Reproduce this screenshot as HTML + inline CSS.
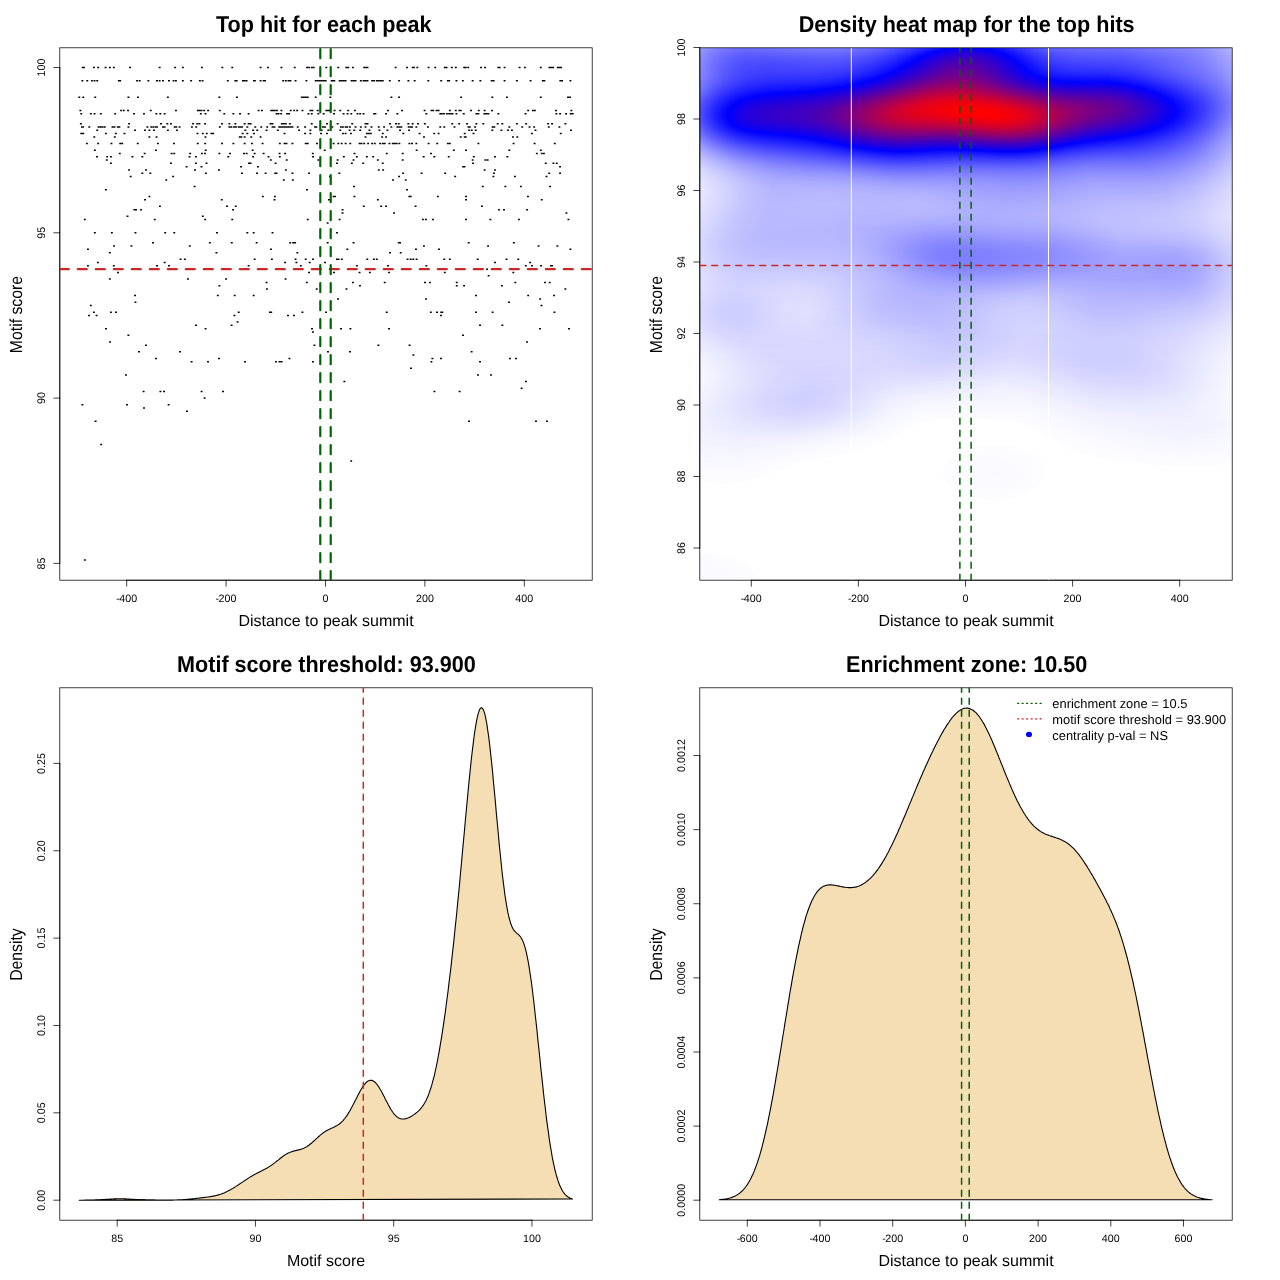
<!DOCTYPE html><html><head><meta charset="utf-8"><title>plots</title><style>html,body{margin:0;padding:0;background:#fff;}body{position:relative;width:1280px;height:1280px;overflow:hidden;}svg{display:block;position:absolute;left:0;top:0;will-change:transform;}text{font-family:"Liberation Sans",sans-serif;fill:#000;text-rendering:geometricPrecision;}#hm{position:absolute;left:700px;top:48px;width:532px;height:532px;}#hm div{height:1px;width:532px;}</style></head><body><div id="hm"><div style="background:linear-gradient(90deg,#9a9aff 0.5px,#8989ff 11.5px,#7c7cff 21.5px,#7373ff 31.5px,#6f6fff 41.5px,#6e6eff 57.5px,#7777ff 97.5px,#7979ff 122.5px,#7777ff 143.5px,#7070ff 162.5px,#6464ff 179.5px,#5252ff 195.5px,#3e3eff 209.5px,#1111ff 237.5px,#0000ff 250.5px,#0600f9 258.5px,#0800f7 266.5px,#0600f9 274.5px,#0100fe 282.5px,#0505ff 287.5px,#1111ff 296.5px,#4b4bff 332.5px,#5858ff 342.5px,#6161ff 352.5px,#6a6aff 372.5px,#6f6fff 426.5px,#8181ff 474.5px,#8a8aff 490.5px,#9494ff 504.5px,#a2a2ff 517.5px,#b4b4ff 531.5px)"></div><div style="background:linear-gradient(90deg,#9898ff 0.5px,#8585ff 12.5px,#7878ff 22.5px,#7070ff 32.5px,#6b6bff 42.5px,#6b6bff 58.5px,#7373ff 98.5px,#7676ff 121.5px,#7474ff 142.5px,#6d6dff 160.5px,#6060ff 178.5px,#4e4eff 195.5px,#3b3bff 208.5px,#0101ff 244.5px,#0b00f4 256.5px,#0f00f0 266.5px,#0b00f4 277.5px,#0000ff 288.5px,#0e0eff 298.5px,#4646ff 331.5px,#5454ff 342.5px,#5e5eff 353.5px,#6767ff 373.5px,#6c6cff 426.5px,#7f7fff 474.5px,#8888ff 490.5px,#9292ff 504.5px,#a0a0ff 517.5px,#b2b2ff 531.5px)"></div><div style="background:linear-gradient(90deg,#9797ff 0.5px,#8383ff 12.5px,#7676ff 22.5px,#6d6dff 32.5px,#6868ff 42.5px,#6868ff 59.5px,#7070ff 98.5px,#7272ff 121.5px,#7171ff 141.5px,#6a6aff 158.5px,#5e5eff 176.5px,#4a4aff 194.5px,#3636ff 208.5px,#0000ff 240.5px,#1000ef 254.5px,#1500ea 266.5px,#1000ef 278.5px,#0100fe 292.5px,#0a0aff 299.5px,#4141ff 331.5px,#5050ff 342.5px,#5a5aff 353.5px,#6363ff 373.5px,#6969ff 426.5px,#7d7dff 474.5px,#8686ff 491.5px,#9090ff 504.5px,#9e9eff 517.5px,#b1b1ff 531.5px)"></div><div style="background:linear-gradient(90deg,#9595ff 0.5px,#8181ff 12.5px,#7373ff 22.5px,#6a6aff 32.5px,#6666ff 42.5px,#6565ff 59.5px,#6f6fff 121.5px,#6d6dff 140.5px,#6767ff 157.5px,#5b5bff 175.5px,#4747ff 193.5px,#3131ff 208.5px,#0000ff 236.5px,#1400eb 252.5px,#1b00e4 266.5px,#1a00e5 273.5px,#1500ea 280.5px,#0000ff 296.5px,#3f3fff 332.5px,#4e4eff 343.5px,#5858ff 354.5px,#6161ff 374.5px,#6666ff 426.5px,#7a7aff 473.5px,#8484ff 490.5px,#8f8fff 504.5px,#9d9dff 517.5px,#b0b0ff 531.5px)"></div><div style="background:linear-gradient(90deg,#9393ff 0.5px,#7f7fff 12.5px,#7171ff 22.5px,#6868ff 32.5px,#6363ff 42.5px,#6262ff 59.5px,#6a6aff 101.5px,#6c6cff 124.5px,#6969ff 144.5px,#6161ff 162.5px,#5454ff 178.5px,#4242ff 194.5px,#2b2bff 209.5px,#0000ff 233.5px,#1000ef 243.5px,#1900e6 251.5px,#1f00e0 259.5px,#2100de 266.5px,#1f00e0 273.5px,#1900e6 281.5px,#1000ef 289.5px,#0000ff 299.5px,#3b3bff 332.5px,#4a4aff 343.5px,#5555ff 354.5px,#5e5eff 374.5px,#6060ff 409.5px,#6363ff 426.5px,#7878ff 473.5px,#8282ff 490.5px,#8d8dff 504.5px,#9b9bff 517.5px,#aeaeff 531.5px)"></div><div style="background:linear-gradient(90deg,#9292ff 0.5px,#7d7dff 12.5px,#6f6fff 22.5px,#6666ff 32.5px,#6060ff 43.5px,#5f5fff 60.5px,#6767ff 102.5px,#6969ff 124.5px,#6666ff 144.5px,#5e5eff 162.5px,#5151ff 178.5px,#3e3eff 194.5px,#2828ff 208.5px,#0000ff 230.5px,#1200ed 241.5px,#1e00e1 250.5px,#2400db 258.5px,#2700d8 266.5px,#2400db 274.5px,#1e00e1 282.5px,#1200ed 291.5px,#0100fe 301.5px,#0101ff 302.5px,#3939ff 333.5px,#4848ff 344.5px,#5252ff 355.5px,#5b5bff 374.5px,#6161ff 425.5px,#7575ff 472.5px,#7f7fff 489.5px,#8a8aff 503.5px,#9898ff 516.5px,#adadff 531.5px)"></div><div style="background:linear-gradient(90deg,#9191ff 0.5px,#7b7bff 12.5px,#6d6dff 22.5px,#6464ff 32.5px,#5e5eff 43.5px,#5c5cff 61.5px,#6565ff 103.5px,#6666ff 124.5px,#6363ff 143.5px,#5b5bff 161.5px,#4e4eff 177.5px,#3d3dff 192.5px,#2525ff 207.5px,#0101ff 227.5px,#1600e9 240.5px,#2200dd 249.5px,#2a00d5 258.5px,#2c00d3 266.5px,#2a00d5 274.5px,#2200dd 283.5px,#1400eb 293.5px,#0000ff 304.5px,#3636ff 333.5px,#4545ff 344.5px,#4f4fff 355.5px,#5858ff 374.5px,#5e5eff 425.5px,#7474ff 472.5px,#7e7eff 489.5px,#8989ff 503.5px,#9797ff 516.5px,#acacff 531.5px)"></div><div style="background:linear-gradient(90deg,#9090ff 0.5px,#7a7aff 12.5px,#6c6cff 22.5px,#6262ff 32.5px,#5c5cff 43.5px,#5a5aff 61.5px,#6363ff 124.5px,#6060ff 143.5px,#5959ff 160.5px,#4c4cff 176.5px,#3a3aff 191.5px,#2525ff 205.5px,#0000ff 225.5px,#1800e7 238.5px,#2600d9 248.5px,#2e00d1 257.5px,#3100ce 266.5px,#2e00d1 275.5px,#2500da 284.5px,#1700e8 294.5px,#0000ff 306.5px,#3434ff 334.5px,#4343ff 345.5px,#4d4dff 356.5px,#5656ff 374.5px,#5b5bff 424.5px,#7171ff 470.5px,#7c7cff 489.5px,#8787ff 503.5px,#9696ff 516.5px,#ababff 531.5px)"></div><div style="background:linear-gradient(90deg,#8e8eff 0.5px,#7979ff 12.5px,#6969ff 23.5px,#5f5fff 33.5px,#5959ff 44.5px,#5757ff 62.5px,#6161ff 124.5px,#5e5eff 142.5px,#5656ff 159.5px,#4949ff 175.5px,#3838ff 190.5px,#2222ff 204.5px,#0101ff 222.5px,#0100fe 223.5px,#1c00e3 238.5px,#2a00d5 247.5px,#3300cc 257.5px,#3600c9 266.5px,#3300cc 275.5px,#2900d6 285.5px,#1900e6 295.5px,#0000ff 308.5px,#2020ff 324.5px,#3333ff 335.5px,#4141ff 346.5px,#4b4bff 356.5px,#5353ff 374.5px,#5959ff 424.5px,#6f6fff 469.5px,#7a7aff 488.5px,#8686ff 503.5px,#9494ff 516.5px,#aaaaff 531.5px)"></div><div style="background:linear-gradient(90deg,#8d8dff 0.5px,#7777ff 12.5px,#6767ff 23.5px,#5d5dff 33.5px,#5757ff 44.5px,#5555ff 63.5px,#5e5eff 124.5px,#5b5bff 142.5px,#5353ff 159.5px,#4747ff 174.5px,#3636ff 189.5px,#2020ff 203.5px,#0101ff 220.5px,#1e00e1 236.5px,#2d00d2 246.5px,#3700c8 256.5px,#3a00c5 265.5px,#3800c7 274.5px,#2e00d1 284.5px,#1d00e2 295.5px,#0200fd 309.5px,#0000ff 310.5px,#1e1eff 325.5px,#3131ff 336.5px,#3f3fff 346.5px,#4848ff 356.5px,#5151ff 374.5px,#5656ff 423.5px,#6b6bff 466.5px,#7878ff 487.5px,#8484ff 502.5px,#9393ff 516.5px,#a9a9ff 531.5px)"></div><div style="background:linear-gradient(90deg,#8d8dff 0.5px,#7676ff 12.5px,#6666ff 23.5px,#5c5cff 33.5px,#5555ff 44.5px,#5353ff 63.5px,#5c5cff 124.5px,#5959ff 142.5px,#5151ff 158.5px,#4545ff 173.5px,#3434ff 188.5px,#1e1eff 202.5px,#0000ff 218.5px,#2000df 235.5px,#3000cf 245.5px,#3b00c4 255.5px,#3f00c0 265.5px,#3b00c4 275.5px,#3100ce 285.5px,#1f00e0 296.5px,#0100fe 311.5px,#2e2eff 336.5px,#3c3cff 346.5px,#4646ff 356.5px,#4e4eff 374.5px,#5454ff 422.5px,#6565ff 457.5px,#7474ff 484.5px,#8181ff 500.5px,#9191ff 515.5px,#a8a8ff 531.5px)"></div><div style="background:linear-gradient(90deg,#8c8cff 0.5px,#7575ff 12.5px,#6565ff 23.5px,#5b5bff 33.5px,#5454ff 44.5px,#5151ff 63.5px,#5959ff 125.5px,#5656ff 142.5px,#4e4eff 158.5px,#4242ff 173.5px,#3232ff 187.5px,#1c1cff 201.5px,#0000ff 216.5px,#2300dc 234.5px,#3400cb 245.5px,#3f00c0 255.5px,#4300bc 265.5px,#3f00c0 275.5px,#3400cb 285.5px,#2200dd 296.5px,#0200fd 312.5px,#0000ff 313.5px,#1b1bff 326.5px,#2d2dff 337.5px,#3b3bff 347.5px,#4343ff 356.5px,#4c4cff 374.5px,#5151ff 420.5px,#5f5fff 451.5px,#7272ff 482.5px,#7f7fff 499.5px,#8f8fff 514.5px,#a7a7ff 531.5px)"></div><div style="background:linear-gradient(90deg,#8b8bff 0.5px,#7474ff 12.5px,#6464ff 23.5px,#5858ff 34.5px,#5252ff 45.5px,#4f4fff 64.5px,#5757ff 124.5px,#5454ff 141.5px,#4c4cff 157.5px,#4141ff 171.5px,#3131ff 185.5px,#1c1cff 199.5px,#0000ff 214.5px,#2500da 233.5px,#3700c8 244.5px,#4300bc 255.5px,#4700b8 265.5px,#4300bc 275.5px,#3600c9 286.5px,#2400db 297.5px,#0000ff 314.5px,#2b2bff 337.5px,#3838ff 347.5px,#4242ff 357.5px,#4a4aff 375.5px,#4f4fff 419.5px,#5b5bff 447.5px,#7070ff 481.5px,#7d7dff 498.5px,#8e8eff 514.5px,#a6a6ff 531.5px)"></div><div style="background:linear-gradient(90deg,#8a8aff 0.5px,#7474ff 12.5px,#6363ff 23.5px,#5757ff 34.5px,#5151ff 45.5px,#4e4eff 65.5px,#5555ff 124.5px,#5252ff 141.5px,#4a4aff 156.5px,#3f3fff 170.5px,#2f2fff 184.5px,#1c1cff 197.5px,#0101ff 212.5px,#2900d6 233.5px,#3b00c4 244.5px,#4700b8 255.5px,#4a00b5 265.5px,#4600b9 275.5px,#3a00c5 286.5px,#2700d8 297.5px,#0100fe 315.5px,#0101ff 316.5px,#1919ff 328.5px,#2a2aff 338.5px,#3636ff 347.5px,#4040ff 357.5px,#4848ff 375.5px,#4c4cff 418.5px,#5858ff 444.5px,#6f6fff 481.5px,#7c7cff 498.5px,#8d8dff 514.5px,#a5a5ff 531.5px)"></div><div style="background:linear-gradient(90deg,#8a8aff 0.5px,#7373ff 12.5px,#6262ff 23.5px,#5656ff 34.5px,#4f4fff 45.5px,#4c4cff 65.5px,#5353ff 124.5px,#4f4fff 141.5px,#4848ff 156.5px,#3c3cff 170.5px,#2e2eff 183.5px,#1c1cff 195.5px,#0100fe 211.5px,#2b00d4 232.5px,#3d00c2 243.5px,#4a00b5 254.5px,#4e00b1 264.5px,#4900b6 275.5px,#3d00c2 286.5px,#2800d7 298.5px,#0100fe 316.5px,#0101ff 317.5px,#1919ff 329.5px,#2929ff 339.5px,#3535ff 348.5px,#3d3dff 357.5px,#4545ff 375.5px,#4949ff 417.5px,#5555ff 442.5px,#6d6dff 481.5px,#7b7bff 498.5px,#8c8cff 514.5px,#a4a4ff 531.5px)"></div><div style="background:linear-gradient(90deg,#8989ff 0.5px,#7272ff 12.5px,#6161ff 23.5px,#5555ff 34.5px,#4e4eff 45.5px,#4a4aff 65.5px,#5151ff 124.5px,#4d4dff 140.5px,#4646ff 155.5px,#3b3bff 169.5px,#2c2cff 182.5px,#1a1aff 194.5px,#0000ff 209.5px,#2c00d3 231.5px,#4100be 243.5px,#4d00b2 254.5px,#5100ae 264.5px,#4d00b2 275.5px,#4000bf 286.5px,#2a00d5 298.5px,#0200fd 317.5px,#0000ff 318.5px,#1616ff 329.5px,#2727ff 339.5px,#3333ff 348.5px,#3b3bff 357.5px,#4343ff 374.5px,#4747ff 416.5px,#5252ff 441.5px,#7a7aff 498.5px,#8b8bff 514.5px,#a3a3ff 531.5px)"></div><div style="background:linear-gradient(90deg,#8989ff 0.5px,#7070ff 13.5px,#5f5fff 24.5px,#5353ff 35.5px,#4c4cff 46.5px,#4949ff 66.5px,#4e4eff 124.5px,#4b4bff 140.5px,#4444ff 155.5px,#3939ff 168.5px,#2a2aff 181.5px,#1717ff 194.5px,#0000ff 207.5px,#3000cf 231.5px,#4300bc 242.5px,#5000af 253.5px,#5400ab 264.5px,#4f00b0 275.5px,#4200bd 286.5px,#2d00d2 298.5px,#0200fd 318.5px,#0000ff 319.5px,#2525ff 339.5px,#3838ff 356.5px,#4040ff 374.5px,#4444ff 416.5px,#4f4fff 439.5px,#7979ff 498.5px,#8a8aff 514.5px,#a3a3ff 531.5px)"></div><div style="background:linear-gradient(90deg,#8989ff 0.5px,#6f6fff 13.5px,#5f5fff 24.5px,#5353ff 35.5px,#4b4bff 46.5px,#4848ff 67.5px,#4c4cff 124.5px,#4949ff 140.5px,#4242ff 154.5px,#3737ff 167.5px,#2929ff 180.5px,#1717ff 192.5px,#0000ff 205.5px,#3300cc 231.5px,#4600b9 242.5px,#5300ac 253.5px,#5700a8 264.5px,#5200ad 275.5px,#4500ba 286.5px,#2f00d0 298.5px,#0000ff 320.5px,#2222ff 339.5px,#3636ff 356.5px,#3e3eff 374.5px,#4242ff 415.5px,#4c4cff 438.5px,#7878ff 498.5px,#8989ff 514.5px,#a2a2ff 531.5px)"></div><div style="background:linear-gradient(90deg,#8888ff 0.5px,#7373ff 11.5px,#6262ff 21.5px,#5656ff 31.5px,#4d4dff 41.5px,#4646ff 62.5px,#4b4bff 118.5px,#4545ff 145.5px,#3b3bff 160.5px,#2d2dff 174.5px,#1a1aff 188.5px,#0101ff 203.5px,#0500fa 206.5px,#3700c8 231.5px,#4800b7 241.5px,#5500aa 252.5px,#5a00a5 263.5px,#5600a9 274.5px,#4700b8 286.5px,#3200cd 298.5px,#0000ff 321.5px,#2020ff 339.5px,#3333ff 356.5px,#3b3bff 373.5px,#3f3fff 414.5px,#4949ff 436.5px,#7777ff 498.5px,#8888ff 514.5px,#a1a1ff 531.5px)"></div><div style="background:linear-gradient(90deg,#8888ff 0.5px,#7272ff 11.5px,#6262ff 21.5px,#5555ff 31.5px,#4c4cff 41.5px,#4545ff 62.5px,#4949ff 117.5px,#4343ff 144.5px,#3939ff 159.5px,#2b2bff 173.5px,#1a1aff 186.5px,#0100fe 202.5px,#3800c7 230.5px,#4b00b4 241.5px,#5800a7 252.5px,#5d00a2 263.5px,#5800a7 274.5px,#4a00b5 286.5px,#3400cb 298.5px,#0000ff 322.5px,#1f1fff 340.5px,#3131ff 356.5px,#3939ff 373.5px,#3c3cff 413.5px,#4646ff 435.5px,#7676ff 498.5px,#8787ff 514.5px,#a0a0ff 531.5px)"></div><div style="background:linear-gradient(90deg,#8888ff 0.5px,#7272ff 11.5px,#6161ff 21.5px,#5454ff 31.5px,#4b4bff 41.5px,#4444ff 62.5px,#4747ff 117.5px,#4141ff 143.5px,#3737ff 158.5px,#2a2aff 172.5px,#1919ff 185.5px,#0000ff 200.5px,#3a00c5 229.5px,#4d00b2 240.5px,#5b00a4 252.5px,#60009f 263.5px,#5b00a4 274.5px,#4c00b3 286.5px,#3600c9 298.5px,#0100fe 323.5px,#1d1dff 340.5px,#2e2eff 355.5px,#3636ff 373.5px,#3939ff 413.5px,#4343ff 434.5px,#7575ff 498.5px,#8686ff 514.5px,#a0a0ff 531.5px)"></div><div style="background:linear-gradient(90deg,#8787ff 0.5px,#6f6fff 12.5px,#5f5fff 22.5px,#5252ff 32.5px,#4a4aff 42.5px,#4242ff 63.5px,#4545ff 117.5px,#3f3fff 142.5px,#3636ff 156.5px,#2929ff 170.5px,#1717ff 184.5px,#0000ff 198.5px,#3d00c2 229.5px,#5000af 240.5px,#5e00a1 252.5px,#62009d 263.5px,#5e00a1 274.5px,#4f00b0 286.5px,#3a00c5 297.5px,#0100fe 324.5px,#1f1fff 343.5px,#2e2eff 360.5px,#3333ff 374.5px,#3636ff 413.5px,#3c3cff 427.5px,#4646ff 442.5px,#7575ff 500.5px,#8787ff 515.5px,#9f9fff 531.5px)"></div><div style="background:linear-gradient(90deg,#8787ff 0.5px,#6f6fff 12.5px,#5e5eff 22.5px,#5252ff 32.5px,#4949ff 42.5px,#4141ff 63.5px,#4343ff 117.5px,#3c3cff 142.5px,#3434ff 156.5px,#2727ff 169.5px,#1717ff 182.5px,#0000ff 196.5px,#3f00c0 228.5px,#5200ad 239.5px,#61009e 251.5px,#65009a 262.5px,#60009f 274.5px,#5100ae 286.5px,#3d00c2 297.5px,#0100fe 325.5px,#0101ff 326.5px,#1d1dff 344.5px,#2b2bff 360.5px,#3030ff 374.5px,#3333ff 412.5px,#3838ff 425.5px,#4141ff 439.5px,#7474ff 500.5px,#8686ff 515.5px,#9e9eff 531.5px)"></div><div style="background:linear-gradient(90deg,#8686ff 0.5px,#6e6eff 12.5px,#5e5eff 22.5px,#5151ff 32.5px,#4848ff 42.5px,#4242ff 52.5px,#3f3fff 64.5px,#4141ff 116.5px,#3a3aff 141.5px,#3232ff 155.5px,#2525ff 168.5px,#1515ff 181.5px,#0000ff 194.5px,#4300bc 228.5px,#5400ab 238.5px,#63009c 250.5px,#680097 262.5px,#63009c 274.5px,#5300ac 286.5px,#3f00c0 297.5px,#0000ff 327.5px,#1a1aff 344.5px,#2929ff 360.5px,#2d2dff 374.5px,#2f2fff 411.5px,#3434ff 423.5px,#3d3dff 437.5px,#7373ff 500.5px,#8585ff 515.5px,#9d9dff 531.5px)"></div><div style="background:linear-gradient(90deg,#8686ff 0.5px,#6e6eff 12.5px,#5d5dff 22.5px,#5050ff 32.5px,#4646ff 43.5px,#3e3eff 64.5px,#3f3fff 116.5px,#3838ff 140.5px,#3030ff 153.5px,#2424ff 166.5px,#1515ff 178.5px,#0000ff 192.5px,#4400bb 227.5px,#5700a8 238.5px,#660099 250.5px,#6b0094 262.5px,#65009a 274.5px,#5600a9 286.5px,#4200bd 297.5px,#0100fe 328.5px,#1919ff 345.5px,#2525ff 360.5px,#2a2aff 374.5px,#2c2cff 410.5px,#3030ff 422.5px,#3939ff 435.5px,#7272ff 500.5px,#8484ff 515.5px,#9c9cff 531.5px)"></div><div style="background:linear-gradient(90deg,#8686ff 0.5px,#6d6dff 12.5px,#5c5cff 22.5px,#4f4fff 32.5px,#4545ff 43.5px,#3d3dff 64.5px,#3c3cff 115.5px,#3636ff 139.5px,#2e2eff 152.5px,#2323ff 164.5px,#1515ff 176.5px,#0100fe 190.5px,#5900a6 237.5px,#680097 249.5px,#6e0091 261.5px,#690096 273.5px,#5a00a5 285.5px,#4600b9 296.5px,#0000ff 330.5px,#1616ff 345.5px,#2222ff 360.5px,#2626ff 374.5px,#2828ff 410.5px,#2d2dff 422.5px,#3535ff 434.5px,#7171ff 500.5px,#8383ff 515.5px,#9c9cff 531.5px)"></div><div style="background:linear-gradient(90deg,#8585ff 0.5px,#6d6dff 12.5px,#5a5aff 23.5px,#4d4dff 33.5px,#4343ff 44.5px,#3b3bff 65.5px,#3a3aff 114.5px,#3434ff 137.5px,#2c2cff 150.5px,#2222ff 162.5px,#1414ff 174.5px,#0000ff 187.5px,#1300ec 198.5px,#4800b7 225.5px,#5d00a2 237.5px,#6c0093 249.5px,#71008e 261.5px,#6c0093 273.5px,#5d00a2 285.5px,#4b00b4 295.5px,#1800e7 319.5px,#0200fd 331.5px,#0000ff 332.5px,#1515ff 347.5px,#1f1fff 361.5px,#2323ff 374.5px,#2424ff 408.5px,#2f2fff 431.5px,#6f6fff 500.5px,#8282ff 515.5px,#9b9bff 531.5px)"></div><div style="background:linear-gradient(90deg,#8484ff 0.5px,#6c6cff 12.5px,#5959ff 23.5px,#4c4cff 33.5px,#4242ff 44.5px,#3939ff 65.5px,#3838ff 114.5px,#3232ff 136.5px,#2b2bff 148.5px,#2020ff 160.5px,#1313ff 172.5px,#0000ff 185.5px,#5f00a0 236.5px,#6f0090 249.5px,#74008b 261.5px,#6f0090 273.5px,#60009f 285.5px,#4c00b3 296.5px,#1500ea 322.5px,#0100fe 333.5px,#0000ff 334.5px,#1212ff 348.5px,#1b1bff 361.5px,#1f1fff 374.5px,#2020ff 408.5px,#2b2bff 430.5px,#6e6eff 500.5px,#8181ff 515.5px,#9a9aff 531.5px)"></div><div style="background:linear-gradient(90deg,#8484ff 0.5px,#6b6bff 12.5px,#5858ff 23.5px,#4b4bff 33.5px,#4040ff 44.5px,#3737ff 66.5px,#3535ff 113.5px,#2f2fff 135.5px,#2828ff 147.5px,#1e1eff 159.5px,#1111ff 170.5px,#0000ff 182.5px,#1600e9 195.5px,#4f00b0 224.5px,#63009c 236.5px,#72008d 248.5px,#770088 260.5px,#72008d 272.5px,#62009d 285.5px,#4f00b0 296.5px,#1700e8 323.5px,#0000ff 336.5px,#0f0fff 349.5px,#1818ff 362.5px,#1b1bff 374.5px,#1b1bff 407.5px,#2626ff 429.5px,#6c6cff 500.5px,#7f7fff 515.5px,#9999ff 531.5px)"></div><div style="background:linear-gradient(90deg,#8383ff 0.5px,#6a6aff 12.5px,#5757ff 23.5px,#4848ff 34.5px,#3e3eff 45.5px,#3535ff 66.5px,#3232ff 113.5px,#2d2dff 134.5px,#1c1cff 157.5px,#0000ff 179.5px,#1700e8 193.5px,#5100ae 223.5px,#660099 235.5px,#760089 248.5px,#7b0084 260.5px,#760089 272.5px,#670098 284.5px,#5200ad 296.5px,#1800e7 324.5px,#0000ff 339.5px,#0d0dff 351.5px,#1414ff 363.5px,#1717ff 406.5px,#1b1bff 417.5px,#2222ff 428.5px,#6b6bff 500.5px,#7e7eff 515.5px,#9898ff 531.5px)"></div><div style="background:linear-gradient(90deg,#8282ff 0.5px,#6969ff 12.5px,#5656ff 23.5px,#4747ff 34.5px,#3d3dff 45.5px,#3333ff 66.5px,#3030ff 112.5px,#2a2aff 132.5px,#1b1bff 154.5px,#0101ff 176.5px,#1800e7 191.5px,#5600a9 223.5px,#6a0095 235.5px,#7a0085 248.5px,#7e0081 260.5px,#790086 272.5px,#6b0094 284.5px,#5700a8 295.5px,#1a00e5 325.5px,#0000ff 342.5px,#0a0aff 353.5px,#1010ff 363.5px,#1212ff 405.5px,#1616ff 416.5px,#1d1dff 427.5px,#2a2aff 441.5px,#6969ff 500.5px,#7d7dff 515.5px,#9797ff 531.5px)"></div><div style="background:linear-gradient(90deg,#8181ff 0.5px,#6666ff 13.5px,#5353ff 24.5px,#4444ff 35.5px,#3a3aff 46.5px,#3131ff 67.5px,#2d2dff 111.5px,#2727ff 131.5px,#1919ff 152.5px,#0000ff 173.5px,#1b00e4 190.5px,#5900a6 222.5px,#6d0092 234.5px,#7d0082 247.5px,#82007d 259.5px,#7d0082 271.5px,#70008f 283.5px,#5b00a4 295.5px,#1b00e4 327.5px,#0b00f4 337.5px,#0000ff 346.5px,#0b0bff 364.5px,#0d0dff 405.5px,#1111ff 416.5px,#1919ff 427.5px,#2626ff 441.5px,#6868ff 501.5px,#7d7dff 516.5px,#9696ff 531.5px)"></div><div style="background:linear-gradient(90deg,#8080ff 0.5px,#6565ff 13.5px,#5151ff 24.5px,#4242ff 35.5px,#3838ff 46.5px,#2e2eff 67.5px,#2a2aff 111.5px,#2424ff 130.5px,#1717ff 150.5px,#0000ff 170.5px,#1e00e1 189.5px,#5c00a3 221.5px,#70008f 233.5px,#81007e 247.5px,#860079 259.5px,#82007d 270.5px,#75008a 282.5px,#61009e 294.5px,#1c00e3 329.5px,#0c00f3 340.5px,#0100fe 351.5px,#0808ff 369.5px,#0909ff 406.5px,#1313ff 426.5px,#2222ff 441.5px,#6767ff 501.5px,#7b7bff 516.5px,#9595ff 531.5px)"></div><div style="background:linear-gradient(90deg,#7f7fff 0.5px,#6363ff 13.5px,#5050ff 24.5px,#4141ff 35.5px,#3636ff 46.5px,#2c2cff 67.5px,#2727ff 110.5px,#2121ff 128.5px,#1515ff 147.5px,#0000ff 166.5px,#1e00e1 186.5px,#61009e 221.5px,#75008a 233.5px,#85007a 247.5px,#8a0075 259.5px,#860079 270.5px,#7a0085 281.5px,#660099 293.5px,#3100ce 320.5px,#1c00e3 332.5px,#0a00f5 346.5px,#0000ff 360.5px,#0303ff 372.5px,#0404ff 405.5px,#0808ff 416.5px,#1010ff 427.5px,#1e1eff 441.5px,#6565ff 501.5px,#7a7aff 516.5px,#9393ff 531.5px)"></div><div style="background:linear-gradient(90deg,#7e7eff 0.5px,#6262ff 13.5px,#4e4eff 24.5px,#3f3fff 35.5px,#3333ff 47.5px,#2929ff 68.5px,#2424ff 108.5px,#1e1eff 126.5px,#1313ff 144.5px,#0100fe 163.5px,#2200dd 185.5px,#65009a 220.5px,#790086 232.5px,#890076 246.5px,#8e0071 259.5px,#890076 271.5px,#7b0084 283.5px,#670098 295.5px,#2900d6 327.5px,#1a00e5 337.5px,#0e00f1 347.5px,#0700f8 356.5px,#0300fc 366.5px,#0300fc 398.5px,#0000ff 410.5px,#0909ff 425.5px,#1c1cff 443.5px,#6767ff 504.5px,#7a7aff 517.5px,#9292ff 531.5px)"></div><div style="background:linear-gradient(90deg,#7d7dff 0.5px,#6060ff 13.5px,#4c4cff 24.5px,#3c3cff 35.5px,#3131ff 47.5px,#2626ff 68.5px,#2020ff 107.5px,#1b1bff 124.5px,#1111ff 141.5px,#0100fe 159.5px,#2200dd 182.5px,#680097 219.5px,#7e0081 232.5px,#8e0071 246.5px,#93006c 258.5px,#8e0071 270.5px,#81007e 282.5px,#6d0092 294.5px,#2e00d1 327.5px,#1e00e1 338.5px,#1300ec 348.5px,#0900f6 365.5px,#0800f7 401.5px,#0000ff 419.5px,#1212ff 438.5px,#5e5eff 499.5px,#7575ff 515.5px,#9191ff 531.5px)"></div><div style="background:linear-gradient(90deg,#7b7bff 0.5px,#5e5eff 13.5px,#4a4aff 24.5px,#3a3aff 35.5px,#2e2eff 47.5px,#2323ff 68.5px,#1d1dff 107.5px,#1818ff 123.5px,#0e0eff 139.5px,#0000ff 154.5px,#0f00f0 166.5px,#2300dc 179.5px,#6c0093 218.5px,#82007d 231.5px,#92006d 245.5px,#970068 258.5px,#93006c 270.5px,#860079 282.5px,#72008d 294.5px,#3200cd 328.5px,#2300dc 338.5px,#1800e7 348.5px,#1200ed 357.5px,#0e00f1 367.5px,#0c00f3 406.5px,#0000ff 425.5px,#0f0fff 439.5px,#5f5fff 501.5px,#7575ff 516.5px,#9090ff 531.5px)"></div><div style="background:linear-gradient(90deg,#7a7aff 0.5px,#5d5dff 13.5px,#4848ff 24.5px,#3838ff 35.5px,#2b2bff 47.5px,#2020ff 68.5px,#1515ff 121.5px,#0d0dff 135.5px,#0000ff 150.5px,#1000ef 163.5px,#2600d9 177.5px,#72008d 218.5px,#870078 231.5px,#970068 245.5px,#9c0063 258.5px,#970068 270.5px,#890076 283.5px,#760089 295.5px,#3800c7 328.5px,#2900d6 338.5px,#1e00e1 348.5px,#1800e7 357.5px,#1400eb 367.5px,#1100ee 407.5px,#0b00f4 418.5px,#0000ff 430.5px,#0d0dff 441.5px,#5e5eff 502.5px,#7373ff 516.5px,#8f8fff 531.5px)"></div><div style="background:linear-gradient(90deg,#7878ff 0.5px,#5b5bff 13.5px,#4545ff 24.5px,#3535ff 35.5px,#2828ff 47.5px,#1d1dff 68.5px,#1111ff 119.5px,#0a0aff 132.5px,#0000ff 145.5px,#1000ef 159.5px,#2600d9 174.5px,#760089 217.5px,#8d0072 231.5px,#9c0063 245.5px,#a1005e 258.5px,#9c0063 270.5px,#8e0071 283.5px,#7b0084 295.5px,#3e00c1 328.5px,#2f00d0 338.5px,#2400db 348.5px,#1a00e5 366.5px,#1600e9 408.5px,#0e00f1 421.5px,#0100fe 434.5px,#0a0aff 442.5px,#5d5dff 503.5px,#7373ff 517.5px,#8d8dff 531.5px)"></div><div style="background:linear-gradient(90deg,#7777ff 0.5px,#5858ff 13.5px,#4343ff 24.5px,#3232ff 35.5px,#2525ff 47.5px,#1919ff 68.5px,#0e0eff 117.5px,#0000ff 139.5px,#1100ee 155.5px,#2800d7 171.5px,#4200bd 186.5px,#7a0085 216.5px,#91006e 230.5px,#a1005e 244.5px,#a60059 257.5px,#a1005e 270.5px,#93006c 283.5px,#80007f 295.5px,#4400bb 328.5px,#3600c9 338.5px,#2b00d4 348.5px,#2000df 366.5px,#1e00e1 397.5px,#1b00e4 409.5px,#1100ee 423.5px,#0000ff 438.5px,#5d5dff 504.5px,#7272ff 517.5px,#8c8cff 531.5px)"></div><div style="background:linear-gradient(90deg,#7575ff 0.5px,#5656ff 13.5px,#4040ff 24.5px,#2f2fff 35.5px,#2222ff 47.5px,#1717ff 65.5px,#0c0cff 111.5px,#0000ff 133.5px,#1000ef 150.5px,#2700d8 167.5px,#4200bd 183.5px,#81007e 216.5px,#970068 230.5px,#a60059 244.5px,#ab0054 257.5px,#a60059 270.5px,#990066 283.5px,#860079 295.5px,#4b00b4 328.5px,#3c00c3 338.5px,#3100ce 348.5px,#2700d8 366.5px,#2400db 397.5px,#2000df 410.5px,#1500ea 424.5px,#0101ff 442.5px,#5a5aff 504.5px,#7070ff 517.5px,#8b8bff 531.5px)"></div><div style="background:linear-gradient(90deg,#7373ff 0.5px,#5454ff 13.5px,#3e3eff 24.5px,#2c2cff 35.5px,#1f1fff 47.5px,#1313ff 67.5px,#0909ff 107.5px,#0000ff 126.5px,#0f00f0 144.5px,#2700d8 163.5px,#4300bc 180.5px,#85007a 215.5px,#9d0062 230.5px,#ab0054 244.5px,#b0004f 257.5px,#ab0054 270.5px,#9e0061 283.5px,#8a0075 296.5px,#5000af 329.5px,#3800c7 348.5px,#2d00d2 366.5px,#2a00d5 398.5px,#2500da 411.5px,#1800e7 426.5px,#0101ff 445.5px,#5a5aff 505.5px,#8a8aff 531.5px)"></div><div style="background:linear-gradient(90deg,#7171ff 0.5px,#5252ff 13.5px,#3b3bff 24.5px,#2929ff 35.5px,#1d1dff 46.5px,#0f0fff 67.5px,#0000ff 118.5px,#0f00f0 139.5px,#2700d8 159.5px,#4600b9 178.5px,#8b0074 215.5px,#a2005d 230.5px,#b1004e 244.5px,#b5004a 257.5px,#b1004e 270.5px,#a2005d 284.5px,#8f0070 297.5px,#5700a8 329.5px,#3e00c1 348.5px,#3300cc 366.5px,#2f00d0 398.5px,#2a00d5 412.5px,#1b00e4 428.5px,#0100fe 447.5px,#5555ff 503.5px,#6d6dff 517.5px,#8989ff 531.5px)"></div><div style="background:linear-gradient(90deg,#6f6fff 0.5px,#4f4fff 13.5px,#3838ff 24.5px,#2828ff 34.5px,#1a1aff 45.5px,#1212ff 55.5px,#0b0bff 67.5px,#0000ff 108.5px,#0c00f3 129.5px,#2000df 149.5px,#4000bf 171.5px,#890076 210.5px,#a1005e 225.5px,#b5004a 242.5px,#ba0045 257.5px,#b60049 270.5px,#a80057 284.5px,#95006a 297.5px,#5c00a3 330.5px,#4500ba 348.5px,#3a00c5 366.5px,#3400cb 399.5px,#2e00d1 413.5px,#1e00e1 430.5px,#0000ff 450.5px,#5454ff 504.5px,#6b6bff 517.5px,#8787ff 531.5px)"></div><div style="background:linear-gradient(90deg,#6d6dff 0.5px,#4d4dff 13.5px,#3535ff 24.5px,#2525ff 34.5px,#1717ff 45.5px,#0d0dff 57.5px,#0606ff 72.5px,#0000ff 93.5px,#0300fc 103.5px,#0e00f1 126.5px,#2300dc 147.5px,#4300bc 169.5px,#8c0073 208.5px,#a60059 224.5px,#b90046 241.5px,#c0003f 257.5px,#bb0044 271.5px,#ad0052 285.5px,#9a0065 298.5px,#63009c 330.5px,#4c00b3 348.5px,#4000bf 366.5px,#3a00c5 399.5px,#3300cc 414.5px,#2100de 431.5px,#0000ff 453.5px,#5454ff 505.5px,#8686ff 531.5px)"></div><div style="background:linear-gradient(90deg,#6b6bff 0.5px,#4a4aff 13.5px,#3131ff 25.5px,#1e1eff 36.5px,#1010ff 48.5px,#0707ff 61.5px,#0000ff 77.5px,#0700f8 104.5px,#1300ec 126.5px,#2700d8 146.5px,#4600b9 167.5px,#90006f 207.5px,#aa0055 223.5px,#bf0040 241.5px,#c5003a 257.5px,#c0003f 271.5px,#b3004c 285.5px,#9e0061 299.5px,#690096 331.5px,#5300ac 348.5px,#4700b8 366.5px,#3f00c0 399.5px,#3700c8 414.5px,#2400db 432.5px,#0000ff 455.5px,#5050ff 504.5px,#8585ff 531.5px)"></div><div style="background:linear-gradient(90deg,#6969ff 0.5px,#4545ff 14.5px,#2c2cff 26.5px,#1818ff 38.5px,#0b0bff 50.5px,#0000ff 66.5px,#0c00f3 105.5px,#1800e7 126.5px,#2b00d4 145.5px,#4b00b4 166.5px,#95006a 206.5px,#af0050 222.5px,#c3003c 240.5px,#c80037 249.5px,#ca0035 257.5px,#c60039 271.5px,#b70048 286.5px,#a3005c 300.5px,#6e0091 332.5px,#5900a6 349.5px,#4d00b2 366.5px,#4400bb 400.5px,#3c00c3 415.5px,#2700d8 433.5px,#0100fe 457.5px,#4e4eff 504.5px,#8484ff 531.5px)"></div><div style="background:linear-gradient(90deg,#6767ff 0.5px,#4343ff 14.5px,#2727ff 27.5px,#1212ff 40.5px,#0505ff 53.5px,#0000ff 60.5px,#1100ee 105.5px,#1c00e3 125.5px,#2e00d1 143.5px,#4d00b2 164.5px,#980067 204.5px,#b3004c 221.5px,#c80037 240.5px,#cf0030 257.5px,#ca0035 272.5px,#bc0043 287.5px,#a80057 301.5px,#73008c 334.5px,#5c00a3 353.5px,#5200ad 369.5px,#4700b8 404.5px,#3b00c4 420.5px,#2700d8 436.5px,#0100fe 459.5px,#4a4aff 503.5px,#6363ff 516.5px,#8383ff 531.5px)"></div><div style="background:linear-gradient(90deg,#6565ff 0.5px,#3d3dff 15.5px,#2222ff 28.5px,#0d0dff 41.5px,#0000ff 54.5px,#0a00f5 71.5px,#1500ea 106.5px,#2300dc 128.5px,#3c00c3 149.5px,#5900a6 167.5px,#a3005c 207.5px,#be0041 225.5px,#cf0030 242.5px,#d4002b 258.5px,#cf0030 273.5px,#c1003e 288.5px,#ae0051 302.5px,#790086 335.5px,#62009d 354.5px,#5700a8 370.5px,#4c00b3 404.5px,#4000bf 420.5px,#2900d6 437.5px,#0100fe 461.5px,#4848ff 503.5px,#8282ff 531.5px)"></div><div style="background:linear-gradient(90deg,#6363ff 0.5px,#3d3dff 14.5px,#2222ff 26.5px,#0e0eff 38.5px,#0000ff 50.5px,#0c00f3 68.5px,#1a00e5 107.5px,#2800d7 128.5px,#4000bf 148.5px,#5d00a2 166.5px,#a60059 205.5px,#c2003d 224.5px,#d3002c 241.5px,#d90026 258.5px,#d4002b 273.5px,#c60039 289.5px,#b3004c 303.5px,#7d0082 337.5px,#680097 355.5px,#5d00a2 371.5px,#5100ae 404.5px,#4400bb 420.5px,#2d00d2 437.5px,#0000ff 463.5px,#4848ff 504.5px,#8282ff 531.5px)"></div><div style="background:linear-gradient(90deg,#6161ff 0.5px,#3d3dff 13.5px,#2121ff 25.5px,#0c0cff 37.5px,#0100fe 47.5px,#1000ef 67.5px,#2000df 111.5px,#3000cf 131.5px,#3e00c1 143.5px,#5100ae 156.5px,#a3005c 200.5px,#c1003e 219.5px,#ce0031 230.5px,#d70028 240.5px,#dc0023 250.5px,#dd0022 259.5px,#d90026 274.5px,#ca0035 290.5px,#b60049 305.5px,#82007d 338.5px,#6d0092 356.5px,#62009d 372.5px,#5500aa 404.5px,#4800b7 420.5px,#2f00d0 438.5px,#0000ff 465.5px,#4747ff 504.5px,#8181ff 531.5px)"></div><div style="background:linear-gradient(90deg,#5f5fff 0.5px,#3b3bff 13.5px,#2121ff 24.5px,#0c0cff 35.5px,#0100fe 44.5px,#1000ef 62.5px,#2300dc 108.5px,#3400cb 131.5px,#4300bc 143.5px,#5500aa 155.5px,#a70058 199.5px,#c5003a 218.5px,#d2002d 229.5px,#da0025 239.5px,#e0001f 249.5px,#e1001e 259.5px,#dd0022 275.5px,#ce0031 292.5px,#bb0044 306.5px,#860079 340.5px,#72008d 357.5px,#670098 372.5px,#5900a6 404.5px,#4b00b4 420.5px,#3300cc 438.5px,#0100fe 466.5px,#4343ff 503.5px,#8080ff 531.5px)"></div><div style="background:linear-gradient(90deg,#5d5dff 0.5px,#3b3bff 12.5px,#2222ff 22.5px,#0e0eff 32.5px,#0000ff 41.5px,#0c00f3 51.5px,#1300ec 61.5px,#2700d8 108.5px,#3800c7 130.5px,#4500ba 141.5px,#5700a8 153.5px,#a90056 197.5px,#c80037 217.5px,#d5002a 228.5px,#de0021 239.5px,#e4001b 250.5px,#e60019 260.5px,#e1001e 276.5px,#d3002c 293.5px,#bf0040 308.5px,#8a0075 342.5px,#760089 359.5px,#6c0093 373.5px,#5d00a2 404.5px,#4f00b0 420.5px,#3600c9 438.5px,#0000ff 468.5px,#4444ff 504.5px,#8080ff 531.5px)"></div><div style="background:linear-gradient(90deg,#5b5bff 0.5px,#3b3bff 11.5px,#2222ff 21.5px,#0d0dff 31.5px,#0000ff 39.5px,#0d00f2 49.5px,#1700e8 61.5px,#2a00d5 107.5px,#3b00c4 129.5px,#4800b7 140.5px,#5a00a5 152.5px,#ac0053 196.5px,#cb0034 216.5px,#d90026 228.5px,#e2001d 239.5px,#e80017 250.5px,#e90016 261.5px,#e4001b 278.5px,#d60029 295.5px,#c2003d 310.5px,#8f0070 343.5px,#7b0084 360.5px,#70008f 374.5px,#5f00a0 405.5px,#5200ad 420.5px,#3700c8 439.5px,#0000ff 469.5px,#4242ff 504.5px,#7f7fff 531.5px)"></div><div style="background:linear-gradient(90deg,#5959ff 0.5px,#3939ff 11.5px,#2222ff 20.5px,#0e0eff 29.5px,#0000ff 37.5px,#0f00f0 48.5px,#1900e6 60.5px,#2d00d2 107.5px,#3e00c1 128.5px,#4b00b4 139.5px,#5d00a2 151.5px,#af0050 195.5px,#ce0031 215.5px,#dc0023 227.5px,#e60019 239.5px,#eb0014 251.5px,#ed0012 262.5px,#e80017 280.5px,#d90026 297.5px,#c5003a 312.5px,#92006d 345.5px,#7e0081 362.5px,#74008b 375.5px,#62009d 405.5px,#5400ab 420.5px,#3900c6 439.5px,#0000ff 470.5px,#3f3fff 503.5px,#7f7fff 531.5px)"></div><div style="background:linear-gradient(90deg,#5858ff 0.5px,#2222ff 19.5px,#0f0fff 27.5px,#0000ff 35.5px,#1100ee 47.5px,#1c00e3 59.5px,#3000cf 106.5px,#4000bf 127.5px,#4e00b1 138.5px,#5e00a1 149.5px,#b1004e 193.5px,#d1002e 214.5px,#de0021 226.5px,#e80017 238.5px,#ee0011 251.5px,#f0000f 263.5px,#ec0013 279.5px,#e1001e 294.5px,#ce0031 310.5px,#9b0064 343.5px,#860079 359.5px,#780087 375.5px,#64009b 406.5px,#5700a8 420.5px,#3a00c5 440.5px,#0100fe 471.5px,#3e3eff 503.5px,#7f7fff 531.5px)"></div><div style="background:linear-gradient(90deg,#5656ff 0.5px,#1f1fff 19.5px,#0909ff 29.5px,#0100fe 34.5px,#1200ed 46.5px,#1f00e0 59.5px,#3300cc 106.5px,#4300bc 126.5px,#5000af 137.5px,#61009e 148.5px,#b3004c 192.5px,#d2002d 212.5px,#e1001e 225.5px,#eb0014 238.5px,#f1000e 251.5px,#f3000c 264.5px,#ef0010 281.5px,#e3001c 297.5px,#d0002f 313.5px,#9d0062 345.5px,#8a0075 360.5px,#7b0084 375.5px,#660099 407.5px,#5900a6 420.5px,#3c00c3 440.5px,#0000ff 472.5px,#3d3dff 503.5px,#7f7fff 531.5px)"></div><div style="background:linear-gradient(90deg,#5555ff 0.5px,#2323ff 17.5px,#0000ff 32.5px,#1400eb 45.5px,#2000df 58.5px,#2800d7 71.5px,#3600c9 105.5px,#4500ba 125.5px,#5200ad 136.5px,#63009c 147.5px,#b60049 191.5px,#d5002a 212.5px,#e3001c 225.5px,#ed0012 238.5px,#f4000b 252.5px,#f60009 266.5px,#f2000d 283.5px,#e60019 299.5px,#d3002c 314.5px,#9f0060 347.5px,#8c0073 362.5px,#7d0082 377.5px,#680097 407.5px,#5b00a4 420.5px,#3c00c3 441.5px,#0000ff 473.5px,#3f3fff 504.5px,#7f7fff 531.5px)"></div><div style="background:linear-gradient(90deg,#5353ff 0.5px,#2121ff 17.5px,#0000ff 31.5px,#1500ea 44.5px,#2200dd 57.5px,#2a00d5 70.5px,#3900c6 107.5px,#4100be 118.5px,#4d00b2 129.5px,#6c0093 150.5px,#c0003f 195.5px,#d2002d 207.5px,#df0020 218.5px,#f1000e 242.5px,#f60009 255.5px,#f80007 268.5px,#f4000b 285.5px,#e80017 301.5px,#d60029 316.5px,#a3005c 348.5px,#8e0071 363.5px,#7f0080 378.5px,#690096 407.5px,#5c00a3 420.5px,#3d00c2 441.5px,#0100fe 473.5px,#0505ff 476.5px,#3737ff 501.5px,#7f7fff 531.5px)"></div><div style="background:linear-gradient(90deg,#5252ff 0.5px,#2222ff 16.5px,#0000ff 30.5px,#1600e9 43.5px,#2400db 56.5px,#2c00d3 69.5px,#3b00c4 106.5px,#4400bb 118.5px,#4f00b0 129.5px,#6d0092 149.5px,#c0003f 193.5px,#d2002d 205.5px,#df0020 216.5px,#ea0015 228.5px,#f3000c 242.5px,#f80007 257.5px,#fa0005 270.5px,#f60009 288.5px,#e90016 304.5px,#d60029 319.5px,#a5005a 349.5px,#90006f 364.5px,#81007e 379.5px,#690096 408.5px,#5c00a3 421.5px,#3c00c3 442.5px,#0000ff 474.5px,#3b3bff 503.5px,#7f7fff 531.5px)"></div><div style="background:linear-gradient(90deg,#5151ff 0.5px,#2020ff 16.5px,#0000ff 29.5px,#1600e9 42.5px,#2500da 56.5px,#2e00d1 69.5px,#3d00c2 106.5px,#4500ba 117.5px,#5000af 128.5px,#6e0091 148.5px,#c1003e 192.5px,#d3002c 204.5px,#e0001f 215.5px,#eb0014 228.5px,#f3000c 242.5px,#fa0005 258.5px,#fc0003 272.5px,#f60009 292.5px,#e5001a 311.5px,#d2002d 324.5px,#a3005c 353.5px,#92006d 365.5px,#82007d 380.5px,#670098 411.5px,#5400ab 427.5px,#3600c9 446.5px,#0100fe 474.5px,#1111ff 483.5px,#3939ff 502.5px,#7f7fff 531.5px)"></div><div style="background:linear-gradient(90deg,#5050ff 0.5px,#1c1cff 17.5px,#0606ff 26.5px,#0100fe 29.5px,#1800e7 42.5px,#2700d8 56.5px,#2f00d0 69.5px,#3f00c0 106.5px,#4700b8 117.5px,#5300ac 128.5px,#71008e 148.5px,#c2003d 191.5px,#d2002d 202.5px,#df0020 213.5px,#ea0015 226.5px,#f4000b 242.5px,#fb0004 260.5px,#fd0002 275.5px,#f80007 294.5px,#f1000e 303.5px,#e60019 313.5px,#d3002c 326.5px,#a4005b 354.5px,#93006c 366.5px,#83007c 380.5px,#670098 412.5px,#5300ac 428.5px,#3600c9 446.5px,#0101ff 475.5px,#3b3bff 503.5px,#8080ff 531.5px)"></div><div style="background:linear-gradient(90deg,#4f4fff 0.5px,#2121ff 15.5px,#0000ff 28.5px,#1800e7 41.5px,#2800d7 55.5px,#3100ce 69.5px,#4000bf 105.5px,#4800b7 116.5px,#5300ac 127.5px,#71008e 147.5px,#c2003d 190.5px,#d2002d 201.5px,#df0020 212.5px,#eb0014 226.5px,#f4000b 242.5px,#fc0003 262.5px,#fe0001 277.5px,#f90006 296.5px,#e80017 314.5px,#d5002a 327.5px,#a5005a 355.5px,#92006d 368.5px,#82007d 382.5px,#660099 413.5px,#5200ad 429.5px,#3500ca 447.5px,#0000ff 475.5px,#3b3bff 503.5px,#8080ff 531.5px)"></div><div style="background:linear-gradient(90deg,#4f4fff 0.5px,#1a1aff 17.5px,#0101ff 27.5px,#0100fe 28.5px,#1900e6 41.5px,#2900d6 55.5px,#3100ce 68.5px,#4100be 105.5px,#4900b6 116.5px,#5500aa 127.5px,#71008e 146.5px,#c0003f 188.5px,#d1002e 199.5px,#de0021 210.5px,#e90016 224.5px,#f3000c 241.5px,#fc0003 264.5px,#ff0000 280.5px,#f90006 298.5px,#e80017 316.5px,#d4002b 329.5px,#a4005b 357.5px,#92006d 369.5px,#82007d 383.5px,#64009b 414.5px,#4e00b1 431.5px,#3300cc 448.5px,#0000ff 475.5px,#3b3bff 503.5px,#8181ff 531.5px)"></div><div style="background:linear-gradient(90deg,#4e4eff 0.5px,#1f1fff 15.5px,#0000ff 27.5px,#1a00e5 41.5px,#2a00d5 55.5px,#3200cd 68.5px,#4100be 104.5px,#4900b6 115.5px,#5400ab 126.5px,#72008d 146.5px,#c0003f 187.5px,#d0002f 198.5px,#dd0022 209.5px,#e80017 222.5px,#f1000e 239.5px,#fc0003 266.5px,#ff0000 282.5px,#fa0005 300.5px,#e90016 317.5px,#d5002a 330.5px,#a4005b 358.5px,#91006e 370.5px,#81007e 384.5px,#62009d 415.5px,#4c00b3 432.5px,#3000cf 449.5px,#0101ff 475.5px,#3c3cff 503.5px,#8181ff 531.5px)"></div><div style="background:linear-gradient(90deg,#4e4eff 0.5px,#1f1fff 15.5px,#0000ff 27.5px,#1900e6 40.5px,#2900d6 54.5px,#3200cd 68.5px,#4100be 104.5px,#4a00b5 115.5px,#5500aa 126.5px,#72008d 145.5px,#bf0040 186.5px,#cf0030 197.5px,#db0024 208.5px,#e60019 221.5px,#ef0010 237.5px,#fc0003 268.5px,#ff0000 284.5px,#fa0005 301.5px,#e90016 318.5px,#d80027 329.5px,#a60059 357.5px,#90006f 371.5px,#7f0080 385.5px,#60009f 416.5px,#4a00b5 433.5px,#2c00d3 451.5px,#0100fe 474.5px,#1111ff 483.5px,#3636ff 500.5px,#8282ff 531.5px)"></div><div style="background:linear-gradient(90deg,#4e4eff 0.5px,#1f1fff 15.5px,#0100fe 27.5px,#1900e6 40.5px,#2a00d5 54.5px,#3200cd 67.5px,#4200bd 104.5px,#5400ab 125.5px,#70008f 144.5px,#bd0042 185.5px,#cd0032 196.5px,#d90026 206.5px,#e3001c 218.5px,#ea0015 232.5px,#fb0004 270.5px,#fe0001 286.5px,#f90006 303.5px,#e90016 319.5px,#d60029 331.5px,#95006a 368.5px,#81007e 383.5px,#61009e 414.5px,#4c00b3 430.5px,#2e00d1 449.5px,#0000ff 474.5px,#3b3bff 502.5px,#8383ff 531.5px)"></div><div style="background:linear-gradient(90deg,#4e4eff 0.5px,#1f1fff 15.5px,#0000ff 27.5px,#1900e6 40.5px,#2900d6 54.5px,#3200cd 67.5px,#4100be 103.5px,#4900b6 114.5px,#5400ab 125.5px,#71008e 144.5px,#bb0044 184.5px,#cb0034 195.5px,#d70028 205.5px,#e70018 229.5px,#fa0005 272.5px,#fd0002 288.5px,#f80007 304.5px,#e80017 320.5px,#d5002a 332.5px,#a70058 357.5px,#91006e 370.5px,#7e0081 384.5px,#5e00a1 415.5px,#4b00b4 430.5px,#2d00d2 449.5px,#0100fe 473.5px,#0101ff 474.5px,#0d0dff 480.5px,#3535ff 499.5px,#8484ff 531.5px)"></div><div style="background:linear-gradient(90deg,#4f4fff 0.5px,#1f1fff 15.5px,#0000ff 27.5px,#1900e6 40.5px,#2900d6 54.5px,#3100ce 67.5px,#4000bf 103.5px,#5300ac 124.5px,#6f0090 143.5px,#b90046 183.5px,#c90036 194.5px,#d4002b 204.5px,#e2001d 225.5px,#f90006 275.5px,#fc0003 290.5px,#f70008 306.5px,#e70018 321.5px,#d5002a 332.5px,#a4005b 358.5px,#8e0071 371.5px,#7a0085 386.5px,#5a00a5 416.5px,#4700b8 431.5px,#2a00d5 450.5px,#0000ff 473.5px,#3b3bff 501.5px,#8585ff 531.5px)"></div><div style="background:linear-gradient(90deg,#4f4fff 0.5px,#2020ff 15.5px,#0000ff 27.5px,#1800e7 40.5px,#2800d7 54.5px,#3100ce 67.5px,#4000bf 103.5px,#5200ad 124.5px,#6e0091 143.5px,#b80047 183.5px,#c60039 193.5px,#d1002e 203.5px,#de0021 222.5px,#f70008 277.5px,#fa0005 291.5px,#f60009 306.5px,#e60019 321.5px,#d3002c 333.5px,#a0005f 360.5px,#8a0075 373.5px,#770088 387.5px,#5700a8 417.5px,#4400bb 432.5px,#2800d7 450.5px,#0000ff 472.5px,#1717ff 484.5px,#3737ff 499.5px,#8686ff 531.5px)"></div><div style="background:linear-gradient(90deg,#5050ff 0.5px,#1b1bff 17.5px,#0404ff 26.5px,#0100fe 28.5px,#1900e6 41.5px,#2700d8 54.5px,#3000cf 67.5px,#3e00c1 102.5px,#5000af 123.5px,#6c0093 142.5px,#b5004a 182.5px,#c3003c 192.5px,#ce0031 202.5px,#d90026 219.5px,#e5001a 249.5px,#f5000a 279.5px,#f80007 293.5px,#f3000c 308.5px,#e4001b 322.5px,#d0002f 334.5px,#9e0061 360.5px,#860079 374.5px,#73008c 388.5px,#4100be 432.5px,#2600d9 450.5px,#0100fe 471.5px,#1313ff 481.5px,#3636ff 498.5px,#8787ff 531.5px)"></div><div style="background:linear-gradient(90deg,#5151ff 0.5px,#2222ff 15.5px,#0000ff 28.5px,#1700e8 41.5px,#2600d9 54.5px,#2e00d1 67.5px,#3d00c2 102.5px,#4f00b0 123.5px,#6a0095 142.5px,#b1004e 181.5px,#c0003f 191.5px,#ca0035 201.5px,#d5002a 217.5px,#e1001e 249.5px,#f2000d 281.5px,#f5000a 294.5px,#f1000e 308.5px,#e2001d 322.5px,#cf0030 334.5px,#9a0065 361.5px,#82007d 375.5px,#6f0090 389.5px,#3d00c2 433.5px,#2300dc 450.5px,#0100fe 470.5px,#1414ff 481.5px,#3838ff 498.5px,#8989ff 531.5px)"></div><div style="background:linear-gradient(90deg,#5252ff 0.5px,#1d1dff 17.5px,#0100fe 29.5px,#1600e9 41.5px,#2400db 54.5px,#2d00d2 67.5px,#3a00c5 101.5px,#4c00b3 122.5px,#670098 141.5px,#ad0052 180.5px,#bc0043 190.5px,#c60039 200.5px,#d0002f 215.5px,#db0024 246.5px,#ee0011 281.5px,#f2000d 295.5px,#ed0012 309.5px,#de0021 323.5px,#cd0032 334.5px,#94006b 363.5px,#7c0083 377.5px,#6a0095 391.5px,#3a00c5 433.5px,#2100de 450.5px,#0100fe 469.5px,#1616ff 481.5px,#3737ff 497.5px,#8a8aff 531.5px)"></div><div style="background:linear-gradient(90deg,#5454ff 0.5px,#1c1cff 18.5px,#0606ff 27.5px,#0100fe 30.5px,#1600e9 42.5px,#2300dc 55.5px,#2b00d4 67.5px,#3800c7 101.5px,#4a00b5 122.5px,#65009a 141.5px,#ab0054 180.5px,#c2003d 199.5px,#cb0034 213.5px,#d60029 247.5px,#ea0015 282.5px,#ee0011 296.5px,#e90016 310.5px,#dc0023 323.5px,#c80037 335.5px,#91006e 363.5px,#780087 378.5px,#65009a 392.5px,#3500ca 434.5px,#1e00e1 450.5px,#0000ff 468.5px,#1c1cff 483.5px,#3b3bff 498.5px,#8b8bff 531.5px)"></div><div style="background:linear-gradient(90deg,#5555ff 0.5px,#1e1eff 18.5px,#0707ff 27.5px,#0100fe 31.5px,#1500ea 43.5px,#2100de 55.5px,#2800d7 67.5px,#3500ca 100.5px,#4700b8 121.5px,#61009e 140.5px,#a60059 179.5px,#b4004b 189.5px,#bd0042 198.5px,#c70038 214.5px,#d1002e 249.5px,#e60019 283.5px,#ea0015 297.5px,#e60019 310.5px,#d80027 323.5px,#c5003a 335.5px,#8c0073 364.5px,#72008d 379.5px,#60009f 393.5px,#3200cd 434.5px,#0101ff 467.5px,#1e1eff 483.5px,#3b3bff 497.5px,#8d8dff 531.5px)"></div><div style="background:linear-gradient(90deg,#5757ff 0.5px,#2020ff 18.5px,#0a0aff 27.5px,#0100fe 32.5px,#1200ed 43.5px,#1f00e0 55.5px,#2600d9 67.5px,#3300cc 100.5px,#4400bb 121.5px,#5f00a0 140.5px,#a1005e 178.5px,#af0050 188.5px,#b80047 197.5px,#c2003d 213.5px,#cb0034 249.5px,#e1001e 284.5px,#e5001a 298.5px,#e1001e 311.5px,#d3002c 324.5px,#c1003e 335.5px,#860079 365.5px,#6d0092 380.5px,#5b00a4 394.5px,#2d00d2 435.5px,#0000ff 465.5px,#1a1aff 480.5px,#3b3bff 496.5px,#8e8eff 531.5px)"></div><div style="background:linear-gradient(90deg,#5959ff 0.5px,#2222ff 18.5px,#0e0eff 26.5px,#0000ff 33.5px,#1100ee 44.5px,#1d00e2 56.5px,#3000cf 99.5px,#4100be 120.5px,#5a00a5 139.5px,#9d0062 178.5px,#b3004c 196.5px,#bc0043 212.5px,#c5003a 249.5px,#dc0023 285.5px,#e0001f 299.5px,#dc0023 311.5px,#cf0030 324.5px,#bc0043 336.5px,#82007d 365.5px,#690096 380.5px,#5500aa 395.5px,#2900d6 435.5px,#0100fe 463.5px,#1515ff 476.5px,#3838ff 494.5px,#5a5aff 509.5px,#9090ff 531.5px)"></div><div style="background:linear-gradient(90deg,#5b5bff 0.5px,#3838ff 11.5px,#1f1fff 20.5px,#0808ff 30.5px,#0100fe 35.5px,#0f00f0 45.5px,#1a00e5 56.5px,#2d00d2 99.5px,#3d00c2 119.5px,#5600a9 138.5px,#980067 177.5px,#a5005a 187.5px,#ae0051 196.5px,#b60049 211.5px,#bf0040 249.5px,#d60029 285.5px,#db0024 299.5px,#d70028 311.5px,#ca0035 324.5px,#b70048 336.5px,#7e0081 365.5px,#63009c 381.5px,#4f00b0 396.5px,#2500da 435.5px,#0101ff 462.5px,#1d1dff 479.5px,#3d3dff 495.5px,#5e5eff 510.5px,#9191ff 531.5px)"></div><div style="background:linear-gradient(90deg,#5d5dff 0.5px,#3b3bff 11.5px,#2222ff 20.5px,#1010ff 28.5px,#0000ff 36.5px,#0d00f2 46.5px,#1700e8 57.5px,#2900d6 98.5px,#3900c6 119.5px,#5300ac 138.5px,#94006b 177.5px,#a80057 195.5px,#b1004e 211.5px,#b80047 249.5px,#d1002e 286.5px,#d5002a 300.5px,#d1002e 312.5px,#c5003a 324.5px,#b2004d 336.5px,#770088 366.5px,#5c00a3 382.5px,#4900b6 397.5px,#2100de 435.5px,#0100fe 459.5px,#0101ff 460.5px,#1616ff 473.5px,#3939ff 492.5px,#5b5bff 508.5px,#9292ff 531.5px)"></div><div style="background:linear-gradient(90deg,#5f5fff 0.5px,#3b3bff 12.5px,#2323ff 21.5px,#0f0fff 30.5px,#0000ff 38.5px,#0c00f3 48.5px,#1400eb 57.5px,#2600d9 98.5px,#3500ca 118.5px,#4f00b0 138.5px,#8e0071 176.5px,#a2005d 194.5px,#aa0055 210.5px,#b1004e 249.5px,#ca0035 287.5px,#ce0031 301.5px,#ca0035 313.5px,#be0041 325.5px,#ab0054 337.5px,#72008d 366.5px,#5700a8 382.5px,#4400bb 397.5px,#1d00e2 435.5px,#0100fe 457.5px,#1818ff 473.5px,#3b3bff 492.5px,#5d5dff 508.5px,#9494ff 531.5px)"></div><div style="background:linear-gradient(90deg,#6262ff 0.5px,#3e3eff 12.5px,#2323ff 22.5px,#0e0eff 32.5px,#0000ff 41.5px,#1100ee 58.5px,#2200dd 98.5px,#3200cd 118.5px,#4a00b5 137.5px,#890076 176.5px,#9c0063 194.5px,#a4005b 210.5px,#a90056 249.5px,#c3003c 287.5px,#c80037 301.5px,#c4003b 313.5px,#b80047 325.5px,#a1005e 339.5px,#670098 369.5px,#5100ae 383.5px,#3e00c1 398.5px,#1a00e5 434.5px,#0000ff 455.5px,#1d1dff 474.5px,#3e3eff 492.5px,#5f5fff 508.5px,#9595ff 531.5px)"></div><div style="background:linear-gradient(90deg,#6565ff 0.5px,#3e3eff 13.5px,#2222ff 24.5px,#0c0cff 35.5px,#0000ff 44.5px,#0e00f1 59.5px,#1e00e1 97.5px,#2d00d2 117.5px,#4600b9 137.5px,#82007d 175.5px,#960069 193.5px,#9d0062 209.5px,#9f0060 237.5px,#a2005d 249.5px,#a80057 261.5px,#bc0043 288.5px,#c1003e 302.5px,#bd0042 313.5px,#b1004e 325.5px,#9f0060 337.5px,#65009a 367.5px,#4b00b4 383.5px,#3800c7 399.5px,#1600e9 434.5px,#0000ff 452.5px,#1b1bff 471.5px,#3c3cff 490.5px,#5f5fff 507.5px,#9797ff 531.5px)"></div><div style="background:linear-gradient(90deg,#6767ff 0.5px,#3f3fff 14.5px,#2424ff 25.5px,#0f0fff 36.5px,#0000ff 47.5px,#0c00f3 63.5px,#1b00e4 99.5px,#2900d6 117.5px,#4000bf 136.5px,#7d0082 175.5px,#90006f 193.5px,#970068 209.5px,#970068 237.5px,#9a0065 249.5px,#a0005f 261.5px,#b5004a 288.5px,#b90046 302.5px,#b60049 313.5px,#ab0054 325.5px,#980067 337.5px,#5f00a0 367.5px,#4500ba 383.5px,#3500ca 397.5px,#1400eb 431.5px,#0000ff 449.5px,#1b1bff 469.5px,#3d3dff 489.5px,#6161ff 507.5px,#9898ff 531.5px)"></div><div style="background:linear-gradient(90deg,#6a6aff 0.5px,#4040ff 15.5px,#2121ff 28.5px,#0b0bff 41.5px,#0100fe 52.5px,#0900f6 65.5px,#1600e9 97.5px,#2400db 116.5px,#3c00c3 136.5px,#760089 174.5px,#890076 192.5px,#90006f 208.5px,#90006f 237.5px,#92006d 249.5px,#990066 262.5px,#ad0052 289.5px,#b1004e 303.5px,#ac0053 316.5px,#9e0061 329.5px,#8a0075 341.5px,#5400ab 370.5px,#3900c6 388.5px,#0000ff 446.5px,#1d1dff 468.5px,#3e3eff 488.5px,#6161ff 506.5px,#9a9aff 531.5px)"></div><div style="background:linear-gradient(90deg,#6d6dff 0.5px,#3e3eff 17.5px,#2121ff 30.5px,#0d0dff 43.5px,#0000ff 57.5px,#1100ee 96.5px,#2000df 116.5px,#3700c8 136.5px,#70008f 174.5px,#83007c 192.5px,#890076 208.5px,#880077 237.5px,#8a0075 249.5px,#91006e 262.5px,#a5005a 289.5px,#a90056 303.5px,#a5005a 316.5px,#970068 329.5px,#84007b 341.5px,#4d00b2 370.5px,#3300cc 388.5px,#0000ff 442.5px,#1b1bff 464.5px,#3d3dff 486.5px,#6161ff 505.5px,#9b9bff 531.5px)"></div><div style="background:linear-gradient(90deg,#7171ff 0.5px,#3f3fff 18.5px,#2020ff 33.5px,#0c0cff 48.5px,#0000ff 65.5px,#0d00f2 97.5px,#1c00e3 117.5px,#3300cc 136.5px,#690096 173.5px,#7b0084 191.5px,#82007d 207.5px,#80007f 237.5px,#82007d 250.5px,#890076 263.5px,#9d0062 289.5px,#a1005e 303.5px,#9d0062 316.5px,#8f0070 329.5px,#7c0083 341.5px,#4700b8 370.5px,#2d00d2 388.5px,#2000df 401.5px,#0000ff 438.5px,#1c1cff 462.5px,#3e3eff 485.5px,#6464ff 505.5px,#9d9dff 531.5px)"></div><div style="background:linear-gradient(90deg,#7474ff 0.5px,#3f3fff 20.5px,#1f1fff 36.5px,#1515ff 44.5px,#0c0cff 53.5px,#0000ff 76.5px,#0b00f4 100.5px,#1a00e5 119.5px,#2f00d0 137.5px,#63009c 173.5px,#75008a 191.5px,#7a0085 207.5px,#780087 237.5px,#7a0085 250.5px,#80007f 263.5px,#94006b 290.5px,#990066 304.5px,#94006b 317.5px,#860079 330.5px,#75008a 341.5px,#4100be 370.5px,#2900d6 387.5px,#1a00e5 401.5px,#0000ff 433.5px,#1919ff 457.5px,#3c3cff 482.5px,#6262ff 503.5px,#9e9eff 531.5px)"></div><div style="background:linear-gradient(90deg,#7777ff 0.5px,#5656ff 12.5px,#3e3eff 22.5px,#2c2cff 31.5px,#1e1eff 40.5px,#0d0dff 58.5px,#0000ff 88.5px,#0a00f5 106.5px,#1a00e5 123.5px,#2c00d3 138.5px,#5c00a3 172.5px,#6d0092 190.5px,#73008c 207.5px,#70008f 237.5px,#71008e 250.5px,#780087 263.5px,#8c0073 290.5px,#90006f 304.5px,#8d0072 315.5px,#83007c 326.5px,#72008d 338.5px,#3f00c0 367.5px,#2900d6 382.5px,#1600e9 399.5px,#0100fe 427.5px,#0808ff 437.5px,#1818ff 453.5px,#3c3cff 480.5px,#6262ff 502.5px,#a0a0ff 531.5px)"></div><div style="background:linear-gradient(90deg,#7a7aff 0.5px,#5a5aff 12.5px,#4343ff 22.5px,#2f2fff 32.5px,#2222ff 41.5px,#1111ff 59.5px,#0000ff 97.5px,#0a00f5 111.5px,#1700e8 125.5px,#5400ab 171.5px,#660099 189.5px,#6c0093 207.5px,#680097 237.5px,#690096 250.5px,#6f0090 263.5px,#83007c 291.5px,#870078 304.5px,#84007b 315.5px,#7a0085 327.5px,#6a0095 338.5px,#3800c7 367.5px,#2400db 381.5px,#1200ed 397.5px,#0000ff 421.5px,#1919ff 450.5px,#3c3cff 478.5px,#6363ff 501.5px,#a1a1ff 531.5px)"></div><div style="background:linear-gradient(90deg,#7e7eff 0.5px,#5c5cff 13.5px,#4545ff 23.5px,#3232ff 33.5px,#2525ff 42.5px,#1515ff 60.5px,#0000ff 104.5px,#1400eb 127.5px,#4e00b1 171.5px,#5f00a0 189.5px,#64009b 207.5px,#5f00a0 237.5px,#60009f 250.5px,#660099 263.5px,#7a0085 291.5px,#7e0081 305.5px,#7b0084 316.5px,#71008e 327.5px,#61009e 339.5px,#3300cc 366.5px,#2000df 379.5px,#0f00f0 394.5px,#0000ff 414.5px,#1919ff 446.5px,#3b3bff 475.5px,#6363ff 500.5px,#a3a3ff 531.5px)"></div><div style="background:linear-gradient(90deg,#8181ff 0.5px,#6060ff 13.5px,#4949ff 23.5px,#3737ff 33.5px,#2929ff 43.5px,#1a1aff 60.5px,#0b0bff 94.5px,#0000ff 111.5px,#1600e9 133.5px,#4900b6 172.5px,#5800a7 189.5px,#5d00a2 206.5px,#5700a8 237.5px,#5800a7 251.5px,#5e00a1 264.5px,#71008e 291.5px,#75008a 305.5px,#72008d 316.5px,#680097 328.5px,#5700a8 340.5px,#2e00d1 365.5px,#1c00e3 377.5px,#0c00f3 391.5px,#0000ff 406.5px,#1a1aff 443.5px,#3a3aff 472.5px,#4e4eff 486.5px,#6363ff 499.5px,#a4a4ff 531.5px)"></div><div style="background:linear-gradient(90deg,#8585ff 0.5px,#6262ff 14.5px,#4c4cff 24.5px,#3a3aff 34.5px,#2c2cff 44.5px,#2020ff 59.5px,#0e0eff 96.5px,#0000ff 116.5px,#1200ed 134.5px,#4200bd 172.5px,#5100ae 189.5px,#5600a9 206.5px,#4f00b0 237.5px,#5000af 251.5px,#5500aa 264.5px,#680097 292.5px,#6c0093 305.5px,#690096 317.5px,#5e00a1 329.5px,#4f00b0 340.5px,#1900e6 374.5px,#0b00f4 386.5px,#0000ff 398.5px,#1c1cff 440.5px,#2a2aff 455.5px,#3a3aff 470.5px,#4d4dff 484.5px,#6464ff 498.5px,#a5a5ff 531.5px)"></div><div style="background:linear-gradient(90deg,#8888ff 0.5px,#6666ff 14.5px,#5050ff 24.5px,#3f3fff 34.5px,#3131ff 44.5px,#2525ff 59.5px,#1212ff 98.5px,#0000ff 121.5px,#0e00f1 135.5px,#3b00c4 171.5px,#4a00b5 189.5px,#4e00b1 206.5px,#4700b8 237.5px,#4700b8 251.5px,#4d00b2 264.5px,#5f00a0 292.5px,#63009c 305.5px,#60009f 317.5px,#5400ab 330.5px,#4500ba 341.5px,#1700e8 371.5px,#0000ff 391.5px,#2020ff 440.5px,#3d3dff 469.5px,#5050ff 484.5px,#6666ff 498.5px,#a7a7ff 531.5px)"></div><div style="background:linear-gradient(90deg,#8c8cff 0.5px,#6a6aff 14.5px,#5555ff 24.5px,#4343ff 34.5px,#3636ff 44.5px,#2828ff 61.5px,#1414ff 103.5px,#0101ff 126.5px,#0a00f5 136.5px,#3400cb 171.5px,#4300bc 190.5px,#4700b8 207.5px,#3f00c0 237.5px,#3f00c0 251.5px,#4400bb 265.5px,#5600a9 292.5px,#5a00a5 305.5px,#5700a8 317.5px,#4c00b3 330.5px,#3d00c2 341.5px,#1300ec 369.5px,#0100fe 384.5px,#0d0dff 401.5px,#2424ff 440.5px,#3e3eff 467.5px,#5050ff 482.5px,#6767ff 497.5px,#a8a8ff 531.5px)"></div><div style="background:linear-gradient(90deg,#8f8fff 0.5px,#6e6eff 14.5px,#5858ff 25.5px,#4747ff 35.5px,#3a3aff 45.5px,#2d2dff 62.5px,#1717ff 105.5px,#0000ff 131.5px,#2e00d1 171.5px,#3c00c3 190.5px,#3f00c0 207.5px,#3700c8 238.5px,#3700c8 251.5px,#3c00c3 265.5px,#4d00b2 293.5px,#5000af 306.5px,#4d00b2 318.5px,#4200bd 331.5px,#0100fe 378.5px,#1111ff 398.5px,#2929ff 441.5px,#4141ff 467.5px,#5353ff 482.5px,#6969ff 497.5px,#a9a9ff 531.5px)"></div><div style="background:linear-gradient(90deg,#9393ff 0.5px,#7373ff 14.5px,#5c5cff 25.5px,#4c4cff 35.5px,#3f3fff 45.5px,#3131ff 62.5px,#1a1aff 107.5px,#0100fe 137.5px,#2800d7 172.5px,#3600c9 191.5px,#3800c7 207.5px,#2f00d0 238.5px,#2f00d0 252.5px,#3300cc 265.5px,#4400bb 293.5px,#4700b8 306.5px,#4400bb 318.5px,#3900c6 331.5px,#0000ff 373.5px,#1212ff 392.5px,#2d2dff 440.5px,#4545ff 468.5px,#5757ff 483.5px,#6c6cff 497.5px,#aaaaff 531.5px)"></div><div style="background:linear-gradient(90deg,#9696ff 0.5px,#6161ff 25.5px,#5151ff 35.5px,#4444ff 45.5px,#3636ff 62.5px,#1e1eff 109.5px,#0101ff 141.5px,#2200dd 173.5px,#2f00d0 192.5px,#3000cf 208.5px,#2700d8 238.5px,#2700d8 252.5px,#2b00d4 266.5px,#3b00c4 294.5px,#3e00c1 306.5px,#3b00c4 318.5px,#3200cd 330.5px,#2400db 342.5px,#0100fe 367.5px,#0000ff 368.5px,#0e0eff 380.5px,#1717ff 391.5px,#3030ff 439.5px,#4747ff 467.5px,#5959ff 482.5px,#6e6eff 497.5px,#acacff 531.5px)"></div><div style="background:linear-gradient(90deg,#9a9aff 0.5px,#6565ff 25.5px,#5454ff 36.5px,#4848ff 46.5px,#3b3bff 62.5px,#2222ff 110.5px,#1414ff 127.5px,#0000ff 147.5px,#1c00e3 174.5px,#2800d7 192.5px,#2900d6 208.5px,#2000df 238.5px,#1f00e0 252.5px,#2300dc 266.5px,#3200cd 294.5px,#3500ca 306.5px,#3300cc 317.5px,#2a00d5 329.5px,#1d00e2 341.5px,#0100fe 362.5px,#1111ff 377.5px,#1c1cff 390.5px,#3535ff 440.5px,#4c4cff 468.5px,#5d5dff 483.5px,#7070ff 497.5px,#8888ff 511.5px,#adadff 531.5px)"></div><div style="background:linear-gradient(90deg,#9d9dff 0.5px,#6a6aff 25.5px,#5959ff 36.5px,#4d4dff 46.5px,#4040ff 62.5px,#2525ff 112.5px,#1616ff 130.5px,#0000ff 152.5px,#1700e8 176.5px,#2100de 193.5px,#2200dd 209.5px,#1800e7 238.5px,#1700e8 252.5px,#1b00e4 266.5px,#2900d6 294.5px,#2c00d3 306.5px,#2a00d5 317.5px,#2300dc 328.5px,#1600e9 340.5px,#0000ff 357.5px,#1414ff 374.5px,#2121ff 388.5px,#3939ff 440.5px,#4f4fff 468.5px,#5f5fff 483.5px,#7373ff 497.5px,#8989ff 511.5px,#aeaeff 531.5px)"></div><div style="background:linear-gradient(90deg,#a0a0ff 0.5px,#6d6dff 26.5px,#5e5eff 36.5px,#5252ff 46.5px,#4444ff 63.5px,#3333ff 97.5px,#2828ff 115.5px,#1818ff 134.5px,#0000ff 158.5px,#1300ec 179.5px,#1a00e5 195.5px,#1a00e5 209.5px,#1000ef 239.5px,#0f00f0 253.5px,#1300ec 267.5px,#2100de 294.5px,#2300dc 306.5px,#2200dd 316.5px,#1c00e3 326.5px,#1200ed 337.5px,#0100fe 351.5px,#1818ff 372.5px,#2626ff 387.5px,#2d2dff 400.5px,#3d3dff 440.5px,#5252ff 468.5px,#6262ff 483.5px,#7575ff 497.5px,#8b8bff 511.5px,#afafff 531.5px)"></div><div style="background:linear-gradient(90deg,#a4a4ff 0.5px,#7171ff 26.5px,#6161ff 37.5px,#5555ff 47.5px,#4949ff 63.5px,#2c2cff 116.5px,#1d1dff 135.5px,#0000ff 164.5px,#0e00f1 182.5px,#1400eb 196.5px,#1300ec 210.5px,#0900f6 239.5px,#0700f8 253.5px,#0b00f4 267.5px,#1800e7 295.5px,#1b00e4 307.5px,#1400eb 325.5px,#0100fe 345.5px,#1d1dff 370.5px,#2b2bff 386.5px,#3232ff 400.5px,#4040ff 440.5px,#5555ff 468.5px,#6565ff 483.5px,#7979ff 498.5px,#b0b0ff 531.5px)"></div><div style="background:linear-gradient(90deg,#a7a7ff 0.5px,#7474ff 27.5px,#6666ff 37.5px,#5959ff 48.5px,#4d4dff 64.5px,#3c3cff 99.5px,#3030ff 118.5px,#0000ff 172.5px,#0a00f5 188.5px,#0d00f2 202.5px,#0b00f4 214.5px,#0100fe 242.5px,#0000ff 256.5px,#0300fc 268.5px,#1000ef 295.5px,#1200ed 307.5px,#0e00f1 322.5px,#0100fe 338.5px,#0101ff 340.5px,#2323ff 370.5px,#2f2fff 385.5px,#3737ff 400.5px,#4444ff 440.5px,#5858ff 468.5px,#6767ff 483.5px,#7b7bff 498.5px,#b2b2ff 531.5px)"></div><div style="background:linear-gradient(90deg,#aaaaff 0.5px,#7979ff 27.5px,#6969ff 38.5px,#5d5dff 49.5px,#5151ff 65.5px,#3434ff 119.5px,#0000ff 181.5px,#0600f9 202.5px,#0000ff 225.5px,#0707ff 252.5px,#0606ff 264.5px,#0000ff 278.5px,#0700f8 295.5px,#0a00f5 307.5px,#0700f8 318.5px,#0000ff 330.5px,#0909ff 340.5px,#2828ff 369.5px,#3434ff 384.5px,#3c3cff 399.5px,#4848ff 440.5px,#5b5bff 468.5px,#6a6aff 483.5px,#7d7dff 498.5px,#b3b3ff 531.5px)"></div><div style="background:linear-gradient(90deg,#aeaeff 0.5px,#7d7dff 27.5px,#6e6eff 38.5px,#6262ff 49.5px,#5555ff 66.5px,#3838ff 120.5px,#0606ff 182.5px,#0202ff 194.5px,#0101ff 206.5px,#0d0dff 241.5px,#0f0fff 255.5px,#0c0cff 268.5px,#0000ff 297.5px,#0000ff 316.5px,#0a0aff 334.5px,#2d2dff 368.5px,#3a3aff 384.5px,#4040ff 399.5px,#4b4bff 439.5px,#5c5cff 466.5px,#6b6bff 482.5px,#7e7eff 497.5px,#9292ff 511.5px,#b4b4ff 531.5px)"></div><div style="background:linear-gradient(90deg,#b1b1ff 0.5px,#8080ff 28.5px,#7171ff 39.5px,#6565ff 50.5px,#5959ff 67.5px,#3c3cff 121.5px,#0d0dff 182.5px,#0808ff 194.5px,#0808ff 206.5px,#1414ff 242.5px,#1616ff 256.5px,#1313ff 269.5px,#0808ff 296.5px,#0707ff 308.5px,#0909ff 319.5px,#1010ff 331.5px,#3434ff 369.5px,#3f3fff 385.5px,#4646ff 400.5px,#4f4fff 438.5px,#5e5eff 464.5px,#6c6cff 480.5px,#7e7eff 496.5px,#9494ff 511.5px,#b5b5ff 531.5px)"></div><div style="background:linear-gradient(90deg,#b4b4ff 0.5px,#8383ff 29.5px,#7474ff 40.5px,#6969ff 51.5px,#5d5dff 68.5px,#4040ff 122.5px,#1414ff 182.5px,#0f0fff 194.5px,#0e0eff 206.5px,#1b1bff 242.5px,#1c1cff 256.5px,#0f0fff 308.5px,#1111ff 319.5px,#1717ff 331.5px,#3939ff 369.5px,#4444ff 385.5px,#4a4aff 399.5px,#5252ff 438.5px,#6161ff 464.5px,#6e6eff 480.5px,#8181ff 496.5px,#9696ff 511.5px,#b6b6ff 531.5px)"></div><div style="background:linear-gradient(90deg,#b7b7ff 0.5px,#8484ff 31.5px,#7575ff 43.5px,#6a6aff 55.5px,#6060ff 70.5px,#4545ff 123.5px,#1c1cff 179.5px,#1616ff 191.5px,#1515ff 202.5px,#2323ff 254.5px,#2121ff 268.5px,#1616ff 303.5px,#1717ff 314.5px,#1a1aff 325.5px,#2222ff 337.5px,#3e3eff 368.5px,#4848ff 383.5px,#4e4eff 399.5px,#5656ff 439.5px,#6565ff 466.5px,#7373ff 482.5px,#8484ff 497.5px,#9999ff 512.5px,#b7b7ff 531.5px)"></div><div style="background:linear-gradient(90deg,#babaff 0.5px,#8888ff 31.5px,#7979ff 43.5px,#6e6eff 55.5px,#6464ff 71.5px,#4949ff 124.5px,#2222ff 179.5px,#1d1dff 191.5px,#1b1bff 202.5px,#2a2aff 254.5px,#2828ff 268.5px,#1e1eff 303.5px,#1e1eff 314.5px,#2222ff 325.5px,#2929ff 337.5px,#4444ff 368.5px,#4d4dff 383.5px,#5353ff 399.5px,#5a5aff 439.5px,#6868ff 466.5px,#7575ff 482.5px,#8686ff 497.5px,#9b9bff 512.5px,#b8b8ff 531.5px)"></div><div style="background:linear-gradient(90deg,#bcbcff 0.5px,#8b8bff 32.5px,#7c7cff 44.5px,#7171ff 56.5px,#6767ff 72.5px,#4d4dff 126.5px,#2828ff 179.5px,#2323ff 191.5px,#2222ff 202.5px,#3030ff 255.5px,#2f2fff 269.5px,#2525ff 301.5px,#2626ff 318.5px,#2e2eff 335.5px,#4949ff 368.5px,#5353ff 384.5px,#5757ff 399.5px,#5b5bff 433.5px,#6161ff 450.5px,#6e6eff 470.5px,#8080ff 490.5px,#9696ff 508.5px,#b9b9ff 531.5px)"></div><div style="background:linear-gradient(90deg,#bfbfff 0.5px,#8e8eff 32.5px,#8080ff 44.5px,#7575ff 57.5px,#6a6aff 74.5px,#5151ff 127.5px,#2e2eff 180.5px,#2828ff 202.5px,#3636ff 256.5px,#3535ff 270.5px,#2c2cff 301.5px,#2d2dff 318.5px,#3434ff 335.5px,#4e4eff 368.5px,#5757ff 384.5px,#5b5bff 399.5px,#5f5fff 433.5px,#6464ff 450.5px,#7070ff 470.5px,#8282ff 490.5px,#9898ff 508.5px,#bbbbff 531.5px)"></div><div style="background:linear-gradient(90deg,#c2c2ff 0.5px,#9191ff 33.5px,#8383ff 45.5px,#7878ff 58.5px,#6e6eff 75.5px,#5555ff 129.5px,#3434ff 180.5px,#2e2eff 202.5px,#3c3cff 256.5px,#3b3bff 270.5px,#3333ff 302.5px,#3333ff 318.5px,#3b3bff 335.5px,#5353ff 368.5px,#5c5cff 384.5px,#6060ff 399.5px,#6363ff 434.5px,#6868ff 451.5px,#7474ff 471.5px,#8484ff 490.5px,#9a9aff 508.5px,#bcbcff 531.5px)"></div><div style="background:linear-gradient(90deg,#c4c4ff 0.5px,#9393ff 34.5px,#8686ff 46.5px,#7b7bff 59.5px,#7070ff 77.5px,#5959ff 130.5px,#3a3aff 180.5px,#3434ff 202.5px,#4242ff 257.5px,#3939ff 302.5px,#3a3aff 319.5px,#4141ff 336.5px,#5858ff 369.5px,#6060ff 384.5px,#6464ff 400.5px,#6666ff 434.5px,#6b6bff 451.5px,#7676ff 471.5px,#8787ff 490.5px,#9c9cff 508.5px,#bdbdff 531.5px)"></div><div style="background:linear-gradient(90deg,#c7c7ff 0.5px,#9696ff 35.5px,#8989ff 47.5px,#7e7eff 60.5px,#7474ff 78.5px,#5d5dff 132.5px,#3f3fff 181.5px,#3a3aff 202.5px,#3b3bff 215.5px,#4848ff 257.5px,#3f3fff 302.5px,#4040ff 319.5px,#4747ff 336.5px,#5d5dff 369.5px,#6464ff 384.5px,#6767ff 400.5px,#6969ff 434.5px,#6e6eff 451.5px,#7979ff 471.5px,#8989ff 490.5px,#9d9dff 508.5px,#bebeff 531.5px)"></div><div style="background:linear-gradient(90deg,#c9c9ff 0.5px,#9999ff 35.5px,#8b8bff 48.5px,#8181ff 61.5px,#7777ff 79.5px,#6161ff 133.5px,#4545ff 181.5px,#4040ff 202.5px,#4141ff 215.5px,#4d4dff 257.5px,#4545ff 303.5px,#4646ff 319.5px,#4c4cff 336.5px,#6161ff 369.5px,#6868ff 385.5px,#6b6bff 400.5px,#6c6cff 434.5px,#7171ff 452.5px,#7c7cff 472.5px,#8c8cff 491.5px,#a0a0ff 509.5px,#bfbfff 531.5px)"></div><div style="background:linear-gradient(90deg,#cbcbff 0.5px,#9b9bff 36.5px,#8e8eff 49.5px,#8484ff 62.5px,#7a7aff 81.5px,#6565ff 134.5px,#4a4aff 182.5px,#4545ff 203.5px,#5252ff 258.5px,#4b4bff 303.5px,#4c4cff 319.5px,#5151ff 336.5px,#6565ff 369.5px,#6c6cff 385.5px,#6f6fff 400.5px,#7070ff 434.5px,#7474ff 452.5px,#7e7eff 472.5px,#8e8eff 491.5px,#a2a2ff 509.5px,#c0c0ff 531.5px)"></div><div style="background:linear-gradient(90deg,#cdcdff 0.5px,#9e9eff 37.5px,#8787ff 63.5px,#7d7dff 82.5px,#6969ff 135.5px,#5050ff 183.5px,#4b4bff 203.5px,#5757ff 258.5px,#5151ff 303.5px,#5151ff 320.5px,#5656ff 336.5px,#6a6aff 370.5px,#7070ff 385.5px,#7272ff 400.5px,#7373ff 434.5px,#7777ff 452.5px,#8181ff 472.5px,#9090ff 491.5px,#a4a4ff 509.5px,#c1c1ff 531.5px)"></div><div style="background:linear-gradient(90deg,#cfcfff 0.5px,#a0a0ff 38.5px,#8989ff 64.5px,#8080ff 83.5px,#6d6dff 136.5px,#5555ff 183.5px,#5050ff 203.5px,#5c5cff 258.5px,#5656ff 304.5px,#5656ff 320.5px,#5c5cff 337.5px,#6e6eff 370.5px,#7373ff 385.5px,#7676ff 400.5px,#7676ff 435.5px,#7a7aff 453.5px,#8383ff 472.5px,#9292ff 491.5px,#a5a5ff 509.5px,#c2c2ff 531.5px)"></div><div style="background:linear-gradient(90deg,#d1d1ff 0.5px,#a2a2ff 39.5px,#8c8cff 65.5px,#8383ff 84.5px,#7171ff 137.5px,#5a5aff 184.5px,#5656ff 204.5px,#6161ff 259.5px,#5b5bff 304.5px,#5b5bff 320.5px,#6060ff 337.5px,#7777ff 385.5px,#7979ff 400.5px,#7979ff 435.5px,#7c7cff 453.5px,#8585ff 472.5px,#9494ff 491.5px,#a7a7ff 509.5px,#c3c3ff 531.5px)"></div><div style="background:linear-gradient(90deg,#d3d3ff 0.5px,#a4a4ff 39.5px,#8f8fff 65.5px,#8686ff 85.5px,#7676ff 137.5px,#5f5fff 185.5px,#5b5bff 204.5px,#6565ff 259.5px,#5f5fff 304.5px,#6060ff 320.5px,#6464ff 337.5px,#7a7aff 386.5px,#7c7cff 435.5px,#7f7fff 453.5px,#8888ff 472.5px,#9696ff 491.5px,#a9a9ff 509.5px,#c4c4ff 531.5px)"></div><div style="background:linear-gradient(90deg,#d5d5ff 0.5px,#a6a6ff 40.5px,#9191ff 66.5px,#8989ff 85.5px,#7979ff 138.5px,#6464ff 185.5px,#6060ff 204.5px,#6a6aff 259.5px,#6464ff 305.5px,#6464ff 321.5px,#6969ff 338.5px,#7e7eff 386.5px,#7e7eff 435.5px,#8282ff 454.5px,#8a8aff 473.5px,#9898ff 491.5px,#aaaaff 509.5px,#c6c6ff 531.5px)"></div><div style="background:linear-gradient(90deg,#d7d7ff 0.5px,#a8a8ff 41.5px,#9494ff 67.5px,#8c8cff 86.5px,#7d7dff 138.5px,#6868ff 186.5px,#6565ff 205.5px,#6e6eff 259.5px,#6868ff 305.5px,#6868ff 321.5px,#6d6dff 338.5px,#8181ff 386.5px,#8181ff 436.5px,#8484ff 454.5px,#8d8dff 473.5px,#9a9aff 491.5px,#ababff 508.5px,#c7c7ff 531.5px)"></div><div style="background:linear-gradient(90deg,#d8d8ff 0.5px,#aaaaff 41.5px,#9696ff 67.5px,#8f8fff 86.5px,#8181ff 138.5px,#6d6dff 187.5px,#6969ff 205.5px,#7272ff 259.5px,#6c6cff 321.5px,#7171ff 338.5px,#8484ff 387.5px,#8484ff 436.5px,#8787ff 454.5px,#8f8fff 473.5px,#9c9cff 491.5px,#acacff 508.5px,#c8c8ff 531.5px)"></div><div style="background:linear-gradient(90deg,#dadaff 0.5px,#acacff 42.5px,#9999ff 67.5px,#9191ff 87.5px,#8686ff 136.5px,#7272ff 185.5px,#6e6eff 205.5px,#7676ff 259.5px,#7070ff 321.5px,#7474ff 339.5px,#8787ff 387.5px,#8686ff 436.5px,#8989ff 454.5px,#9191ff 473.5px,#9d9dff 491.5px,#aeaeff 508.5px,#c9c9ff 531.5px)"></div><div style="background:linear-gradient(90deg,#dbdbff 0.5px,#aeaeff 42.5px,#9b9bff 68.5px,#9494ff 87.5px,#8a8aff 136.5px,#7676ff 185.5px,#7272ff 206.5px,#7979ff 259.5px,#7474ff 321.5px,#7878ff 339.5px,#8989ff 388.5px,#8989ff 437.5px,#8c8cff 455.5px,#9393ff 473.5px,#9f9fff 491.5px,#afafff 508.5px,#cacaff 531.5px)"></div><div style="background:linear-gradient(90deg,#ddddff 0.5px,#afafff 43.5px,#9d9dff 68.5px,#9797ff 87.5px,#8d8dff 136.5px,#7b7bff 185.5px,#7777ff 206.5px,#7d7dff 259.5px,#7777ff 321.5px,#7b7bff 339.5px,#8c8cff 388.5px,#8b8bff 437.5px,#8e8eff 455.5px,#9595ff 473.5px,#a1a1ff 491.5px,#b1b1ff 508.5px,#cbcbff 531.5px)"></div><div style="background:linear-gradient(90deg,#dedeff 0.5px,#b1b1ff 44.5px,#9f9fff 69.5px,#9999ff 88.5px,#9191ff 136.5px,#7e7eff 186.5px,#7b7bff 207.5px,#8080ff 259.5px,#7a7aff 322.5px,#7e7eff 340.5px,#8e8eff 388.5px,#8e8eff 437.5px,#9090ff 455.5px,#9797ff 473.5px,#a3a3ff 491.5px,#b2b2ff 508.5px,#ccccff 531.5px)"></div><div style="background:linear-gradient(90deg,#dfdfff 0.5px,#b2b2ff 44.5px,#a1a1ff 69.5px,#9b9bff 88.5px,#9494ff 136.5px,#8282ff 186.5px,#7f7fff 207.5px,#8383ff 259.5px,#7d7dff 322.5px,#8181ff 340.5px,#9191ff 389.5px,#9090ff 437.5px,#9292ff 455.5px,#9999ff 473.5px,#a4a4ff 491.5px,#b4b4ff 508.5px,#cdcdff 531.5px)"></div><div style="background:linear-gradient(90deg,#e0e0ff 0.5px,#b4b4ff 44.5px,#a4a4ff 69.5px,#9e9eff 88.5px,#9797ff 136.5px,#8686ff 187.5px,#8383ff 208.5px,#8686ff 258.5px,#8080ff 322.5px,#8484ff 341.5px,#9393ff 389.5px,#9292ff 438.5px,#9494ff 455.5px,#9b9bff 473.5px,#a6a6ff 491.5px,#b5b5ff 508.5px,#ceceff 531.5px)"></div><div style="background:linear-gradient(90deg,#e1e1ff 0.5px,#b3b3ff 48.5px,#a9a9ff 62.5px,#a3a3ff 77.5px,#9a9aff 136.5px,#8787ff 199.5px,#8989ff 258.5px,#8383ff 312.5px,#8585ff 338.5px,#9595ff 390.5px,#9494ff 441.5px,#9999ff 464.5px,#a0a0ff 480.5px,#ababff 495.5px,#cfcfff 531.5px)"></div><div style="background:linear-gradient(90deg,#e2e2ff 0.5px,#b4b4ff 48.5px,#ababff 62.5px,#a4a4ff 77.5px,#9d9dff 136.5px,#8b8bff 199.5px,#8c8cff 258.5px,#8585ff 312.5px,#8888ff 338.5px,#9797ff 390.5px,#9797ff 442.5px,#9b9bff 464.5px,#a2a2ff 480.5px,#acacff 495.5px,#d0d0ff 531.5px)"></div><div style="background:linear-gradient(90deg,#e3e3ff 0.5px,#b6b6ff 48.5px,#acacff 62.5px,#a7a7ff 76.5px,#9f9fff 136.5px,#8e8eff 199.5px,#8f8fff 257.5px,#8888ff 312.5px,#8a8aff 338.5px,#9a9aff 391.5px,#9999ff 442.5px,#9c9cff 464.5px,#a3a3ff 479.5px,#aeaeff 495.5px,#d1d1ff 531.5px)"></div><div style="background:linear-gradient(90deg,#e3e3ff 0.5px,#b7b7ff 48.5px,#aeaeff 62.5px,#a8a8ff 76.5px,#a2a2ff 136.5px,#9191ff 199.5px,#9191ff 255.5px,#8a8aff 312.5px,#8c8cff 339.5px,#9c9cff 392.5px,#9a9aff 442.5px,#9e9eff 464.5px,#a5a5ff 479.5px,#aeaeff 494.5px,#d2d2ff 531.5px)"></div><div style="background:linear-gradient(90deg,#e4e4ff 0.5px,#b8b8ff 48.5px,#afafff 62.5px,#aaaaff 75.5px,#a4a4ff 135.5px,#9595ff 199.5px,#9494ff 254.5px,#8c8cff 313.5px,#8e8eff 339.5px,#9d9dff 392.5px,#9c9cff 443.5px,#a0a0ff 465.5px,#a7a7ff 480.5px,#b1b1ff 495.5px,#d2d2ff 531.5px)"></div><div style="background:linear-gradient(90deg,#e4e4ff 0.5px,#babaff 48.5px,#b1b1ff 62.5px,#acacff 75.5px,#a7a7ff 135.5px,#9898ff 198.5px,#9696ff 252.5px,#8e8eff 313.5px,#9090ff 340.5px,#9f9fff 392.5px,#9e9eff 443.5px,#a2a2ff 465.5px,#a8a8ff 480.5px,#b2b2ff 495.5px,#d3d3ff 531.5px)"></div><div style="background:linear-gradient(90deg,#e5e5ff 0.5px,#bbbbff 48.5px,#adadff 74.5px,#a9a9ff 135.5px,#9b9bff 197.5px,#9999ff 251.5px,#9090ff 313.5px,#9292ff 340.5px,#a1a1ff 393.5px,#a0a0ff 443.5px,#a4a4ff 465.5px,#aaaaff 480.5px,#b3b3ff 495.5px,#d4d4ff 531.5px)"></div><div style="background:linear-gradient(90deg,#e5e5ff 0.5px,#bcbcff 48.5px,#b3b3ff 61.5px,#aeaeff 74.5px,#ababff 131.5px,#9e9eff 193.5px,#9b9bff 249.5px,#9292ff 313.5px,#9494ff 340.5px,#a2a2ff 393.5px,#a2a2ff 444.5px,#a5a5ff 465.5px,#b4b4ff 494.5px,#d5d5ff 531.5px)"></div><div style="background:linear-gradient(90deg,#e6e6ff 0.5px,#bdbdff 48.5px,#b0b0ff 73.5px,#adadff 132.5px,#a1a1ff 191.5px,#9d9dff 247.5px,#9393ff 313.5px,#9696ff 340.5px,#a4a4ff 394.5px,#a3a3ff 444.5px,#a7a7ff 465.5px,#b5b5ff 494.5px,#d6d6ff 531.5px)"></div><div style="background:linear-gradient(90deg,#e6e6ff 0.5px,#bdbdff 48.5px,#b1b1ff 73.5px,#aeaeff 133.5px,#a3a3ff 189.5px,#a0a0ff 244.5px,#9595ff 313.5px,#9797ff 341.5px,#a5a5ff 394.5px,#a5a5ff 444.5px,#a8a8ff 465.5px,#b7b7ff 494.5px,#d6d6ff 531.5px)"></div><div style="background:linear-gradient(90deg,#e6e6ff 0.5px,#bfbfff 47.5px,#b2b2ff 72.5px,#b0b0ff 133.5px,#a6a6ff 186.5px,#a2a2ff 242.5px,#9696ff 313.5px,#9999ff 341.5px,#a7a7ff 395.5px,#a6a6ff 444.5px,#a9a9ff 465.5px,#b8b8ff 494.5px,#d7d7ff 531.5px)"></div><div style="background:linear-gradient(90deg,#e7e7ff 0.5px,#bfbfff 47.5px,#b3b3ff 72.5px,#b1b1ff 133.5px,#a8a8ff 187.5px,#a4a4ff 243.5px,#9898ff 313.5px,#9a9aff 341.5px,#a8a8ff 395.5px,#a8a8ff 445.5px,#ababff 466.5px,#babaff 495.5px,#d8d8ff 531.5px)"></div><div style="background:linear-gradient(90deg,#e7e7ff 0.5px,#c0c0ff 47.5px,#b4b4ff 72.5px,#b2b2ff 134.5px,#aaaaff 184.5px,#a6a6ff 240.5px,#9c9cff 289.5px,#9999ff 313.5px,#9c9cff 342.5px,#a9a9ff 396.5px,#a9a9ff 445.5px,#acacff 466.5px,#babaff 494.5px,#d8d8ff 531.5px)"></div><div style="background:linear-gradient(90deg,#e7e7ff 0.5px,#c0c0ff 47.5px,#b5b5ff 71.5px,#b3b3ff 134.5px,#acacff 182.5px,#a8a8ff 237.5px,#9d9dff 288.5px,#9b9bff 312.5px,#9d9dff 342.5px,#ababff 396.5px,#aaaaff 445.5px,#aeaeff 466.5px,#bbbbff 494.5px,#d9d9ff 531.5px)"></div><div style="background:linear-gradient(90deg,#e7e7ff 0.5px,#c1c1ff 47.5px,#b5b5ff 71.5px,#b3b3ff 86.5px,#b5b5ff 128.5px,#adadff 181.5px,#ababff 229.5px,#9e9eff 288.5px,#9c9cff 312.5px,#9e9eff 342.5px,#acacff 397.5px,#acacff 446.5px,#afafff 466.5px,#bcbcff 494.5px,#d9d9ff 531.5px)"></div><div style="background:linear-gradient(90deg,#e7e7ff 0.5px,#c1c1ff 47.5px,#b6b6ff 71.5px,#b4b4ff 86.5px,#b6b6ff 128.5px,#afafff 179.5px,#adadff 228.5px,#a0a0ff 287.5px,#9d9dff 312.5px,#9f9fff 342.5px,#adadff 397.5px,#adadff 446.5px,#b0b0ff 466.5px,#bdbdff 494.5px,#dadaff 531.5px)"></div><div style="background:linear-gradient(90deg,#e7e7ff 0.5px,#c2c2ff 46.5px,#b6b6ff 70.5px,#b5b5ff 85.5px,#b7b7ff 127.5px,#b0b0ff 177.5px,#aeaeff 226.5px,#a1a1ff 286.5px,#9e9eff 312.5px,#a1a1ff 343.5px,#aeaeff 397.5px,#aeaeff 446.5px,#b1b1ff 466.5px,#bebeff 494.5px,#dbdbff 531.5px)"></div><div style="background:linear-gradient(90deg,#e7e7ff 0.5px,#c2c2ff 46.5px,#b7b7ff 70.5px,#b5b5ff 85.5px,#b7b7ff 126.5px,#b2b2ff 176.5px,#b0b0ff 225.5px,#a2a2ff 285.5px,#9f9fff 311.5px,#a2a2ff 342.5px,#afafff 398.5px,#afafff 446.5px,#b3b3ff 466.5px,#bfbfff 494.5px,#dbdbff 531.5px)"></div><div style="background:linear-gradient(90deg,#e7e7ff 0.5px,#c2c2ff 46.5px,#b7b7ff 70.5px,#b6b6ff 85.5px,#b8b8ff 126.5px,#b3b3ff 174.5px,#b1b1ff 224.5px,#a3a3ff 285.5px,#a1a1ff 311.5px,#a3a3ff 343.5px,#b0b0ff 398.5px,#b1b1ff 446.5px,#b4b4ff 466.5px,#c0c0ff 494.5px,#dcdcff 531.5px)"></div><div style="background:linear-gradient(90deg,#e7e7ff 0.5px,#c2c2ff 46.5px,#b7b7ff 70.5px,#b6b6ff 85.5px,#b9b9ff 125.5px,#b3b3ff 173.5px,#b3b3ff 223.5px,#a4a4ff 284.5px,#a2a2ff 310.5px,#a4a4ff 343.5px,#b1b1ff 399.5px,#b2b2ff 446.5px,#b5b5ff 466.5px,#c1c1ff 494.5px,#dcdcff 531.5px)"></div><div style="background:linear-gradient(90deg,#e6e6ff 0.5px,#c2c2ff 46.5px,#b8b8ff 70.5px,#b6b6ff 85.5px,#b9b9ff 124.5px,#b4b4ff 172.5px,#b4b4ff 222.5px,#a5a5ff 283.5px,#a3a3ff 310.5px,#a5a5ff 343.5px,#b2b2ff 399.5px,#b3b3ff 447.5px,#b6b6ff 466.5px,#c2c2ff 494.5px,#dcdcff 531.5px)"></div><div style="background:linear-gradient(90deg,#e6e6ff 0.5px,#c3c3ff 45.5px,#b8b8ff 69.5px,#b7b7ff 84.5px,#b9b9ff 124.5px,#b5b5ff 171.5px,#b5b5ff 222.5px,#a6a6ff 283.5px,#a4a4ff 309.5px,#a6a6ff 343.5px,#b3b3ff 400.5px,#b4b4ff 447.5px,#b7b7ff 466.5px,#c3c3ff 494.5px,#ddddff 531.5px)"></div><div style="background:linear-gradient(90deg,#e6e6ff 0.5px,#c3c3ff 45.5px,#b8b8ff 69.5px,#b7b7ff 84.5px,#babaff 123.5px,#b5b5ff 171.5px,#b6b6ff 221.5px,#a7a7ff 282.5px,#a5a5ff 308.5px,#a7a7ff 344.5px,#b4b4ff 400.5px,#b5b5ff 446.5px,#b8b8ff 465.5px,#c3c3ff 493.5px,#ddddff 531.5px)"></div><div style="background:linear-gradient(90deg,#e6e6ff 0.5px,#c3c3ff 45.5px,#b8b8ff 69.5px,#b7b7ff 84.5px,#babaff 122.5px,#b6b6ff 170.5px,#b7b7ff 221.5px,#a8a8ff 281.5px,#a6a6ff 307.5px,#a8a8ff 344.5px,#b5b5ff 401.5px,#b6b6ff 447.5px,#b9b9ff 465.5px,#c4c4ff 493.5px,#dedeff 531.5px)"></div><div style="background:linear-gradient(90deg,#e6e6ff 0.5px,#c3c3ff 45.5px,#b8b8ff 69.5px,#b7b7ff 84.5px,#babaff 122.5px,#b6b6ff 169.5px,#b7b7ff 221.5px,#a9a9ff 281.5px,#a7a7ff 307.5px,#a9a9ff 344.5px,#b6b6ff 402.5px,#babaff 465.5px,#c5c5ff 493.5px,#dedeff 531.5px)"></div><div style="background:linear-gradient(90deg,#e5e5ff 0.5px,#c3c3ff 45.5px,#b9b9ff 69.5px,#babaff 121.5px,#b7b7ff 169.5px,#b8b8ff 220.5px,#aaaaff 280.5px,#a7a7ff 306.5px,#aaaaff 345.5px,#b6b6ff 402.5px,#babaff 465.5px,#c6c6ff 493.5px,#dedeff 531.5px)"></div><div style="background:linear-gradient(90deg,#e5e5ff 0.5px,#c3c3ff 44.5px,#b9b9ff 68.5px,#b8b8ff 83.5px,#babaff 121.5px,#b7b7ff 169.5px,#b8b8ff 220.5px,#ababff 279.5px,#a8a8ff 305.5px,#ababff 345.5px,#b7b7ff 403.5px,#bbbbff 465.5px,#c6c6ff 493.5px,#dfdfff 531.5px)"></div><div style="background:linear-gradient(90deg,#e5e5ff 0.5px,#c3c3ff 44.5px,#b9b9ff 68.5px,#b8b8ff 83.5px,#bbbbff 120.5px,#b7b7ff 168.5px,#b9b9ff 220.5px,#ababff 278.5px,#a9a9ff 303.5px,#acacff 345.5px,#b8b8ff 404.5px,#bcbcff 465.5px,#c7c7ff 493.5px,#dfdfff 531.5px)"></div><div style="background:linear-gradient(90deg,#e4e4ff 0.5px,#c4c4ff 43.5px,#b9b9ff 68.5px,#bbbbff 122.5px,#b7b7ff 171.5px,#b9b9ff 220.5px,#acacff 278.5px,#aaaaff 302.5px,#adadff 346.5px,#b9b9ff 404.5px,#bdbdff 465.5px,#c8c8ff 493.5px,#dfdfff 531.5px)"></div><div style="background:linear-gradient(90deg,#e4e4ff 0.5px,#c3c3ff 43.5px,#b9b9ff 68.5px,#bbbbff 122.5px,#b7b7ff 170.5px,#b9b9ff 219.5px,#adadff 277.5px,#aaaaff 301.5px,#adadff 346.5px,#b9b9ff 405.5px,#bebeff 465.5px,#c8c8ff 493.5px,#dfdfff 531.5px)"></div><div style="background:linear-gradient(90deg,#e4e4ff 0.5px,#c3c3ff 43.5px,#b9b9ff 68.5px,#bbbbff 122.5px,#b7b7ff 170.5px,#b9b9ff 219.5px,#adadff 276.5px,#ababff 299.5px,#aeaeff 342.5px,#babaff 403.5px,#bfbfff 465.5px,#c9c9ff 494.5px,#e0e0ff 531.5px)"></div><div style="background:linear-gradient(90deg,#e3e3ff 0.5px,#c3c3ff 43.5px,#b9b9ff 68.5px,#babaff 122.5px,#b7b7ff 170.5px,#b9b9ff 219.5px,#aeaeff 275.5px,#acacff 298.5px,#aeaeff 343.5px,#babaff 403.5px,#bfbfff 465.5px,#cacaff 494.5px,#e0e0ff 531.5px)"></div><div style="background:linear-gradient(90deg,#e3e3ff 0.5px,#c3c3ff 42.5px,#b9b9ff 67.5px,#babaff 122.5px,#b7b7ff 170.5px,#b9b9ff 219.5px,#aeaeff 274.5px,#acacff 296.5px,#afafff 344.5px,#bbbbff 404.5px,#c0c0ff 465.5px,#cacaff 494.5px,#e0e0ff 531.5px)"></div><div style="background:linear-gradient(90deg,#e2e2ff 0.5px,#c3c3ff 42.5px,#b9b9ff 67.5px,#babaff 121.5px,#b7b7ff 170.5px,#b9b9ff 218.5px,#aeaeff 273.5px,#adadff 294.5px,#b0b0ff 345.5px,#bcbcff 405.5px,#c1c1ff 465.5px,#cbcbff 494.5px,#e0e0ff 531.5px)"></div><div style="background:linear-gradient(90deg,#e2e2ff 0.5px,#c3c3ff 41.5px,#b9b9ff 67.5px,#babaff 121.5px,#b6b6ff 170.5px,#b8b8ff 218.5px,#aeaeff 272.5px,#adadff 293.5px,#b0b0ff 346.5px,#bcbcff 406.5px,#c1c1ff 465.5px,#cbcbff 494.5px,#e0e0ff 531.5px)"></div><div style="background:linear-gradient(90deg,#e2e2ff 0.5px,#c3c3ff 41.5px,#b9b9ff 67.5px,#babaff 121.5px,#b6b6ff 170.5px,#b8b8ff 218.5px,#adadff 291.5px,#b1b1ff 348.5px,#bdbdff 406.5px,#c2c2ff 465.5px,#ccccff 494.5px,#e0e0ff 531.5px)"></div><div style="background:linear-gradient(90deg,#e1e1ff 0.5px,#c3c3ff 41.5px,#b9b9ff 67.5px,#babaff 119.5px,#b6b6ff 167.5px,#b7b7ff 217.5px,#adadff 289.5px,#b1b1ff 349.5px,#bdbdff 407.5px,#c3c3ff 466.5px,#cdcdff 495.5px,#e1e1ff 531.5px)"></div><div style="background:linear-gradient(90deg,#e1e1ff 0.5px,#c3c3ff 40.5px,#b9b9ff 66.5px,#babaff 119.5px,#b6b6ff 167.5px,#b7b7ff 217.5px,#adadff 287.5px,#b2b2ff 350.5px,#bdbdff 408.5px,#c3c3ff 466.5px,#cdcdff 495.5px,#e1e1ff 531.5px)"></div><div style="background:linear-gradient(90deg,#e0e0ff 0.5px,#c3c3ff 40.5px,#b9b9ff 66.5px,#babaff 120.5px,#b6b6ff 167.5px,#b6b6ff 216.5px,#adadff 284.5px,#b2b2ff 351.5px,#bebeff 408.5px,#c3c3ff 466.5px,#cdcdff 495.5px,#e1e1ff 531.5px)"></div><div style="background:linear-gradient(90deg,#e0e0ff 0.5px,#c3c3ff 40.5px,#b9b9ff 66.5px,#babaff 120.5px,#b5b5ff 168.5px,#b5b5ff 215.5px,#adadff 282.5px,#b2b2ff 351.5px,#bebeff 409.5px,#c4c4ff 466.5px,#cdcdff 495.5px,#e1e1ff 531.5px)"></div><div style="background:linear-gradient(90deg,#e0e0ff 0.5px,#c3c3ff 39.5px,#b9b9ff 65.5px,#b9b9ff 124.5px,#b5b5ff 168.5px,#b4b4ff 218.5px,#adadff 280.5px,#b2b2ff 352.5px,#bebeff 410.5px,#c4c4ff 467.5px,#ceceff 496.5px,#e1e1ff 531.5px)"></div><div style="background:linear-gradient(90deg,#dfdfff 0.5px,#c3c3ff 38.5px,#b9b9ff 65.5px,#b9b9ff 125.5px,#b5b5ff 168.5px,#b3b3ff 218.5px,#acacff 277.5px,#b2b2ff 353.5px,#bfbfff 410.5px,#c4c4ff 467.5px,#ceceff 496.5px,#e1e1ff 531.5px)"></div><div style="background:linear-gradient(90deg,#dfdfff 0.5px,#c3c3ff 38.5px,#b9b9ff 65.5px,#b9b9ff 125.5px,#acacff 275.5px,#b2b2ff 353.5px,#bfbfff 411.5px,#c5c5ff 468.5px,#ceceff 496.5px,#e1e1ff 531.5px)"></div><div style="background:linear-gradient(90deg,#dedeff 0.5px,#c3c3ff 37.5px,#b9b9ff 64.5px,#b9b9ff 125.5px,#ababff 272.5px,#b1b1ff 354.5px,#bfbfff 412.5px,#c5c5ff 469.5px,#ceceff 497.5px,#e0e0ff 531.5px)"></div><div style="background:linear-gradient(90deg,#dedeff 0.5px,#c3c3ff 37.5px,#b9b9ff 63.5px,#b8b8ff 126.5px,#aaaaff 270.5px,#b1b1ff 354.5px,#bfbfff 412.5px,#c5c5ff 469.5px,#ceceff 497.5px,#e0e0ff 531.5px)"></div><div style="background:linear-gradient(90deg,#dedeff 0.5px,#c3c3ff 36.5px,#b9b9ff 63.5px,#b8b8ff 127.5px,#a9a9ff 267.5px,#b1b1ff 355.5px,#bfbfff 413.5px,#c5c5ff 470.5px,#ceceff 498.5px,#e0e0ff 531.5px)"></div><div style="background:linear-gradient(90deg,#ddddff 0.5px,#c3c3ff 36.5px,#b9b9ff 62.5px,#b8b8ff 128.5px,#a8a8ff 264.5px,#b0b0ff 355.5px,#bfbfff 413.5px,#c5c5ff 471.5px,#ceceff 498.5px,#e0e0ff 531.5px)"></div><div style="background:linear-gradient(90deg,#ddddff 0.5px,#c4c4ff 35.5px,#b9b9ff 61.5px,#b8b8ff 129.5px,#a7a7ff 262.5px,#afafff 355.5px,#bfbfff 414.5px,#c5c5ff 472.5px,#ceceff 499.5px,#e0e0ff 531.5px)"></div><div style="background:linear-gradient(90deg,#dcdcff 0.5px,#c3c3ff 35.5px,#b9b9ff 61.5px,#b8b8ff 131.5px,#a8a8ff 233.5px,#a6a6ff 260.5px,#afafff 355.5px,#bebeff 414.5px,#c5c5ff 472.5px,#ceceff 499.5px,#dfdfff 531.5px)"></div><div style="background:linear-gradient(90deg,#dcdcff 0.5px,#c4c4ff 34.5px,#b9b9ff 60.5px,#b7b7ff 132.5px,#a7a7ff 230.5px,#a4a4ff 258.5px,#aeaeff 355.5px,#bebeff 415.5px,#c5c5ff 473.5px,#ceceff 500.5px,#dfdfff 531.5px)"></div><div style="background:linear-gradient(90deg,#dcdcff 0.5px,#c4c4ff 33.5px,#b9b9ff 59.5px,#b7b7ff 134.5px,#a5a5ff 228.5px,#a3a3ff 256.5px,#adadff 355.5px,#bebeff 415.5px,#c5c5ff 474.5px,#cdcdff 500.5px,#dfdfff 531.5px)"></div><div style="background:linear-gradient(90deg,#dbdbff 0.5px,#c4c4ff 32.5px,#babaff 58.5px,#b7b7ff 136.5px,#a4a4ff 226.5px,#a1a1ff 254.5px,#acacff 355.5px,#bdbdff 416.5px,#c4c4ff 475.5px,#cdcdff 501.5px,#dfdfff 531.5px)"></div><div style="background:linear-gradient(90deg,#dbdbff 0.5px,#c4c4ff 32.5px,#babaff 57.5px,#b6b6ff 138.5px,#a3a3ff 225.5px,#a0a0ff 253.5px,#ababff 355.5px,#bdbdff 416.5px,#c4c4ff 476.5px,#cdcdff 501.5px,#dedeff 531.5px)"></div><div style="background:linear-gradient(90deg,#dbdbff 0.5px,#c4c4ff 31.5px,#babaff 56.5px,#b8b8ff 74.5px,#b6b6ff 140.5px,#a1a1ff 224.5px,#9e9eff 252.5px,#a9a9ff 355.5px,#bcbcff 416.5px,#c3c3ff 476.5px,#ccccff 501.5px,#dedeff 531.5px)"></div><div style="background:linear-gradient(90deg,#dbdbff 0.5px,#c5c5ff 30.5px,#babaff 55.5px,#b8b8ff 74.5px,#b6b6ff 141.5px,#a0a0ff 224.5px,#9c9cff 251.5px,#a5a5ff 309.5px,#a8a8ff 354.5px,#bcbcff 416.5px,#c3c3ff 477.5px,#ccccff 502.5px,#ddddff 531.5px)"></div><div style="background:linear-gradient(90deg,#dadaff 0.5px,#c4c4ff 30.5px,#babaff 54.5px,#b8b8ff 73.5px,#b8b8ff 118.5px,#b6b6ff 143.5px,#afafff 170.5px,#9e9eff 224.5px,#9a9aff 251.5px,#a3a3ff 308.5px,#a7a7ff 354.5px,#bbbbff 417.5px,#c2c2ff 478.5px,#cbcbff 502.5px,#ddddff 531.5px)"></div><div style="background:linear-gradient(90deg,#dadaff 0.5px,#c5c5ff 29.5px,#bbbbff 53.5px,#b8b8ff 72.5px,#b8b8ff 119.5px,#b5b5ff 144.5px,#afafff 171.5px,#9d9dff 223.5px,#9999ff 250.5px,#a2a2ff 308.5px,#a5a5ff 354.5px,#babaff 417.5px,#c1c1ff 478.5px,#cacaff 502.5px,#dcdcff 531.5px)"></div><div style="background:linear-gradient(90deg,#dadaff 0.5px,#c5c5ff 28.5px,#bbbbff 52.5px,#b8b8ff 72.5px,#b8b8ff 120.5px,#b5b5ff 145.5px,#aeaeff 172.5px,#9b9bff 223.5px,#9797ff 250.5px,#a0a0ff 307.5px,#a4a4ff 354.5px,#babaff 417.5px,#c0c0ff 479.5px,#cacaff 503.5px,#dcdcff 531.5px)"></div><div style="background:linear-gradient(90deg,#d9d9ff 0.5px,#c5c5ff 28.5px,#bbbbff 51.5px,#b8b8ff 71.5px,#b8b8ff 121.5px,#b5b5ff 146.5px,#aeaeff 172.5px,#9999ff 223.5px,#9595ff 250.5px,#9e9eff 307.5px,#a2a2ff 353.5px,#b9b9ff 417.5px,#bfbfff 479.5px,#c8c8ff 502.5px,#dbdbff 531.5px)"></div><div style="background:linear-gradient(90deg,#d9d9ff 0.5px,#c5c5ff 27.5px,#bbbbff 50.5px,#b8b8ff 71.5px,#b8b8ff 121.5px,#b5b5ff 147.5px,#adadff 173.5px,#9898ff 223.5px,#9393ff 250.5px,#9d9dff 307.5px,#a1a1ff 353.5px,#b8b8ff 417.5px,#bebeff 480.5px,#c8c8ff 503.5px,#dbdbff 531.5px)"></div><div style="background:linear-gradient(90deg,#d9d9ff 0.5px,#c5c5ff 27.5px,#bcbcff 49.5px,#b8b8ff 70.5px,#b8b8ff 122.5px,#b5b5ff 148.5px,#adadff 173.5px,#9696ff 223.5px,#9191ff 250.5px,#9b9bff 306.5px,#9f9fff 352.5px,#b7b7ff 417.5px,#bdbdff 480.5px,#c7c7ff 503.5px,#dadaff 531.5px)"></div><div style="background:linear-gradient(90deg,#d9d9ff 0.5px,#c6c6ff 26.5px,#bcbcff 48.5px,#b8b8ff 70.5px,#b8b8ff 123.5px,#b5b5ff 148.5px,#adadff 173.5px,#9595ff 223.5px,#9090ff 250.5px,#9999ff 306.5px,#9e9eff 355.5px,#b7b7ff 421.5px,#bcbcff 480.5px,#c6c6ff 503.5px,#d9d9ff 531.5px)"></div><div style="background:linear-gradient(90deg,#d9d9ff 0.5px,#c6c6ff 25.5px,#bcbcff 47.5px,#b8b8ff 69.5px,#b8b8ff 124.5px,#b5b5ff 149.5px,#acacff 174.5px,#9393ff 223.5px,#8e8eff 250.5px,#9898ff 305.5px,#9d9dff 355.5px,#b6b6ff 421.5px,#bbbbff 480.5px,#c5c5ff 503.5px,#d9d9ff 531.5px)"></div><div style="background:linear-gradient(90deg,#d8d8ff 0.5px,#c6c6ff 25.5px,#bdbdff 46.5px,#b9b9ff 69.5px,#b8b8ff 125.5px,#b5b5ff 150.5px,#acacff 175.5px,#9292ff 223.5px,#8c8cff 250.5px,#9696ff 305.5px,#9b9bff 354.5px,#b5b5ff 421.5px,#babaff 481.5px,#c4c4ff 503.5px,#d8d8ff 531.5px)"></div><div style="background:linear-gradient(90deg,#d8d8ff 0.5px,#c7c7ff 24.5px,#bdbdff 45.5px,#b9b9ff 68.5px,#b8b8ff 125.5px,#b5b5ff 150.5px,#acacff 175.5px,#9090ff 224.5px,#8b8bff 250.5px,#9494ff 305.5px,#9a9aff 354.5px,#b4b4ff 421.5px,#b9b9ff 481.5px,#c2c2ff 503.5px,#d8d8ff 531.5px)"></div><div style="background:linear-gradient(90deg,#d8d8ff 0.5px,#c7c7ff 24.5px,#bdbdff 44.5px,#b9b9ff 68.5px,#b9b9ff 125.5px,#b5b5ff 150.5px,#acacff 175.5px,#8f8fff 224.5px,#8989ff 251.5px,#9393ff 305.5px,#9898ff 354.5px,#b2b2ff 420.5px,#b7b7ff 481.5px,#c1c1ff 503.5px,#d7d7ff 531.5px)"></div><div style="background:linear-gradient(90deg,#d8d8ff 0.5px,#c5c5ff 27.5px,#bcbcff 50.5px,#b9b9ff 74.5px,#b9b9ff 131.5px,#b4b4ff 156.5px,#ababff 177.5px,#8e8eff 223.5px,#8989ff 237.5px,#8787ff 251.5px,#9191ff 305.5px,#9797ff 353.5px,#b1b1ff 420.5px,#b6b6ff 481.5px,#c0c0ff 503.5px,#d6d6ff 531.5px)"></div><div style="background:linear-gradient(90deg,#d8d8ff 0.5px,#c5c5ff 27.5px,#bcbcff 50.5px,#b9b9ff 74.5px,#b9b9ff 131.5px,#b4b4ff 156.5px,#ababff 177.5px,#8d8dff 224.5px,#8888ff 238.5px,#8686ff 251.5px,#9595ff 353.5px,#b0b0ff 420.5px,#b5b5ff 481.5px,#bfbfff 503.5px,#d6d6ff 531.5px)"></div><div style="background:linear-gradient(90deg,#d8d8ff 0.5px,#c5c5ff 26.5px,#bcbcff 50.5px,#b9b9ff 74.5px,#b9b9ff 131.5px,#b4b4ff 156.5px,#ababff 177.5px,#8c8cff 224.5px,#8686ff 238.5px,#8585ff 252.5px,#9494ff 353.5px,#aaaaff 404.5px,#afafff 420.5px,#b3b3ff 481.5px,#bebeff 503.5px,#d5d5ff 531.5px)"></div><div style="background:linear-gradient(90deg,#d8d8ff 0.5px,#c5c5ff 26.5px,#bcbcff 50.5px,#babaff 74.5px,#b9b9ff 131.5px,#b5b5ff 156.5px,#aaaaff 178.5px,#8b8bff 224.5px,#8585ff 238.5px,#8383ff 252.5px,#9393ff 352.5px,#aeaeff 419.5px,#b2b2ff 481.5px,#bdbdff 503.5px,#d4d4ff 531.5px)"></div><div style="background:linear-gradient(90deg,#d8d8ff 0.5px,#c6c6ff 26.5px,#bdbdff 49.5px,#babaff 74.5px,#babaff 131.5px,#b5b5ff 156.5px,#aaaaff 178.5px,#8a8aff 224.5px,#8484ff 238.5px,#8282ff 252.5px,#9292ff 352.5px,#adadff 419.5px,#aeaeff 466.5px,#b1b1ff 481.5px,#bcbcff 503.5px,#d4d4ff 531.5px)"></div><div style="background:linear-gradient(90deg,#d8d8ff 0.5px,#c6c6ff 26.5px,#bdbdff 49.5px,#babaff 74.5px,#babaff 132.5px,#b5b5ff 156.5px,#aaaaff 178.5px,#8989ff 225.5px,#8383ff 239.5px,#8181ff 253.5px,#9191ff 352.5px,#a7a7ff 403.5px,#acacff 419.5px,#adadff 466.5px,#afafff 481.5px,#babaff 503.5px,#d3d3ff 531.5px)"></div><div style="background:linear-gradient(90deg,#d8d8ff 0.5px,#c6c6ff 26.5px,#bdbdff 49.5px,#bbbbff 74.5px,#bbbbff 132.5px,#b6b6ff 156.5px,#aaaaff 178.5px,#8888ff 225.5px,#8282ff 239.5px,#8080ff 253.5px,#8f8fff 351.5px,#ababff 418.5px,#acacff 466.5px,#aeaeff 481.5px,#b9b9ff 503.5px,#d2d2ff 531.5px)"></div><div style="background:linear-gradient(90deg,#d8d8ff 0.5px,#c6c6ff 26.5px,#bebeff 49.5px,#bbbbff 74.5px,#bbbbff 131.5px,#b6b6ff 155.5px,#ababff 178.5px,#8787ff 226.5px,#8181ff 240.5px,#7f7fff 254.5px,#8f8fff 351.5px,#aaaaff 418.5px,#aaaaff 466.5px,#adadff 481.5px,#b8b8ff 503.5px,#d2d2ff 531.5px)"></div><div style="background:linear-gradient(90deg,#d8d8ff 0.5px,#c7c7ff 25.5px,#bebeff 48.5px,#bbbbff 73.5px,#bbbbff 131.5px,#b7b7ff 155.5px,#ababff 178.5px,#8686ff 226.5px,#8181ff 240.5px,#7e7eff 254.5px,#8e8eff 350.5px,#a9a9ff 418.5px,#a9a9ff 466.5px,#acacff 481.5px,#b7b7ff 503.5px,#d1d1ff 531.5px)"></div><div style="background:linear-gradient(90deg,#d8d8ff 0.5px,#c7c7ff 25.5px,#bfbfff 48.5px,#bcbcff 73.5px,#bcbcff 131.5px,#b7b7ff 155.5px,#ababff 178.5px,#8686ff 226.5px,#8080ff 240.5px,#7e7eff 255.5px,#8d8dff 350.5px,#a8a8ff 417.5px,#a8a8ff 466.5px,#aaaaff 481.5px,#b6b6ff 503.5px,#d1d1ff 531.5px)"></div><div style="background:linear-gradient(90deg,#d8d8ff 0.5px,#c7c7ff 25.5px,#bfbfff 48.5px,#bcbcff 73.5px,#bcbcff 131.5px,#b8b8ff 155.5px,#acacff 178.5px,#8686ff 226.5px,#8080ff 240.5px,#7d7dff 255.5px,#8c8cff 349.5px,#a7a7ff 417.5px,#a7a7ff 466.5px,#a9a9ff 481.5px,#b5b5ff 503.5px,#d0d0ff 531.5px)"></div><div style="background:linear-gradient(90deg,#d9d9ff 0.5px,#c8c8ff 25.5px,#c0c0ff 47.5px,#bdbdff 72.5px,#bdbdff 131.5px,#b8b8ff 155.5px,#acacff 178.5px,#8585ff 227.5px,#7f7fff 241.5px,#7d7dff 256.5px,#8c8cff 349.5px,#a6a6ff 417.5px,#a6a6ff 466.5px,#a8a8ff 481.5px,#b4b4ff 503.5px,#d0d0ff 531.5px)"></div><div style="background:linear-gradient(90deg,#d9d9ff 0.5px,#c8c8ff 25.5px,#c0c0ff 47.5px,#bebeff 72.5px,#bdbdff 131.5px,#b9b9ff 155.5px,#acacff 178.5px,#8585ff 227.5px,#7f7fff 241.5px,#7d7dff 256.5px,#8b8bff 348.5px,#a5a5ff 416.5px,#a7a7ff 432.5px,#a5a5ff 466.5px,#a7a7ff 481.5px,#b4b4ff 503.5px,#cfcfff 531.5px)"></div><div style="background:linear-gradient(90deg,#d9d9ff 0.5px,#c8c8ff 25.5px,#c1c1ff 47.5px,#bebeff 71.5px,#bebeff 131.5px,#b9b9ff 155.5px,#adadff 178.5px,#8686ff 227.5px,#7f7fff 242.5px,#7d7dff 257.5px,#8b8bff 348.5px,#a5a5ff 416.5px,#a4a4ff 465.5px,#a6a6ff 480.5px,#b2b2ff 502.5px,#cfcfff 531.5px)"></div><div style="background:linear-gradient(90deg,#d9d9ff 0.5px,#c9c9ff 25.5px,#c1c1ff 47.5px,#bfbfff 71.5px,#bfbfff 130.5px,#babaff 155.5px,#adadff 178.5px,#8686ff 227.5px,#7f7fff 242.5px,#7d7dff 257.5px,#8b8bff 347.5px,#a4a4ff 416.5px,#a3a3ff 465.5px,#a5a5ff 480.5px,#b1b1ff 502.5px,#ceceff 531.5px)"></div><div style="background:linear-gradient(90deg,#d9d9ff 0.5px,#cacaff 24.5px,#c2c2ff 46.5px,#bfbfff 69.5px,#bfbfff 130.5px,#babaff 155.5px,#aeaeff 178.5px,#8686ff 228.5px,#7f7fff 243.5px,#7d7dff 258.5px,#8b8bff 347.5px,#a3a3ff 415.5px,#a5a5ff 432.5px,#a2a2ff 465.5px,#a4a4ff 480.5px,#b0b0ff 502.5px,#ceceff 531.5px)"></div><div style="background:linear-gradient(90deg,#dadaff 0.5px,#cacaff 24.5px,#c2c2ff 46.5px,#c0c0ff 130.5px,#bbbbff 155.5px,#aeaeff 178.5px,#8686ff 228.5px,#7f7fff 243.5px,#7d7dff 258.5px,#8b8bff 346.5px,#a3a3ff 415.5px,#a4a4ff 432.5px,#a1a1ff 465.5px,#a4a4ff 480.5px,#b0b0ff 502.5px,#ceceff 531.5px)"></div><div style="background:linear-gradient(90deg,#dadaff 0.5px,#cacaff 24.5px,#c3c3ff 46.5px,#c1c1ff 129.5px,#bcbcff 154.5px,#afafff 178.5px,#8787ff 228.5px,#8080ff 243.5px,#7d7dff 259.5px,#8b8bff 346.5px,#a2a2ff 414.5px,#a4a4ff 431.5px,#a1a1ff 465.5px,#a3a3ff 480.5px,#afafff 502.5px,#cdcdff 531.5px)"></div><div style="background:linear-gradient(90deg,#dadaff 0.5px,#cbcbff 24.5px,#c4c4ff 45.5px,#c1c1ff 128.5px,#bcbcff 154.5px,#afafff 178.5px,#8787ff 228.5px,#8181ff 243.5px,#7e7eff 259.5px,#8c8cff 345.5px,#a2a2ff 414.5px,#a3a3ff 431.5px,#a0a0ff 465.5px,#a2a2ff 480.5px,#afafff 502.5px,#cdcdff 531.5px)"></div><div style="background:linear-gradient(90deg,#dbdbff 0.5px,#cbcbff 24.5px,#c4c4ff 45.5px,#c2c2ff 128.5px,#bdbdff 154.5px,#b0b0ff 178.5px,#8888ff 229.5px,#8181ff 244.5px,#7f7fff 260.5px,#8c8cff 344.5px,#a2a2ff 413.5px,#a3a3ff 431.5px,#a0a0ff 465.5px,#a2a2ff 480.5px,#aeaeff 502.5px,#cdcdff 531.5px)"></div><div style="background:linear-gradient(90deg,#dbdbff 0.5px,#ccccff 24.5px,#c5c5ff 45.5px,#c3c3ff 126.5px,#bebeff 153.5px,#b0b0ff 178.5px,#8989ff 229.5px,#8282ff 244.5px,#8080ff 260.5px,#8181ff 281.5px,#8d8dff 343.5px,#a2a2ff 413.5px,#a2a2ff 431.5px,#9f9fff 465.5px,#a1a1ff 480.5px,#aeaeff 502.5px,#ccccff 531.5px)"></div><div style="background:linear-gradient(90deg,#dbdbff 0.5px,#cdcdff 23.5px,#c6c6ff 44.5px,#c3c3ff 125.5px,#bebeff 153.5px,#b1b1ff 178.5px,#8a8aff 229.5px,#8383ff 245.5px,#8080ff 261.5px,#8282ff 283.5px,#8d8dff 342.5px,#a1a1ff 412.5px,#a2a2ff 430.5px,#9f9fff 464.5px,#a1a1ff 479.5px,#a5a5ff 490.5px,#adadff 502.5px,#ccccff 531.5px)"></div><div style="background:linear-gradient(90deg,#dcdcff 0.5px,#cdcdff 23.5px,#c6c6ff 44.5px,#c4c4ff 124.5px,#bfbfff 153.5px,#b1b1ff 178.5px,#8b8bff 229.5px,#8484ff 245.5px,#8181ff 261.5px,#8383ff 283.5px,#8e8eff 341.5px,#a1a1ff 412.5px,#a2a2ff 430.5px,#9f9fff 464.5px,#a0a0ff 479.5px,#a5a5ff 490.5px,#adadff 502.5px,#ccccff 531.5px)"></div><div style="background:linear-gradient(90deg,#dcdcff 0.5px,#ceceff 23.5px,#c7c7ff 43.5px,#c5c5ff 123.5px,#bfbfff 152.5px,#b3b3ff 177.5px,#8c8cff 229.5px,#8585ff 245.5px,#8383ff 261.5px,#8484ff 284.5px,#8f8fff 338.5px,#a1a1ff 411.5px,#a2a2ff 430.5px,#9f9fff 464.5px,#a0a0ff 479.5px,#a5a5ff 490.5px,#adadff 502.5px,#ccccff 531.5px)"></div><div style="background:linear-gradient(90deg,#dcdcff 0.5px,#ceceff 23.5px,#c8c8ff 43.5px,#c6c6ff 121.5px,#c0c0ff 151.5px,#b3b3ff 177.5px,#8d8dff 230.5px,#8686ff 246.5px,#8484ff 262.5px,#8686ff 284.5px,#8f8fff 334.5px,#a1a1ff 411.5px,#a2a2ff 430.5px,#9e9eff 464.5px,#a0a0ff 479.5px,#a5a5ff 490.5px,#adadff 502.5px,#ccccff 531.5px)"></div><div style="background:linear-gradient(90deg,#ddddff 0.5px,#cfcfff 23.5px,#c9c9ff 43.5px,#c7c7ff 119.5px,#c1c1ff 151.5px,#b4b4ff 176.5px,#8e8eff 230.5px,#8787ff 246.5px,#8585ff 262.5px,#8989ff 298.5px,#a1a1ff 410.5px,#a2a2ff 429.5px,#9e9eff 464.5px,#a0a0ff 479.5px,#a4a4ff 490.5px,#adadff 502.5px,#ccccff 531.5px)"></div><div style="background:linear-gradient(90deg,#ddddff 0.5px,#d0d0ff 22.5px,#c9c9ff 42.5px,#c8c8ff 117.5px,#c2c2ff 150.5px,#b5b5ff 176.5px,#8f8fff 230.5px,#8989ff 246.5px,#8787ff 262.5px,#8a8aff 294.5px,#a2a2ff 409.5px,#a2a2ff 429.5px,#9e9eff 464.5px,#a0a0ff 479.5px,#a4a4ff 490.5px,#adadff 502.5px,#ccccff 531.5px)"></div><div style="background:linear-gradient(90deg,#dedeff 0.5px,#d1d1ff 22.5px,#cacaff 42.5px,#c9c9ff 115.5px,#c2c2ff 149.5px,#b6b6ff 175.5px,#9191ff 230.5px,#8a8aff 246.5px,#8888ff 262.5px,#8b8bff 291.5px,#a2a2ff 409.5px,#a2a2ff 429.5px,#9f9fff 464.5px,#a0a0ff 479.5px,#a5a5ff 491.5px,#adadff 502.5px,#ccccff 531.5px)"></div><div style="background:linear-gradient(90deg,#dedeff 0.5px,#d1d1ff 22.5px,#cbcbff 41.5px,#c9c9ff 114.5px,#c3c3ff 148.5px,#b7b7ff 175.5px,#9393ff 229.5px,#8c8cff 245.5px,#8a8aff 262.5px,#8c8cff 289.5px,#a2a2ff 408.5px,#a3a3ff 428.5px,#9f9fff 463.5px,#a0a0ff 478.5px,#a5a5ff 490.5px,#adadff 502.5px,#ccccff 531.5px)"></div><div style="background:linear-gradient(90deg,#dedeff 0.5px,#d2d2ff 22.5px,#cbcbff 41.5px,#cbcbff 111.5px,#c4c4ff 146.5px,#b8b8ff 174.5px,#9494ff 229.5px,#8e8eff 245.5px,#8b8bff 262.5px,#8d8dff 287.5px,#a2a2ff 407.5px,#a3a3ff 428.5px,#9f9fff 463.5px,#a0a0ff 478.5px,#a5a5ff 490.5px,#adadff 502.5px,#ccccff 531.5px)"></div><div style="background:linear-gradient(90deg,#dfdfff 0.5px,#d2d2ff 22.5px,#ccccff 41.5px,#ccccff 109.5px,#c5c5ff 145.5px,#b9b9ff 173.5px,#9696ff 229.5px,#9090ff 245.5px,#8d8dff 262.5px,#8f8fff 286.5px,#a3a3ff 406.5px,#a3a3ff 427.5px,#9f9fff 463.5px,#a1a1ff 478.5px,#a5a5ff 490.5px,#adadff 502.5px,#ccccff 531.5px)"></div><div style="background:linear-gradient(90deg,#dfdfff 0.5px,#d3d3ff 21.5px,#cdcdff 40.5px,#cdcdff 107.5px,#c6c6ff 143.5px,#babaff 172.5px,#9797ff 229.5px,#9191ff 245.5px,#8f8fff 262.5px,#9090ff 284.5px,#9b9bff 342.5px,#a3a3ff 404.5px,#a4a4ff 427.5px,#a0a0ff 463.5px,#a1a1ff 478.5px,#a6a6ff 490.5px,#aeaeff 502.5px,#ccccff 531.5px)"></div><div style="background:linear-gradient(90deg,#dfdfff 0.5px,#d3d3ff 21.5px,#cdcdff 40.5px,#cdcdff 106.5px,#c7c7ff 141.5px,#bbbbff 171.5px,#9999ff 229.5px,#9393ff 245.5px,#9191ff 262.5px,#9292ff 286.5px,#9e9eff 346.5px,#a4a4ff 402.5px,#a4a4ff 426.5px,#a0a0ff 463.5px,#a2a2ff 478.5px,#a6a6ff 490.5px,#aeaeff 502.5px,#ccccff 531.5px)"></div><div style="background:linear-gradient(90deg,#dfdfff 0.5px,#d4d4ff 21.5px,#ceceff 40.5px,#ceceff 104.5px,#c9c9ff 138.5px,#bcbcff 169.5px,#9b9bff 228.5px,#9595ff 245.5px,#9393ff 262.5px,#9494ff 286.5px,#9f9fff 344.5px,#a4a4ff 398.5px,#a2a2ff 478.5px,#a6a6ff 490.5px,#aeaeff 502.5px,#ccccff 531.5px)"></div><div style="background:linear-gradient(90deg,#e0e0ff 0.5px,#d4d4ff 21.5px,#cfcfff 39.5px,#cfcfff 102.5px,#cacaff 136.5px,#bdbdff 167.5px,#9d9dff 227.5px,#9797ff 244.5px,#9595ff 261.5px,#9696ff 283.5px,#a2a2ff 360.5px,#a5a5ff 416.5px,#a1a1ff 462.5px,#a2a2ff 477.5px,#a6a6ff 489.5px,#aeaeff 501.5px,#cdcdff 531.5px)"></div><div style="background:linear-gradient(90deg,#e0e0ff 0.5px,#d4d4ff 21.5px,#cfcfff 39.5px,#d0d0ff 101.5px,#cbcbff 133.5px,#bfbfff 165.5px,#9e9eff 227.5px,#9999ff 244.5px,#9696ff 261.5px,#9898ff 283.5px,#a4a4ff 355.5px,#a6a6ff 416.5px,#a2a2ff 461.5px,#a3a3ff 477.5px,#a7a7ff 489.5px,#aeaeff 501.5px,#cdcdff 531.5px)"></div><div style="background:linear-gradient(90deg,#e0e0ff 0.5px,#d5d5ff 21.5px,#d0d0ff 39.5px,#d1d1ff 99.5px,#cdcdff 130.5px,#c1c1ff 162.5px,#a0a0ff 226.5px,#9898ff 260.5px,#9a9aff 283.5px,#a5a5ff 351.5px,#a6a6ff 416.5px,#a3a3ff 461.5px,#a4a4ff 477.5px,#a8a8ff 490.5px,#b0b0ff 502.5px,#cdcdff 531.5px)"></div><div style="background:linear-gradient(90deg,#e0e0ff 0.5px,#d5d5ff 21.5px,#d0d0ff 39.5px,#d2d2ff 98.5px,#ceceff 128.5px,#c2c2ff 159.5px,#a2a2ff 224.5px,#9d9dff 242.5px,#9a9aff 260.5px,#9c9cff 282.5px,#a7a7ff 349.5px,#a4a4ff 477.5px,#a9a9ff 490.5px,#b0b0ff 502.5px,#cdcdff 531.5px)"></div><div style="background:linear-gradient(90deg,#e0e0ff 0.5px,#d5d5ff 21.5px,#d0d0ff 39.5px,#d3d3ff 96.5px,#cfcfff 125.5px,#c4c4ff 155.5px,#a4a4ff 223.5px,#9c9cff 259.5px,#9e9eff 281.5px,#a9a9ff 347.5px,#a5a5ff 477.5px,#a9a9ff 490.5px,#b1b1ff 502.5px,#ceceff 531.5px)"></div><div style="background:linear-gradient(90deg,#e0e0ff 0.5px,#d5d5ff 21.5px,#d1d1ff 39.5px,#d4d4ff 95.5px,#d0d0ff 123.5px,#c6c6ff 151.5px,#a6a6ff 221.5px,#a0a0ff 240.5px,#9e9eff 258.5px,#a0a0ff 281.5px,#aaaaff 345.5px,#a6a6ff 477.5px,#aaaaff 490.5px,#b1b1ff 502.5px,#ceceff 531.5px)"></div><div style="background:linear-gradient(90deg,#e0e0ff 0.5px,#d6d6ff 20.5px,#d1d1ff 38.5px,#d5d5ff 94.5px,#d1d1ff 121.5px,#c8c8ff 147.5px,#a8a8ff 219.5px,#a2a2ff 238.5px,#a0a0ff 257.5px,#a1a1ff 280.5px,#acacff 344.5px,#a7a7ff 476.5px,#aaaaff 489.5px,#b1b1ff 501.5px,#ceceff 531.5px)"></div><div style="background:linear-gradient(90deg,#e0e0ff 0.5px,#d6d6ff 20.5px,#d1d1ff 38.5px,#d5d5ff 93.5px,#d3d3ff 119.5px,#cacaff 143.5px,#aaaaff 216.5px,#a4a4ff 237.5px,#a2a2ff 256.5px,#a3a3ff 279.5px,#aeaeff 342.5px,#a7a7ff 476.5px,#ababff 489.5px,#b2b2ff 501.5px,#ceceff 531.5px)"></div><div style="background:linear-gradient(90deg,#e0e0ff 0.5px,#d6d6ff 20.5px,#d1d1ff 38.5px,#d6d6ff 93.5px,#d4d4ff 117.5px,#ccccff 140.5px,#acacff 213.5px,#a6a6ff 234.5px,#a4a4ff 254.5px,#a5a5ff 277.5px,#b0b0ff 341.5px,#ababff 398.5px,#a8a8ff 476.5px,#acacff 489.5px,#b3b3ff 501.5px,#cfcfff 531.5px)"></div><div style="background:linear-gradient(90deg,#e0e0ff 0.5px,#d6d6ff 20.5px,#d2d2ff 38.5px,#d7d7ff 92.5px,#d5d5ff 116.5px,#ceceff 137.5px,#aeaeff 210.5px,#a8a8ff 232.5px,#a5a5ff 253.5px,#a7a7ff 276.5px,#b1b1ff 339.5px,#ababff 399.5px,#a9a9ff 476.5px,#adadff 489.5px,#b3b3ff 501.5px,#cfcfff 531.5px)"></div><div style="background:linear-gradient(90deg,#e0e0ff 0.5px,#d6d6ff 20.5px,#d2d2ff 38.5px,#d8d8ff 91.5px,#d5d5ff 115.5px,#cfcfff 135.5px,#b0b0ff 206.5px,#a9a9ff 230.5px,#a7a7ff 251.5px,#a8a8ff 275.5px,#b3b3ff 338.5px,#acacff 399.5px,#aaaaff 475.5px,#adadff 488.5px,#b4b4ff 501.5px,#d0d0ff 531.5px)"></div><div style="background:linear-gradient(90deg,#e0e0ff 0.5px,#d6d6ff 20.5px,#d2d2ff 38.5px,#d8d8ff 91.5px,#d6d6ff 114.5px,#d0d0ff 133.5px,#b2b2ff 202.5px,#ababff 227.5px,#a8a8ff 249.5px,#aaaaff 273.5px,#b5b5ff 337.5px,#adadff 400.5px,#ababff 475.5px,#aeaeff 488.5px,#b5b5ff 501.5px,#d0d0ff 531.5px)"></div><div style="background:linear-gradient(90deg,#e0e0ff 0.5px,#d6d6ff 20.5px,#d2d2ff 37.5px,#d9d9ff 90.5px,#d7d7ff 113.5px,#d1d1ff 132.5px,#b3b3ff 199.5px,#adadff 224.5px,#aaaaff 247.5px,#ababff 272.5px,#b7b7ff 336.5px,#aeaeff 400.5px,#acacff 475.5px,#afafff 488.5px,#b6b6ff 501.5px,#d1d1ff 531.5px)"></div><div style="background:linear-gradient(90deg,#e0e0ff 0.5px,#d6d6ff 20.5px,#d2d2ff 37.5px,#d9d9ff 90.5px,#d8d8ff 112.5px,#d2d2ff 131.5px,#b5b5ff 196.5px,#aeaeff 222.5px,#ababff 245.5px,#adadff 270.5px,#b8b8ff 335.5px,#aeaeff 401.5px,#adadff 475.5px,#b0b0ff 488.5px,#b7b7ff 501.5px,#d1d1ff 531.5px)"></div><div style="background:linear-gradient(90deg,#e0e0ff 0.5px,#d6d6ff 20.5px,#d2d2ff 37.5px,#dadaff 89.5px,#d9d9ff 111.5px,#d2d2ff 130.5px,#b6b6ff 193.5px,#afafff 219.5px,#adadff 243.5px,#aeaeff 269.5px,#babaff 334.5px,#afafff 401.5px,#aeaeff 474.5px,#b1b1ff 488.5px,#b8b8ff 501.5px,#d1d1ff 531.5px)"></div><div style="background:linear-gradient(90deg,#dfdfff 0.5px,#d5d5ff 20.5px,#d2d2ff 37.5px,#dadaff 89.5px,#d9d9ff 110.5px,#d3d3ff 129.5px,#b7b7ff 191.5px,#b0b0ff 217.5px,#aeaeff 241.5px,#afafff 267.5px,#bcbcff 333.5px,#b0b0ff 401.5px,#afafff 474.5px,#b2b2ff 488.5px,#b8b8ff 501.5px,#d2d2ff 531.5px)"></div><div style="background:linear-gradient(90deg,#dfdfff 0.5px,#d5d5ff 20.5px,#d2d2ff 37.5px,#dbdbff 89.5px,#dadaff 110.5px,#d4d4ff 128.5px,#b8b8ff 189.5px,#b2b2ff 214.5px,#afafff 239.5px,#b1b1ff 265.5px,#bbbbff 313.5px,#bdbdff 332.5px,#b0b0ff 401.5px,#b0b0ff 474.5px,#b3b3ff 488.5px,#b9b9ff 501.5px,#d2d2ff 531.5px)"></div><div style="background:linear-gradient(90deg,#dfdfff 0.5px,#d5d5ff 20.5px,#d1d1ff 37.5px,#dbdbff 88.5px,#dadaff 109.5px,#d5d5ff 127.5px,#b9b9ff 188.5px,#b2b2ff 213.5px,#b0b0ff 237.5px,#b2b2ff 264.5px,#bdbdff 312.5px,#bfbfff 331.5px,#bdbdff 349.5px,#b1b1ff 401.5px,#b1b1ff 474.5px,#b4b4ff 488.5px,#babaff 501.5px,#d3d3ff 531.5px)"></div><div style="background:linear-gradient(90deg,#dedeff 0.5px,#d4d4ff 20.5px,#d1d1ff 37.5px,#dbdbff 88.5px,#dbdbff 109.5px,#d5d5ff 127.5px,#b9b9ff 186.5px,#b3b3ff 211.5px,#b1b1ff 235.5px,#b3b3ff 262.5px,#bebeff 311.5px,#c0c0ff 330.5px,#bebeff 348.5px,#b2b2ff 401.5px,#b2b2ff 473.5px,#b5b5ff 488.5px,#bbbbff 501.5px,#d3d3ff 531.5px)"></div><div style="background:linear-gradient(90deg,#dedeff 0.5px,#d4d4ff 20.5px,#d1d1ff 37.5px,#dcdcff 88.5px,#dbdbff 109.5px,#d5d5ff 127.5px,#babaff 185.5px,#b4b4ff 209.5px,#b1b1ff 233.5px,#b4b4ff 261.5px,#bfbfff 309.5px,#c2c2ff 329.5px,#bfbfff 348.5px,#b2b2ff 401.5px,#b3b3ff 473.5px,#b6b6ff 488.5px,#bcbcff 501.5px,#d4d4ff 531.5px)"></div><div style="background:linear-gradient(90deg,#dedeff 0.5px,#d4d4ff 20.5px,#d1d1ff 37.5px,#dcdcff 87.5px,#dcdcff 108.5px,#d6d6ff 126.5px,#babaff 184.5px,#b5b5ff 207.5px,#b2b2ff 231.5px,#b4b4ff 259.5px,#c0c0ff 308.5px,#c3c3ff 328.5px,#c1c1ff 347.5px,#b3b3ff 401.5px,#b4b4ff 472.5px,#bcbcff 500.5px,#d4d4ff 531.5px)"></div><div style="background:linear-gradient(90deg,#ddddff 0.5px,#d4d4ff 19.5px,#d1d1ff 36.5px,#d2d2ff 51.5px,#dcdcff 87.5px,#dcdcff 108.5px,#d6d6ff 126.5px,#bbbbff 183.5px,#b5b5ff 206.5px,#b3b3ff 230.5px,#b5b5ff 258.5px,#c2c2ff 308.5px,#c4c4ff 328.5px,#c2c2ff 347.5px,#b4b4ff 401.5px,#b5b5ff 472.5px,#bdbdff 500.5px,#d5d5ff 531.5px)"></div><div style="background:linear-gradient(90deg,#ddddff 0.5px,#d3d3ff 19.5px,#d0d0ff 36.5px,#d2d2ff 51.5px,#ddddff 87.5px,#ddddff 108.5px,#d7d7ff 126.5px,#bbbbff 182.5px,#b6b6ff 205.5px,#b3b3ff 228.5px,#b6b6ff 256.5px,#c3c3ff 307.5px,#c5c5ff 327.5px,#c3c3ff 346.5px,#b4b4ff 401.5px,#b6b6ff 472.5px,#bebeff 500.5px,#d6d6ff 531.5px)"></div><div style="background:linear-gradient(90deg,#ddddff 0.5px,#d3d3ff 19.5px,#d0d0ff 36.5px,#d2d2ff 51.5px,#ddddff 87.5px,#ddddff 108.5px,#d7d7ff 126.5px,#bcbcff 181.5px,#b6b6ff 204.5px,#b4b4ff 227.5px,#b6b6ff 255.5px,#c4c4ff 306.5px,#c7c7ff 326.5px,#c4c4ff 346.5px,#b5b5ff 401.5px,#b7b7ff 471.5px,#bfbfff 500.5px,#d6d6ff 531.5px)"></div><div style="background:linear-gradient(90deg,#dcdcff 0.5px,#d3d3ff 19.5px,#d0d0ff 36.5px,#d2d2ff 51.5px,#ddddff 87.5px,#ddddff 108.5px,#d7d7ff 126.5px,#bcbcff 181.5px,#b6b6ff 203.5px,#b4b4ff 226.5px,#b7b7ff 255.5px,#c5c5ff 305.5px,#c8c8ff 325.5px,#c5c5ff 345.5px,#b9b9ff 383.5px,#b5b5ff 401.5px,#b8b8ff 471.5px,#c0c0ff 500.5px,#d7d7ff 531.5px)"></div><div style="background:linear-gradient(90deg,#dcdcff 0.5px,#d2d2ff 19.5px,#d0d0ff 36.5px,#d2d2ff 51.5px,#ddddff 86.5px,#dedeff 107.5px,#d8d8ff 125.5px,#bdbdff 180.5px,#b7b7ff 202.5px,#b5b5ff 225.5px,#b8b8ff 254.5px,#c6c6ff 304.5px,#c9c9ff 325.5px,#c6c6ff 345.5px,#b6b6ff 400.5px,#b9b9ff 470.5px,#c1c1ff 500.5px,#d7d7ff 531.5px)"></div><div style="background:linear-gradient(90deg,#dcdcff 0.5px,#d2d2ff 19.5px,#cfcfff 36.5px,#d2d2ff 51.5px,#ddddff 86.5px,#dedeff 107.5px,#d8d8ff 125.5px,#bdbdff 180.5px,#b7b7ff 202.5px,#b5b5ff 224.5px,#b8b8ff 253.5px,#c7c7ff 304.5px,#cacaff 324.5px,#c7c7ff 344.5px,#babaff 382.5px,#b7b7ff 400.5px,#babaff 470.5px,#c2c2ff 500.5px,#d8d8ff 531.5px)"></div><div style="background:linear-gradient(90deg,#dbdbff 0.5px,#d2d2ff 19.5px,#cfcfff 36.5px,#d2d2ff 51.5px,#ddddff 86.5px,#dedeff 107.5px,#d8d8ff 125.5px,#bdbdff 180.5px,#b7b7ff 202.5px,#b6b6ff 224.5px,#b8b8ff 252.5px,#c8c8ff 303.5px,#cbcbff 324.5px,#c8c8ff 344.5px,#bbbbff 382.5px,#b7b7ff 400.5px,#bbbbff 469.5px,#c3c3ff 500.5px,#d8d8ff 531.5px)"></div><div style="background:linear-gradient(90deg,#dbdbff 0.5px,#d1d1ff 19.5px,#cfcfff 36.5px,#d1d1ff 51.5px,#dedeff 86.5px,#dedeff 107.5px,#d8d8ff 125.5px,#bebeff 179.5px,#b8b8ff 201.5px,#b6b6ff 224.5px,#b9b9ff 252.5px,#c8c8ff 302.5px,#ccccff 323.5px,#c9c9ff 344.5px,#bcbcff 382.5px,#b8b8ff 400.5px,#bcbcff 468.5px,#c4c4ff 499.5px,#d9d9ff 531.5px)"></div><div style="background:linear-gradient(90deg,#dbdbff 0.5px,#d1d1ff 19.5px,#cfcfff 36.5px,#d1d1ff 51.5px,#dedeff 86.5px,#dedeff 107.5px,#d9d9ff 125.5px,#bebeff 179.5px,#b8b8ff 201.5px,#b6b6ff 224.5px,#b9b9ff 252.5px,#c9c9ff 302.5px,#ccccff 323.5px,#cacaff 344.5px,#bcbcff 382.5px,#b9b9ff 400.5px,#bdbdff 467.5px,#c5c5ff 499.5px,#dadaff 531.5px)"></div><div style="background:linear-gradient(90deg,#dbdbff 0.5px,#d1d1ff 19.5px,#ceceff 36.5px,#d1d1ff 51.5px,#dedeff 86.5px,#dedeff 107.5px,#d9d9ff 125.5px,#bebeff 179.5px,#b8b8ff 201.5px,#b7b7ff 224.5px,#babaff 252.5px,#cacaff 302.5px,#cdcdff 323.5px,#cbcbff 343.5px,#bdbdff 382.5px,#b9b9ff 400.5px,#bdbdff 466.5px,#c6c6ff 499.5px,#dadaff 531.5px)"></div><div style="background:linear-gradient(90deg,#dadaff 0.5px,#d1d1ff 19.5px,#ceceff 36.5px,#d1d1ff 50.5px,#dedeff 86.5px,#dfdfff 107.5px,#d9d9ff 125.5px,#bebeff 179.5px,#b9b9ff 201.5px,#b7b7ff 224.5px,#babaff 252.5px,#cacaff 301.5px,#ceceff 322.5px,#cbcbff 343.5px,#bebeff 382.5px,#babaff 400.5px,#bebeff 464.5px,#c6c6ff 498.5px,#dbdbff 531.5px)"></div><div style="background:linear-gradient(90deg,#dadaff 0.5px,#d0d0ff 19.5px,#ceceff 36.5px,#d1d1ff 50.5px,#dedeff 86.5px,#dfdfff 107.5px,#d9d9ff 125.5px,#bfbfff 179.5px,#b9b9ff 201.5px,#b7b7ff 224.5px,#babaff 251.5px,#cbcbff 301.5px,#cfcfff 322.5px,#ccccff 343.5px,#bebeff 381.5px,#bbbbff 399.5px,#babaff 420.5px,#bfbfff 462.5px,#c7c7ff 497.5px,#dbdbff 531.5px)"></div><div style="background:linear-gradient(90deg,#dadaff 0.5px,#d0d0ff 19.5px,#ceceff 36.5px,#d1d1ff 50.5px,#dedeff 86.5px,#dfdfff 107.5px,#d9d9ff 124.5px,#bfbfff 179.5px,#babaff 201.5px,#b8b8ff 224.5px,#bbbbff 251.5px,#ccccff 301.5px,#cfcfff 323.5px,#ccccff 344.5px,#bcbcff 394.5px,#bcbcff 434.5px,#c6c6ff 491.5px,#ceceff 509.5px,#dcdcff 531.5px)"></div><div style="background:linear-gradient(90deg,#dadaff 0.5px,#d0d0ff 19.5px,#ceceff 36.5px,#d0d0ff 50.5px,#dedeff 85.5px,#dfdfff 106.5px,#d9d9ff 124.5px,#bfbfff 179.5px,#babaff 202.5px,#b8b8ff 225.5px,#bbbbff 251.5px,#ccccff 301.5px,#d0d0ff 323.5px,#cdcdff 344.5px,#bcbcff 394.5px,#bdbdff 432.5px,#c7c7ff 491.5px,#ceceff 509.5px,#ddddff 531.5px)"></div><div style="background:linear-gradient(90deg,#dadaff 0.5px,#d0d0ff 19.5px,#ceceff 36.5px,#d0d0ff 50.5px,#dedeff 85.5px,#dfdfff 106.5px,#dadaff 124.5px,#c0c0ff 179.5px,#babaff 202.5px,#b8b8ff 225.5px,#bcbcff 251.5px,#cdcdff 301.5px,#d0d0ff 323.5px,#cdcdff 344.5px,#bdbdff 393.5px,#bdbdff 430.5px,#c7c7ff 490.5px,#cfcfff 509.5px,#ddddff 531.5px)"></div><div style="background:linear-gradient(90deg,#dadaff 0.5px,#d0d0ff 19.5px,#ceceff 36.5px,#d0d0ff 50.5px,#ddddff 85.5px,#dfdfff 106.5px,#dadaff 124.5px,#c0c0ff 179.5px,#bbbbff 203.5px,#b9b9ff 226.5px,#bcbcff 252.5px,#cdcdff 301.5px,#d1d1ff 322.5px,#ceceff 343.5px,#bebeff 393.5px,#bebeff 429.5px,#c8c8ff 490.5px,#d0d0ff 509.5px,#dedeff 531.5px)"></div><div style="background:linear-gradient(90deg,#dadaff 0.5px,#d0d0ff 19.5px,#ceceff 36.5px,#d0d0ff 50.5px,#ddddff 85.5px,#dfdfff 106.5px,#dadaff 124.5px,#c1c1ff 179.5px,#bbbbff 203.5px,#b9b9ff 226.5px,#bcbcff 252.5px,#cdcdff 301.5px,#d1d1ff 322.5px,#cfcfff 343.5px,#bfbfff 393.5px,#bfbfff 428.5px,#c9c9ff 490.5px,#d1d1ff 509.5px,#dfdfff 531.5px)"></div><div style="background:linear-gradient(90deg,#dadaff 0.5px,#d0d0ff 19.5px,#ceceff 36.5px,#d0d0ff 50.5px,#ddddff 85.5px,#dfdfff 106.5px,#dadaff 124.5px,#c1c1ff 179.5px,#bbbbff 204.5px,#babaff 227.5px,#bdbdff 253.5px,#ceceff 301.5px,#d1d1ff 322.5px,#cfcfff 343.5px,#bfbfff 393.5px,#bfbfff 428.5px,#cacaff 490.5px,#d2d2ff 509.5px,#dfdfff 531.5px)"></div><div style="background:linear-gradient(90deg,#dadaff 0.5px,#d0d0ff 19.5px,#ceceff 36.5px,#d0d0ff 50.5px,#ddddff 85.5px,#dfdfff 106.5px,#dadaff 124.5px,#c2c2ff 179.5px,#bcbcff 204.5px,#babaff 228.5px,#bdbdff 253.5px,#ceceff 301.5px,#d2d2ff 322.5px,#cfcfff 343.5px,#c0c0ff 393.5px,#c0c0ff 428.5px,#cbcbff 490.5px,#d3d3ff 509.5px,#e0e0ff 531.5px)"></div><div style="background:linear-gradient(90deg,#dadaff 0.5px,#d0d0ff 19.5px,#ceceff 36.5px,#d0d0ff 50.5px,#ddddff 86.5px,#dedeff 107.5px,#dadaff 124.5px,#c2c2ff 179.5px,#bcbcff 205.5px,#babaff 229.5px,#bebeff 254.5px,#ceceff 301.5px,#d2d2ff 322.5px,#d0d0ff 343.5px,#c1c1ff 393.5px,#c1c1ff 428.5px,#ccccff 490.5px,#d4d4ff 509.5px,#e0e0ff 531.5px)"></div><div style="background:linear-gradient(90deg,#dadaff 0.5px,#d0d0ff 19.5px,#ceceff 36.5px,#d0d0ff 50.5px,#ddddff 86.5px,#dedeff 107.5px,#dadaff 124.5px,#c3c3ff 179.5px,#bdbdff 206.5px,#bbbbff 230.5px,#bebeff 254.5px,#cfcfff 301.5px,#d2d2ff 323.5px,#d0d0ff 344.5px,#c1c1ff 393.5px,#c1c1ff 428.5px,#cdcdff 490.5px,#d4d4ff 509.5px,#e1e1ff 531.5px)"></div><div style="background:linear-gradient(90deg,#dbdbff 0.5px,#d1d1ff 19.5px,#ceceff 36.5px,#d1d1ff 51.5px,#ddddff 86.5px,#dedeff 107.5px,#dadaff 123.5px,#c3c3ff 180.5px,#bdbdff 208.5px,#bbbbff 231.5px,#bebeff 254.5px,#cfcfff 301.5px,#d3d3ff 323.5px,#d0d0ff 344.5px,#c2c2ff 393.5px,#c2c2ff 428.5px,#ceceff 490.5px,#d5d5ff 509.5px,#e1e1ff 531.5px)"></div><div style="background:linear-gradient(90deg,#dbdbff 0.5px,#d1d1ff 19.5px,#ceceff 36.5px,#d1d1ff 51.5px,#ddddff 86.5px,#dedeff 107.5px,#dadaff 123.5px,#c4c4ff 180.5px,#bebeff 209.5px,#bcbcff 232.5px,#bfbfff 255.5px,#cfcfff 301.5px,#d3d3ff 323.5px,#d1d1ff 344.5px,#c3c3ff 393.5px,#c3c3ff 428.5px,#cfcfff 490.5px,#d6d6ff 509.5px,#e2e2ff 531.5px)"></div><div style="background:linear-gradient(90deg,#dbdbff 0.5px,#d1d1ff 19.5px,#ceceff 36.5px,#d1d1ff 51.5px,#ddddff 86.5px,#dedeff 107.5px,#dadaff 123.5px,#c4c4ff 180.5px,#bebeff 210.5px,#bcbcff 233.5px,#c0c0ff 256.5px,#cfcfff 302.5px,#d3d3ff 323.5px,#d1d1ff 344.5px,#c3c3ff 393.5px,#c4c4ff 428.5px,#cfcfff 489.5px,#d6d6ff 508.5px,#e3e3ff 531.5px)"></div><div style="background:linear-gradient(90deg,#dcdcff 0.5px,#d2d2ff 19.5px,#cfcfff 36.5px,#d1d1ff 51.5px,#ddddff 86.5px,#dedeff 107.5px,#c5c5ff 180.5px,#bfbfff 211.5px,#bdbdff 234.5px,#c0c0ff 256.5px,#d0d0ff 302.5px,#d3d3ff 323.5px,#d1d1ff 344.5px,#c4c4ff 393.5px,#c4c4ff 428.5px,#d0d0ff 489.5px,#e3e3ff 531.5px)"></div><div style="background:linear-gradient(90deg,#dcdcff 0.5px,#d2d2ff 19.5px,#cfcfff 36.5px,#d1d1ff 51.5px,#ddddff 86.5px,#dedeff 107.5px,#c6c6ff 180.5px,#bfbfff 212.5px,#bdbdff 235.5px,#c0c0ff 257.5px,#d0d0ff 302.5px,#d3d3ff 323.5px,#d1d1ff 344.5px,#c5c5ff 394.5px,#c5c5ff 428.5px,#d1d1ff 489.5px,#e4e4ff 531.5px)"></div><div style="background:linear-gradient(90deg,#dcdcff 0.5px,#d3d3ff 19.5px,#cfcfff 36.5px,#d2d2ff 51.5px,#ddddff 87.5px,#ddddff 108.5px,#c7c7ff 180.5px,#c0c0ff 214.5px,#bebeff 236.5px,#c1c1ff 258.5px,#d0d0ff 302.5px,#d3d3ff 323.5px,#d2d2ff 344.5px,#c5c5ff 394.5px,#c6c6ff 429.5px,#d2d2ff 489.5px,#e4e4ff 531.5px)"></div><div style="background:linear-gradient(90deg,#ddddff 0.5px,#d3d3ff 20.5px,#d0d0ff 37.5px,#d2d2ff 52.5px,#ddddff 87.5px,#ddddff 108.5px,#c7c7ff 180.5px,#c0c0ff 215.5px,#bfbfff 237.5px,#c1c1ff 258.5px,#d0d0ff 302.5px,#d4d4ff 323.5px,#d2d2ff 344.5px,#c6c6ff 394.5px,#c7c7ff 429.5px,#d2d2ff 489.5px,#e5e5ff 531.5px)"></div><div style="background:linear-gradient(90deg,#ddddff 0.5px,#d3d3ff 20.5px,#d0d0ff 37.5px,#d2d2ff 52.5px,#dcdcff 87.5px,#ddddff 108.5px,#c8c8ff 180.5px,#c1c1ff 216.5px,#bfbfff 238.5px,#c2c2ff 259.5px,#d0d0ff 302.5px,#d4d4ff 323.5px,#d2d2ff 344.5px,#c7c7ff 394.5px,#c7c7ff 429.5px,#d3d3ff 488.5px,#e5e5ff 531.5px)"></div><div style="background:linear-gradient(90deg,#dedeff 0.5px,#d4d4ff 20.5px,#d1d1ff 37.5px,#d2d2ff 52.5px,#dcdcff 88.5px,#ddddff 109.5px,#c9c9ff 180.5px,#c1c1ff 218.5px,#c0c0ff 239.5px,#c2c2ff 259.5px,#d0d0ff 303.5px,#d4d4ff 324.5px,#d2d2ff 344.5px,#c7c7ff 394.5px,#c8c8ff 430.5px,#d4d4ff 488.5px,#e6e6ff 531.5px)"></div><div style="background:linear-gradient(90deg,#dfdfff 0.5px,#d4d4ff 20.5px,#d1d1ff 37.5px,#d3d3ff 52.5px,#dcdcff 88.5px,#ddddff 109.5px,#c9c9ff 181.5px,#c0c0ff 240.5px,#c3c3ff 260.5px,#d0d0ff 303.5px,#d4d4ff 324.5px,#d2d2ff 344.5px,#c8c8ff 394.5px,#c9c9ff 430.5px,#d4d4ff 488.5px,#e7e7ff 531.5px)"></div><div style="background:linear-gradient(90deg,#dfdfff 0.5px,#d5d5ff 20.5px,#d1d1ff 38.5px,#dcdcff 89.5px,#dcdcff 110.5px,#cacaff 181.5px,#c2c2ff 220.5px,#c1c1ff 241.5px,#c3c3ff 261.5px,#d1d1ff 303.5px,#d4d4ff 324.5px,#d3d3ff 344.5px,#c8c8ff 395.5px,#c9c9ff 431.5px,#d5d5ff 487.5px,#e7e7ff 531.5px)"></div><div style="background:linear-gradient(90deg,#e0e0ff 0.5px,#d6d6ff 20.5px,#d2d2ff 38.5px,#dcdcff 89.5px,#dcdcff 111.5px,#c5c5ff 209.5px,#c1c1ff 242.5px,#c4c4ff 261.5px,#d1d1ff 303.5px,#d4d4ff 324.5px,#d3d3ff 344.5px,#c9c9ff 395.5px,#cacaff 431.5px,#d5d5ff 487.5px,#e8e8ff 531.5px)"></div><div style="background:linear-gradient(90deg,#e0e0ff 0.5px,#d7d7ff 18.5px,#d3d3ff 34.5px,#d3d3ff 52.5px,#dcdcff 90.5px,#dcdcff 107.5px,#c4c4ff 216.5px,#c2c2ff 243.5px,#c4c4ff 262.5px,#d1d1ff 303.5px,#d4d4ff 324.5px,#d3d3ff 344.5px,#c9c9ff 395.5px,#cbcbff 432.5px,#d6d6ff 486.5px,#e8e8ff 531.5px)"></div><div style="background:linear-gradient(90deg,#e1e1ff 0.5px,#d8d8ff 18.5px,#d3d3ff 34.5px,#d3d3ff 49.5px,#dbdbff 87.5px,#dcdcff 108.5px,#c5c5ff 219.5px,#c2c2ff 243.5px,#c4c4ff 262.5px,#d1d1ff 304.5px,#d4d4ff 324.5px,#d3d3ff 344.5px,#cacaff 395.5px,#cbcbff 432.5px,#d6d6ff 486.5px,#e9e9ff 531.5px)"></div><div style="background:linear-gradient(90deg,#e2e2ff 0.5px,#d8d8ff 19.5px,#d4d4ff 35.5px,#d4d4ff 53.5px,#dbdbff 91.5px,#dbdbff 109.5px,#c5c5ff 222.5px,#c3c3ff 244.5px,#c5c5ff 263.5px,#d1d1ff 304.5px,#d4d4ff 324.5px,#d3d3ff 344.5px,#cacaff 395.5px,#ccccff 432.5px,#d7d7ff 485.5px,#e9e9ff 531.5px)"></div><div style="background:linear-gradient(90deg,#e2e2ff 0.5px,#d8d8ff 20.5px,#d4d4ff 36.5px,#dbdbff 109.5px,#c5c5ff 224.5px,#c3c3ff 245.5px,#c5c5ff 263.5px,#d1d1ff 304.5px,#d4d4ff 324.5px,#d3d3ff 344.5px,#cbcbff 395.5px,#ccccff 433.5px,#d7d7ff 485.5px,#eaeaff 531.5px)"></div><div style="background:linear-gradient(90deg,#e3e3ff 0.5px,#d9d9ff 20.5px,#d5d5ff 37.5px,#dbdbff 110.5px,#c4c4ff 245.5px,#c6c6ff 263.5px,#d1d1ff 304.5px,#d4d4ff 324.5px,#cbcbff 395.5px,#cdcdff 433.5px,#d8d8ff 484.5px,#eaeaff 531.5px)"></div><div style="background:linear-gradient(90deg,#e4e4ff 0.5px,#d9d9ff 21.5px,#d5d5ff 38.5px,#dbdbff 111.5px,#c4c4ff 246.5px,#c6c6ff 264.5px,#d2d2ff 304.5px,#d4d4ff 324.5px,#ccccff 395.5px,#cdcdff 434.5px,#d8d8ff 484.5px,#ebebff 531.5px)"></div><div style="background:linear-gradient(90deg,#e5e5ff 0.5px,#dadaff 21.5px,#d5d5ff 39.5px,#dadaff 112.5px,#c5c5ff 246.5px,#c7c7ff 264.5px,#d1d1ff 303.5px,#d4d4ff 323.5px,#ccccff 395.5px,#ceceff 434.5px,#d8d8ff 483.5px,#ebebff 531.5px)"></div><div style="background:linear-gradient(90deg,#e5e5ff 0.5px,#dadaff 22.5px,#d6d6ff 40.5px,#dadaff 113.5px,#c5c5ff 247.5px,#d5d5ff 323.5px,#ccccff 395.5px,#ceceff 434.5px,#d9d9ff 482.5px,#ececff 531.5px)"></div><div style="background:linear-gradient(90deg,#e6e6ff 0.5px,#dbdbff 23.5px,#d6d6ff 41.5px,#dadaff 115.5px,#c5c5ff 247.5px,#d5d5ff 323.5px,#cdcdff 394.5px,#cfcfff 434.5px,#d9d9ff 481.5px,#ececff 531.5px)"></div><div style="background:linear-gradient(90deg,#e7e7ff 0.5px,#dcdcff 23.5px,#d7d7ff 42.5px,#d9d9ff 117.5px,#d2d2ff 180.5px,#c6c6ff 247.5px,#d5d5ff 323.5px,#cdcdff 394.5px,#cfcfff 434.5px,#d9d9ff 480.5px,#ededff 531.5px)"></div><div style="background:linear-gradient(90deg,#e7e7ff 0.5px,#dcdcff 24.5px,#d7d7ff 43.5px,#d9d9ff 120.5px,#d2d2ff 180.5px,#c8c8ff 229.5px,#c6c6ff 248.5px,#d5d5ff 322.5px,#cdcdff 394.5px,#cfcfff 434.5px,#d9d9ff 479.5px,#ededff 531.5px)"></div><div style="background:linear-gradient(90deg,#e8e8ff 0.5px,#dcdcff 25.5px,#d7d7ff 44.5px,#d8d8ff 123.5px,#d3d3ff 180.5px,#c9c9ff 229.5px,#c7c7ff 248.5px,#d5d5ff 322.5px,#cdcdff 393.5px,#cfcfff 434.5px,#d9d9ff 478.5px,#eeeeff 531.5px)"></div><div style="background:linear-gradient(90deg,#e9e9ff 0.5px,#ddddff 26.5px,#d8d8ff 46.5px,#d9d9ff 108.5px,#d6d6ff 158.5px,#c7c7ff 248.5px,#d5d5ff 321.5px,#ceceff 393.5px,#d0d0ff 434.5px,#d9d9ff 478.5px,#eeeeff 531.5px)"></div><div style="background:linear-gradient(90deg,#e9e9ff 0.5px,#ddddff 26.5px,#d8d8ff 47.5px,#d9d9ff 110.5px,#d5d5ff 164.5px,#c8c8ff 248.5px,#d5d5ff 321.5px,#ceceff 392.5px,#d0d0ff 434.5px,#d9d9ff 477.5px,#eeeeff 531.5px)"></div><div style="background:linear-gradient(90deg,#eaeaff 0.5px,#ddddff 28.5px,#d8d8ff 49.5px,#d8d8ff 111.5px,#d5d5ff 167.5px,#c8c8ff 248.5px,#d5d5ff 320.5px,#ceceff 392.5px,#d0d0ff 434.5px,#d9d9ff 476.5px,#efefff 531.5px)"></div><div style="background:linear-gradient(90deg,#ebebff 0.5px,#dedeff 28.5px,#d8d8ff 50.5px,#d6d6ff 168.5px,#c9c9ff 247.5px,#d6d6ff 320.5px,#ceceff 391.5px,#d0d0ff 434.5px,#d9d9ff 475.5px,#efefff 531.5px)"></div><div style="background:linear-gradient(90deg,#ebebff 0.5px,#dedeff 30.5px,#d8d8ff 52.5px,#d6d6ff 170.5px,#c9c9ff 247.5px,#d6d6ff 319.5px,#ceceff 391.5px,#d0d0ff 434.5px,#dadaff 475.5px,#f0f0ff 531.5px)"></div><div style="background:linear-gradient(90deg,#ececff 0.5px,#dedeff 31.5px,#d8d8ff 54.5px,#d6d6ff 170.5px,#c9c9ff 247.5px,#d6d6ff 319.5px,#ceceff 390.5px,#d0d0ff 433.5px,#dadaff 474.5px,#f0f0ff 531.5px)"></div><div style="background:linear-gradient(90deg,#ededff 0.5px,#dedeff 32.5px,#d9d9ff 55.5px,#d6d6ff 171.5px,#cacaff 246.5px,#d6d6ff 318.5px,#ceceff 389.5px,#d0d0ff 433.5px,#d9d9ff 473.5px,#f1f1ff 531.5px)"></div><div style="background:linear-gradient(90deg,#ededff 0.5px,#dfdfff 33.5px,#d9d9ff 57.5px,#d6d6ff 172.5px,#cacaff 246.5px,#d7d7ff 318.5px,#ceceff 388.5px,#d0d0ff 433.5px,#d9d9ff 472.5px,#f1f1ff 531.5px)"></div><div style="background:linear-gradient(90deg,#eeeeff 0.5px,#dfdfff 35.5px,#d9d9ff 59.5px,#d6d6ff 172.5px,#cbcbff 245.5px,#d7d7ff 317.5px,#ceceff 388.5px,#d0d0ff 432.5px,#d9d9ff 471.5px,#f1f1ff 531.5px)"></div><div style="background:linear-gradient(90deg,#eeeeff 0.5px,#dfdfff 36.5px,#d9d9ff 61.5px,#d7d7ff 173.5px,#cbcbff 245.5px,#d7d7ff 317.5px,#ceceff 387.5px,#d0d0ff 432.5px,#d9d9ff 471.5px,#f2f2ff 531.5px)"></div><div style="background:linear-gradient(90deg,#efefff 0.5px,#dfdfff 37.5px,#d9d9ff 62.5px,#d7d7ff 173.5px,#ccccff 244.5px,#d8d8ff 316.5px,#ceceff 387.5px,#d0d0ff 432.5px,#d9d9ff 470.5px,#f2f2ff 531.5px)"></div><div style="background:linear-gradient(90deg,#f0f0ff 0.5px,#dfdfff 38.5px,#d9d9ff 64.5px,#d7d7ff 173.5px,#ccccff 243.5px,#d8d8ff 316.5px,#ceceff 386.5px,#d0d0ff 432.5px,#d9d9ff 470.5px,#f2f2ff 531.5px)"></div><div style="background:linear-gradient(90deg,#f0f0ff 0.5px,#dfdfff 40.5px,#d8d8ff 66.5px,#d7d7ff 173.5px,#cdcdff 243.5px,#d9d9ff 316.5px,#ceceff 386.5px,#d0d0ff 431.5px,#d9d9ff 469.5px,#f3f3ff 531.5px)"></div><div style="background:linear-gradient(90deg,#f1f1ff 0.5px,#dedeff 45.5px,#d7d7ff 77.5px,#d7d7ff 173.5px,#cdcdff 242.5px,#d9d9ff 319.5px,#d0d0ff 376.5px,#ceceff 401.5px,#d0d0ff 432.5px,#d6d6ff 459.5px,#f3f3ff 531.5px)"></div><div style="background:linear-gradient(90deg,#f1f1ff 0.5px,#dedeff 46.5px,#d7d7ff 79.5px,#d7d7ff 173.5px,#ceceff 242.5px,#d8d8ff 300.5px,#dadaff 319.5px,#d0d0ff 376.5px,#ceceff 401.5px,#d0d0ff 431.5px,#d6d6ff 458.5px,#f3f3ff 531.5px)"></div><div style="background:linear-gradient(90deg,#f2f2ff 0.5px,#dedeff 48.5px,#d7d7ff 81.5px,#d7d7ff 173.5px,#ceceff 241.5px,#dadaff 318.5px,#d0d0ff 376.5px,#ceceff 401.5px,#d0d0ff 431.5px,#d6d6ff 458.5px,#f4f4ff 531.5px)"></div><div style="background:linear-gradient(90deg,#f2f2ff 0.5px,#dedeff 49.5px,#d7d7ff 83.5px,#d7d7ff 174.5px,#cfcfff 241.5px,#dbdbff 317.5px,#d0d0ff 376.5px,#ceceff 402.5px,#d0d0ff 432.5px,#d6d6ff 458.5px,#f4f4ff 531.5px)"></div><div style="background:linear-gradient(90deg,#f2f2ff 0.5px,#ddddff 51.5px,#d7d7ff 85.5px,#d7d7ff 174.5px,#cfcfff 240.5px,#dadaff 299.5px,#dbdbff 317.5px,#d0d0ff 376.5px,#ceceff 402.5px,#d0d0ff 432.5px,#d6d6ff 458.5px,#f4f4ff 531.5px)"></div><div style="background:linear-gradient(90deg,#f3f3ff 0.5px,#ddddff 52.5px,#d7d7ff 86.5px,#d8d8ff 174.5px,#d0d0ff 240.5px,#dcdcff 316.5px,#d0d0ff 376.5px,#ceceff 403.5px,#d0d0ff 433.5px,#d6d6ff 458.5px,#f4f4ff 531.5px)"></div><div style="background:linear-gradient(90deg,#f3f3ff 0.5px,#ddddff 53.5px,#d6d6ff 88.5px,#d8d8ff 174.5px,#d1d1ff 239.5px,#ddddff 315.5px,#d1d1ff 376.5px,#ceceff 403.5px,#d0d0ff 433.5px,#d6d6ff 458.5px,#f5f5ff 531.5px)"></div><div style="background:linear-gradient(90deg,#f3f3ff 0.5px,#ddddff 54.5px,#d6d6ff 89.5px,#d8d8ff 174.5px,#d1d1ff 239.5px,#ddddff 315.5px,#d1d1ff 377.5px,#cfcfff 404.5px,#d1d1ff 433.5px,#d6d6ff 458.5px,#f5f5ff 531.5px)"></div><div style="background:linear-gradient(90deg,#f4f4ff 0.5px,#ddddff 55.5px,#d6d6ff 90.5px,#d8d8ff 175.5px,#d2d2ff 238.5px,#dedeff 314.5px,#dcdcff 333.5px,#d1d1ff 377.5px,#cfcfff 405.5px,#d1d1ff 434.5px,#d6d6ff 458.5px,#f5f5ff 531.5px)"></div><div style="background:linear-gradient(90deg,#f4f4ff 0.5px,#ddddff 56.5px,#d6d6ff 92.5px,#d8d8ff 175.5px,#d3d3ff 238.5px,#dfdfff 314.5px,#dcdcff 333.5px,#d1d1ff 377.5px,#cfcfff 406.5px,#d1d1ff 435.5px,#d6d6ff 459.5px,#f5f5ff 531.5px)"></div><div style="background:linear-gradient(90deg,#f4f4ff 0.5px,#ddddff 57.5px,#d6d6ff 93.5px,#d8d8ff 175.5px,#d4d4ff 238.5px,#dfdfff 313.5px,#ddddff 332.5px,#d1d1ff 378.5px,#cfcfff 407.5px,#d1d1ff 435.5px,#d6d6ff 459.5px,#f5f5ff 531.5px)"></div><div style="background:linear-gradient(90deg,#f5f5ff 0.5px,#ddddff 58.5px,#d6d6ff 94.5px,#d5d5ff 121.5px,#d9d9ff 176.5px,#d4d4ff 237.5px,#e0e0ff 313.5px,#ddddff 333.5px,#d2d2ff 378.5px,#d0d0ff 408.5px,#d1d1ff 435.5px,#d7d7ff 459.5px,#f6f6ff 531.5px)"></div><div style="background:linear-gradient(90deg,#f5f5ff 0.5px,#ddddff 59.5px,#d6d6ff 95.5px,#d5d5ff 122.5px,#d9d9ff 176.5px,#d5d5ff 237.5px,#e1e1ff 312.5px,#dedeff 332.5px,#d2d2ff 379.5px,#d0d0ff 409.5px,#d2d2ff 436.5px,#d7d7ff 459.5px,#f6f6ff 531.5px)"></div><div style="background:linear-gradient(90deg,#f5f5ff 0.5px,#ddddff 60.5px,#d5d5ff 96.5px,#d5d5ff 123.5px,#d9d9ff 177.5px,#d6d6ff 237.5px,#e1e1ff 312.5px,#dfdfff 332.5px,#d3d3ff 379.5px,#d0d0ff 410.5px,#d2d2ff 436.5px,#d7d7ff 459.5px,#f6f6ff 531.5px)"></div><div style="background:linear-gradient(90deg,#f5f5ff 0.5px,#ddddff 61.5px,#d5d5ff 97.5px,#d5d5ff 124.5px,#d9d9ff 177.5px,#d7d7ff 237.5px,#e2e2ff 311.5px,#e0e0ff 332.5px,#d3d3ff 380.5px,#d0d0ff 411.5px,#d2d2ff 437.5px,#d7d7ff 460.5px,#f6f6ff 531.5px)"></div><div style="background:linear-gradient(90deg,#f5f5ff 0.5px,#dcdcff 62.5px,#d5d5ff 97.5px,#d5d5ff 124.5px,#dadaff 178.5px,#d8d8ff 237.5px,#e3e3ff 311.5px,#e0e0ff 332.5px,#d3d3ff 381.5px,#d1d1ff 412.5px,#d3d3ff 438.5px,#d8d8ff 460.5px,#f6f6ff 531.5px)"></div><div style="background:linear-gradient(90deg,#f5f5ff 0.5px,#dcdcff 62.5px,#d5d5ff 98.5px,#d5d5ff 125.5px,#dadaff 179.5px,#d9d9ff 237.5px,#e4e4ff 310.5px,#e1e1ff 332.5px,#d4d4ff 381.5px,#d1d1ff 413.5px,#d3d3ff 438.5px,#d8d8ff 460.5px,#f6f6ff 531.5px)"></div><div style="background:linear-gradient(90deg,#f6f6ff 0.5px,#dcdcff 63.5px,#d5d5ff 98.5px,#d5d5ff 126.5px,#dbdbff 180.5px,#dadaff 237.5px,#e4e4ff 310.5px,#e2e2ff 332.5px,#d4d4ff 382.5px,#d2d2ff 414.5px,#d3d3ff 439.5px,#d8d8ff 461.5px,#f6f6ff 531.5px)"></div><div style="background:linear-gradient(90deg,#f6f6ff 0.5px,#dcdcff 64.5px,#d5d5ff 99.5px,#d5d5ff 126.5px,#dbdbff 181.5px,#dbdbff 238.5px,#e5e5ff 310.5px,#e3e3ff 332.5px,#d5d5ff 382.5px,#d2d2ff 415.5px,#d4d4ff 439.5px,#d9d9ff 461.5px,#f7f7ff 531.5px)"></div><div style="background:linear-gradient(90deg,#f6f6ff 0.5px,#dcdcff 64.5px,#d4d4ff 99.5px,#d5d5ff 127.5px,#dcdcff 182.5px,#dcdcff 238.5px,#e6e6ff 309.5px,#e3e3ff 332.5px,#d5d5ff 383.5px,#d3d3ff 416.5px,#d4d4ff 440.5px,#d9d9ff 461.5px,#f7f7ff 531.5px)"></div><div style="background:linear-gradient(90deg,#f6f6ff 0.5px,#dbdbff 65.5px,#d4d4ff 100.5px,#d4d4ff 128.5px,#dcdcff 182.5px,#ddddff 239.5px,#e7e7ff 309.5px,#e4e4ff 332.5px,#d6d6ff 384.5px,#d3d3ff 417.5px,#d5d5ff 441.5px,#dadaff 462.5px,#f7f7ff 531.5px)"></div><div style="background:linear-gradient(90deg,#f6f6ff 0.5px,#dbdbff 66.5px,#d4d4ff 100.5px,#d4d4ff 128.5px,#ddddff 183.5px,#dedeff 240.5px,#e8e8ff 308.5px,#e5e5ff 332.5px,#d6d6ff 385.5px,#d4d4ff 418.5px,#d5d5ff 441.5px,#dadaff 462.5px,#f7f7ff 531.5px)"></div><div style="background:linear-gradient(90deg,#f6f6ff 0.5px,#dadaff 70.5px,#d5d5ff 91.5px,#d3d3ff 112.5px,#ddddff 180.5px,#dfdfff 239.5px,#e8e8ff 307.5px,#e6e6ff 331.5px,#d6d6ff 390.5px,#d5d5ff 434.5px,#dcdcff 468.5px,#f7f7ff 531.5px)"></div><div style="background:linear-gradient(90deg,#f6f6ff 0.5px,#d9d9ff 71.5px,#d5d5ff 91.5px,#d3d3ff 112.5px,#dedeff 182.5px,#e0e0ff 239.5px,#e9e9ff 307.5px,#e6e6ff 332.5px,#d7d7ff 390.5px,#d5d5ff 434.5px,#ddddff 468.5px,#f7f7ff 531.5px)"></div><div style="background:linear-gradient(90deg,#f6f6ff 0.5px,#d9d9ff 71.5px,#d3d3ff 111.5px,#d5d5ff 133.5px,#dedeff 184.5px,#e1e1ff 240.5px,#eaeaff 306.5px,#e7e7ff 331.5px,#d8d8ff 391.5px,#d6d6ff 435.5px,#ddddff 468.5px,#f7f7ff 531.5px)"></div><div style="background:linear-gradient(90deg,#f6f6ff 0.5px,#d9d9ff 71.5px,#d4d4ff 91.5px,#d3d3ff 111.5px,#d5d5ff 134.5px,#dfdfff 186.5px,#e2e2ff 240.5px,#eaeaff 306.5px,#e8e8ff 332.5px,#d8d8ff 392.5px,#d7d7ff 436.5px,#dedeff 469.5px,#f7f7ff 531.5px)"></div><div style="background:linear-gradient(90deg,#f6f6ff 0.5px,#d9d9ff 71.5px,#d2d2ff 110.5px,#d5d5ff 133.5px,#e0e0ff 188.5px,#ebebff 305.5px,#e9e9ff 331.5px,#d9d9ff 393.5px,#d7d7ff 437.5px,#dedeff 470.5px,#f7f7ff 531.5px)"></div><div style="background:linear-gradient(90deg,#f5f5ff 0.5px,#d9d9ff 71.5px,#d4d4ff 91.5px,#d2d2ff 110.5px,#d5d5ff 134.5px,#e1e1ff 189.5px,#ececff 305.5px,#e9e9ff 332.5px,#d9d9ff 394.5px,#d8d8ff 437.5px,#dfdfff 470.5px,#f7f7ff 531.5px)"></div><div style="background:linear-gradient(90deg,#f5f5ff 0.5px,#d8d8ff 72.5px,#d2d2ff 110.5px,#d5d5ff 134.5px,#e2e2ff 191.5px,#ededff 304.5px,#eaeaff 332.5px,#dadaff 395.5px,#d9d9ff 438.5px,#dfdfff 470.5px,#f7f7ff 531.5px)"></div><div style="background:linear-gradient(90deg,#f5f5ff 0.5px,#d8d8ff 72.5px,#d2d2ff 109.5px,#d4d4ff 134.5px,#e3e3ff 193.5px,#ededff 303.5px,#ebebff 332.5px,#dbdbff 396.5px,#d9d9ff 439.5px,#e0e0ff 471.5px,#f7f7ff 531.5px)"></div><div style="background:linear-gradient(90deg,#f5f5ff 0.5px,#d8d8ff 72.5px,#d1d1ff 109.5px,#d4d4ff 134.5px,#e4e4ff 194.5px,#eeeeff 302.5px,#ebebff 332.5px,#dbdbff 397.5px,#dadaff 440.5px,#e1e1ff 472.5px,#f7f7ff 531.5px)"></div><div style="background:linear-gradient(90deg,#f5f5ff 0.5px,#d7d7ff 72.5px,#d1d1ff 108.5px,#d4d4ff 133.5px,#e5e5ff 196.5px,#efefff 301.5px,#ececff 331.5px,#dcdcff 398.5px,#dbdbff 441.5px,#e1e1ff 472.5px,#f7f7ff 531.5px)"></div><div style="background:linear-gradient(90deg,#f5f5ff 0.5px,#d7d7ff 72.5px,#d1d1ff 108.5px,#d4d4ff 133.5px,#e6e6ff 197.5px,#efefff 300.5px,#ededff 332.5px,#ddddff 398.5px,#dcdcff 441.5px,#e2e2ff 473.5px,#f7f7ff 531.5px)"></div><div style="background:linear-gradient(90deg,#f5f5ff 0.5px,#d7d7ff 72.5px,#d1d1ff 108.5px,#d4d4ff 134.5px,#e7e7ff 198.5px,#f0f0ff 299.5px,#eeeeff 331.5px,#dedeff 399.5px,#dcdcff 442.5px,#e2e2ff 473.5px,#f7f7ff 531.5px)"></div><div style="background:linear-gradient(90deg,#f4f4ff 0.5px,#d6d6ff 72.5px,#d1d1ff 107.5px,#d4d4ff 133.5px,#e8e8ff 199.5px,#f0f0ff 298.5px,#eeeeff 331.5px,#dedeff 400.5px,#ddddff 443.5px,#e3e3ff 474.5px,#f7f7ff 531.5px)"></div><div style="background:linear-gradient(90deg,#f4f4ff 0.5px,#d6d6ff 72.5px,#d0d0ff 107.5px,#d4d4ff 133.5px,#e9e9ff 200.5px,#f1f1ff 296.5px,#efefff 331.5px,#dfdfff 401.5px,#dedeff 444.5px,#e4e4ff 475.5px,#f7f7ff 531.5px)"></div><div style="background:linear-gradient(90deg,#f4f4ff 0.5px,#d6d6ff 72.5px,#d0d0ff 106.5px,#d3d3ff 130.5px,#e6e6ff 185.5px,#ececff 219.5px,#f1f1ff 316.5px,#eeeeff 339.5px,#e1e1ff 394.5px,#dedeff 434.5px,#e4e4ff 472.5px,#f8f8ff 531.5px)"></div><div style="background:linear-gradient(90deg,#f4f4ff 0.5px,#d6d6ff 72.5px,#d0d0ff 106.5px,#d3d3ff 130.5px,#e7e7ff 186.5px,#ededff 220.5px,#f2f2ff 317.5px,#e1e1ff 395.5px,#dfdfff 434.5px,#e4e4ff 472.5px,#f8f8ff 531.5px)"></div><div style="background:linear-gradient(90deg,#f3f3ff 0.5px,#d6d6ff 72.5px,#d0d0ff 106.5px,#d3d3ff 130.5px,#e8e8ff 186.5px,#eeeeff 220.5px,#f3f3ff 317.5px,#e2e2ff 395.5px,#e0e0ff 434.5px,#e5e5ff 473.5px,#f8f8ff 531.5px)"></div><div style="background:linear-gradient(90deg,#f3f3ff 0.5px,#d6d6ff 71.5px,#d0d0ff 105.5px,#d3d3ff 130.5px,#e9e9ff 186.5px,#efefff 221.5px,#f3f3ff 317.5px,#e3e3ff 395.5px,#e0e0ff 434.5px,#e5e5ff 473.5px,#f8f8ff 531.5px)"></div><div style="background:linear-gradient(90deg,#f3f3ff 0.5px,#d5d5ff 71.5px,#d0d0ff 105.5px,#d3d3ff 130.5px,#eaeaff 187.5px,#f0f0ff 222.5px,#f4f4ff 318.5px,#e4e4ff 395.5px,#e1e1ff 434.5px,#e6e6ff 474.5px,#f8f8ff 531.5px)"></div><div style="background:linear-gradient(90deg,#f3f3ff 0.5px,#d5d5ff 71.5px,#d0d0ff 105.5px,#d5d5ff 134.5px,#ececff 192.5px,#f1f1ff 222.5px,#f4f4ff 318.5px,#e4e4ff 396.5px,#e2e2ff 434.5px,#e7e7ff 474.5px,#f8f8ff 531.5px)"></div><div style="background:linear-gradient(90deg,#f2f2ff 0.5px,#d5d5ff 71.5px,#cfcfff 104.5px,#d3d3ff 129.5px,#ebebff 187.5px,#f2f2ff 222.5px,#f5f5ff 319.5px,#e5e5ff 396.5px,#e3e3ff 434.5px,#e7e7ff 475.5px,#f8f8ff 531.5px)"></div><div style="background:linear-gradient(90deg,#f2f2ff 0.5px,#d5d5ff 71.5px,#d0d0ff 104.5px,#d5d5ff 133.5px,#ededff 192.5px,#f3f3ff 223.5px,#f5f5ff 319.5px,#e6e6ff 396.5px,#e3e3ff 434.5px,#e8e8ff 475.5px,#f8f8ff 531.5px)"></div><div style="background:linear-gradient(90deg,#f2f2ff 0.5px,#d5d5ff 70.5px,#d0d0ff 103.5px,#d4d4ff 129.5px,#ececff 187.5px,#f3f3ff 223.5px,#f6f6ff 319.5px,#e7e7ff 396.5px,#e4e4ff 434.5px,#e8e8ff 476.5px,#f7f7ff 531.5px)"></div><div style="background:linear-gradient(90deg,#f2f2ff 0.5px,#d5d5ff 70.5px,#d0d0ff 103.5px,#d4d4ff 128.5px,#ededff 188.5px,#f4f4ff 223.5px,#f6f6ff 320.5px,#e7e7ff 396.5px,#e5e5ff 434.5px,#e9e9ff 477.5px,#f7f7ff 531.5px)"></div><div style="background:linear-gradient(90deg,#f2f2ff 0.5px,#d5d5ff 70.5px,#d0d0ff 103.5px,#d5d5ff 132.5px,#efefff 192.5px,#f5f5ff 223.5px,#f6f6ff 320.5px,#e8e8ff 397.5px,#e6e6ff 434.5px,#e9e9ff 477.5px,#f7f7ff 531.5px)"></div><div style="background:linear-gradient(90deg,#f1f1ff 0.5px,#d5d5ff 70.5px,#d0d0ff 102.5px,#d4d4ff 128.5px,#eeeeff 187.5px,#f5f5ff 223.5px,#f7f7ff 320.5px,#e9e9ff 397.5px,#e6e6ff 434.5px,#eaeaff 478.5px,#f7f7ff 531.5px)"></div><div style="background:linear-gradient(90deg,#f1f1ff 0.5px,#d6d6ff 70.5px,#d0d0ff 102.5px,#d5d5ff 128.5px,#eeeeff 187.5px,#f6f6ff 223.5px,#f7f7ff 321.5px,#e9e9ff 397.5px,#e7e7ff 434.5px,#eaeaff 479.5px,#f7f7ff 531.5px)"></div><div style="background:linear-gradient(90deg,#f1f1ff 0.5px,#d6d6ff 69.5px,#d1d1ff 101.5px,#d5d5ff 127.5px,#efefff 187.5px,#f7f7ff 223.5px,#f8f8ff 321.5px,#eaeaff 397.5px,#e8e8ff 434.5px,#ebebff 480.5px,#f7f7ff 531.5px)"></div><div style="background:linear-gradient(90deg,#f1f1ff 0.5px,#d6d6ff 69.5px,#d1d1ff 101.5px,#d5d5ff 127.5px,#efefff 187.5px,#f7f7ff 223.5px,#f8f8ff 321.5px,#ebebff 397.5px,#e8e8ff 434.5px,#ebebff 480.5px,#f7f7ff 531.5px)"></div><div style="background:linear-gradient(90deg,#f0f0ff 0.5px,#d6d6ff 69.5px,#d1d1ff 101.5px,#d7d7ff 131.5px,#f2f2ff 192.5px,#f8f8ff 224.5px,#f8f8ff 322.5px,#ebebff 397.5px,#e9e9ff 434.5px,#ececff 481.5px,#f7f7ff 531.5px)"></div><div style="background:linear-gradient(90deg,#f0f0ff 0.5px,#d7d7ff 68.5px,#d2d2ff 100.5px,#d6d6ff 126.5px,#f1f1ff 188.5px,#f8f8ff 224.5px,#f9f9ff 322.5px,#ececff 398.5px,#eaeaff 435.5px,#ececff 482.5px,#f7f7ff 531.5px)"></div><div style="background:linear-gradient(90deg,#f0f0ff 0.5px,#d7d7ff 68.5px,#d2d2ff 100.5px,#d8d8ff 130.5px,#f3f3ff 192.5px,#f9f9ff 224.5px,#f9f9ff 322.5px,#ececff 398.5px,#eaeaff 435.5px,#ededff 483.5px,#f7f7ff 531.5px)"></div><div style="background:linear-gradient(90deg,#f0f0ff 0.5px,#d8d8ff 68.5px,#d3d3ff 100.5px,#d9d9ff 130.5px,#f3f3ff 192.5px,#f9f9ff 224.5px,#f9f9ff 323.5px,#ededff 399.5px,#ebebff 436.5px,#ededff 484.5px,#f7f7ff 531.5px)"></div><div style="background:linear-gradient(90deg,#f0f0ff 0.5px,#d8d8ff 67.5px,#d4d4ff 99.5px,#d9d9ff 130.5px,#f4f4ff 192.5px,#fafaff 224.5px,#fafaff 323.5px,#ededff 399.5px,#ebebff 436.5px,#ededff 484.5px,#f7f7ff 531.5px)"></div><div style="background:linear-gradient(90deg,#f0f0ff 0.5px,#d9d9ff 66.5px,#d4d4ff 99.5px,#dadaff 130.5px,#f4f4ff 192.5px,#fafaff 224.5px,#fafaff 323.5px,#eeeeff 399.5px,#ececff 437.5px,#eeeeff 485.5px,#f7f7ff 531.5px)"></div><div style="background:linear-gradient(90deg,#f0f0ff 0.5px,#dadaff 66.5px,#d5d5ff 98.5px,#dbdbff 129.5px,#f5f5ff 192.5px,#fafaff 224.5px,#fafaff 323.5px,#eeeeff 400.5px,#ececff 438.5px,#eeeeff 486.5px,#f7f7ff 531.5px)"></div><div style="background:linear-gradient(90deg,#f0f0ff 0.5px,#dbdbff 65.5px,#d6d6ff 98.5px,#dcdcff 129.5px,#f5f5ff 192.5px,#fbfbff 224.5px,#fafaff 324.5px,#efefff 400.5px,#ededff 440.5px,#eeeeff 487.5px,#f7f7ff 531.5px)"></div><div style="background:linear-gradient(90deg,#f0f0ff 0.5px,#dbdbff 64.5px,#d7d7ff 97.5px,#dcdcff 128.5px,#f6f6ff 192.5px,#fbfbff 224.5px,#fbfbff 324.5px,#efefff 401.5px,#ededff 442.5px,#eeeeff 488.5px,#f7f7ff 531.5px)"></div><div style="background:linear-gradient(90deg,#efefff 0.5px,#dcdcff 64.5px,#d8d8ff 97.5px,#ddddff 128.5px,#f6f6ff 191.5px,#fbfbff 224.5px,#fbfbff 324.5px,#f0f0ff 402.5px,#eeeeff 446.5px,#efefff 490.5px,#f7f7ff 531.5px)"></div><div style="background:linear-gradient(90deg,#efefff 0.5px,#ddddff 62.5px,#d9d9ff 96.5px,#dedeff 128.5px,#f6f6ff 191.5px,#fbfbff 224.5px,#fbfbff 324.5px,#f0f0ff 404.5px,#eeeeff 452.5px,#efefff 492.5px,#f7f7ff 531.5px)"></div><div style="background:linear-gradient(90deg,#efefff 0.5px,#dedeff 62.5px,#dadaff 96.5px,#dfdfff 127.5px,#f7f7ff 191.5px,#fcfcff 224.5px,#fbfbff 325.5px,#f0f0ff 405.5px,#eeeeff 457.5px,#efefff 493.5px,#f7f7ff 531.5px)"></div><div style="background:linear-gradient(90deg,#efefff 0.5px,#dfdfff 60.5px,#dbdbff 95.5px,#e0e0ff 127.5px,#f7f7ff 191.5px,#fcfcff 224.5px,#fcfcff 325.5px,#f1f1ff 406.5px,#efefff 461.5px,#f0f0ff 495.5px,#f7f7ff 531.5px)"></div><div style="background:linear-gradient(90deg,#efefff 0.5px,#e0e0ff 59.5px,#dcdcff 95.5px,#e1e1ff 127.5px,#f7f7ff 191.5px,#fdfdff 235.5px,#ffffff 236.5px,#fbfbff 331.5px,#f1f1ff 404.5px,#efefff 452.5px,#f0f0ff 492.5px,#f7f7ff 531.5px)"></div><div style="background:linear-gradient(90deg,#f0f0ff 0.5px,#e1e1ff 58.5px,#ddddff 94.5px,#e1e1ff 123.5px,#f6f6ff 184.5px,#fdfdff 229.5px,#ffffff 230.5px,#ffffff 292.5px,#fdfdff 293.5px,#fbfbff 340.5px,#f2f2ff 406.5px,#efefff 461.5px,#f0f0ff 495.5px,#f6f6ff 531.5px)"></div><div style="background:linear-gradient(90deg,#f0f0ff 0.5px,#e2e2ff 56.5px,#dedeff 93.5px,#e2e2ff 123.5px,#f6f6ff 182.5px,#fdfdff 225.5px,#ffffff 226.5px,#ffffff 306.5px,#fdfdff 307.5px,#fbfbff 344.5px,#f2f2ff 405.5px,#efefff 465.5px,#f0f0ff 497.5px,#f6f6ff 531.5px)"></div><div style="background:linear-gradient(90deg,#f0f0ff 0.5px,#e3e3ff 55.5px,#dfdfff 93.5px,#e3e3ff 123.5px,#f6f6ff 181.5px,#fdfdff 222.5px,#ffffff 223.5px,#ffffff 313.5px,#fdfdff 314.5px,#f3f3ff 404.5px,#efefff 468.5px,#f0f0ff 498.5px,#f6f6ff 531.5px)"></div><div style="background:linear-gradient(90deg,#f0f0ff 0.5px,#e4e4ff 53.5px,#e0e0ff 92.5px,#e4e4ff 123.5px,#f6f6ff 179.5px,#fdfdff 219.5px,#ffffff 220.5px,#ffffff 318.5px,#fdfdff 319.5px,#f3f3ff 404.5px,#f0f0ff 470.5px,#f1f1ff 499.5px,#f6f6ff 531.5px)"></div><div style="background:linear-gradient(90deg,#f0f0ff 0.5px,#e5e5ff 50.5px,#e1e1ff 91.5px,#e5e5ff 123.5px,#f7f7ff 182.5px,#fdfdff 217.5px,#ffffff 218.5px,#ffffff 322.5px,#fdfdff 323.5px,#f3f3ff 404.5px,#f0f0ff 472.5px,#f1f1ff 500.5px,#f6f6ff 531.5px)"></div><div style="background:linear-gradient(90deg,#f0f0ff 0.5px,#e6e6ff 48.5px,#e2e2ff 90.5px,#e6e6ff 123.5px,#f7f7ff 181.5px,#fdfdff 215.5px,#ffffff 216.5px,#ffffff 325.5px,#fdfdff 326.5px,#f4f4ff 404.5px,#f0f0ff 473.5px,#f1f1ff 500.5px,#f6f6ff 531.5px)"></div><div style="background:linear-gradient(90deg,#f0f0ff 0.5px,#e7e7ff 46.5px,#e3e3ff 89.5px,#e7e7ff 123.5px,#f7f7ff 180.5px,#fdfdff 213.5px,#ffffff 214.5px,#ffffff 327.5px,#fdfdff 328.5px,#f4f4ff 404.5px,#f0f0ff 475.5px,#f1f1ff 501.5px,#f6f6ff 531.5px)"></div><div style="background:linear-gradient(90deg,#f0f0ff 0.5px,#e7e7ff 44.5px,#e4e4ff 88.5px,#e8e8ff 123.5px,#f8f8ff 179.5px,#fdfdff 211.5px,#ffffff 212.5px,#ffffff 330.5px,#fdfdff 331.5px,#f5f5ff 404.5px,#f0f0ff 476.5px,#f1f1ff 502.5px,#f6f6ff 531.5px)"></div><div style="background:linear-gradient(90deg,#f0f0ff 0.5px,#e7e7ff 49.5px,#e6e6ff 98.5px,#eaeaff 126.5px,#f8f8ff 178.5px,#fdfdff 209.5px,#ffffff 210.5px,#ffffff 332.5px,#fdfdff 333.5px,#f5f5ff 404.5px,#f1f1ff 477.5px,#f2f2ff 502.5px,#f7f7ff 531.5px)"></div><div style="background:linear-gradient(90deg,#f1f1ff 0.5px,#e8e8ff 48.5px,#e7e7ff 98.5px,#fdfdff 207.5px,#ffffff 208.5px,#ffffff 334.5px,#fdfdff 335.5px,#f5f5ff 403.5px,#f1f1ff 478.5px,#f2f2ff 503.5px,#f7f7ff 531.5px)"></div><div style="background:linear-gradient(90deg,#f1f1ff 0.5px,#e9e9ff 46.5px,#e8e8ff 97.5px,#fdfdff 205.5px,#ffffff 206.5px,#ffffff 336.5px,#fdfdff 337.5px,#f6f6ff 403.5px,#f1f1ff 479.5px,#f2f2ff 503.5px,#f7f7ff 531.5px)"></div><div style="background:linear-gradient(90deg,#f1f1ff 0.5px,#eaeaff 45.5px,#e9e9ff 97.5px,#fdfdff 203.5px,#ffffff 204.5px,#ffffff 338.5px,#fdfdff 339.5px,#f6f6ff 403.5px,#f1f1ff 480.5px,#f2f2ff 504.5px,#f7f7ff 531.5px)"></div><div style="background:linear-gradient(90deg,#f1f1ff 0.5px,#ebebff 43.5px,#eaeaff 96.5px,#fdfdff 201.5px,#ffffff 202.5px,#ffffff 340.5px,#fdfdff 341.5px,#f6f6ff 403.5px,#f2f2ff 480.5px,#f2f2ff 504.5px,#f7f7ff 531.5px)"></div><div style="background:linear-gradient(90deg,#f1f1ff 0.5px,#ebebff 42.5px,#ebebff 96.5px,#fdfdff 200.5px,#ffffff 201.5px,#ffffff 341.5px,#fdfdff 342.5px,#f7f7ff 403.5px,#f2f2ff 481.5px,#f7f7ff 531.5px)"></div><div style="background:linear-gradient(90deg,#f2f2ff 0.5px,#ececff 41.5px,#ececff 95.5px,#fdfdff 198.5px,#ffffff 199.5px,#ffffff 343.5px,#fdfdff 344.5px,#f7f7ff 403.5px,#f2f2ff 481.5px,#f7f7ff 531.5px)"></div><div style="background:linear-gradient(90deg,#f2f2ff 0.5px,#ececff 40.5px,#ededff 94.5px,#fdfdff 196.5px,#ffffff 197.5px,#ffffff 344.5px,#fdfdff 345.5px,#f7f7ff 403.5px,#f2f2ff 482.5px,#f7f7ff 531.5px)"></div><div style="background:linear-gradient(90deg,#f2f2ff 0.5px,#ededff 39.5px,#eeeeff 94.5px,#fdfdff 194.5px,#ffffff 195.5px,#ffffff 346.5px,#fdfdff 347.5px,#f8f8ff 402.5px,#f3f3ff 482.5px,#f7f7ff 531.5px)"></div><div style="background:linear-gradient(90deg,#f2f2ff 0.5px,#eeeeff 38.5px,#efefff 93.5px,#fdfdff 192.5px,#ffffff 193.5px,#ffffff 347.5px,#fdfdff 348.5px,#f8f8ff 402.5px,#f3f3ff 483.5px,#f7f7ff 531.5px)"></div><div style="background:linear-gradient(90deg,#f3f3ff 0.5px,#eeeeff 37.5px,#f0f0ff 91.5px,#fdfdff 190.5px,#ffffff 191.5px,#ffffff 349.5px,#fdfdff 350.5px,#f3f3ff 483.5px,#f8f8ff 531.5px)"></div><div style="background:linear-gradient(90deg,#f3f3ff 0.5px,#efefff 36.5px,#f0f0ff 89.5px,#fdfdff 188.5px,#ffffff 189.5px,#ffffff 351.5px,#fdfdff 352.5px,#f4f4ff 484.5px,#f8f8ff 531.5px)"></div><div style="background:linear-gradient(90deg,#f3f3ff 0.5px,#efefff 35.5px,#f1f1ff 86.5px,#fdfdff 186.5px,#ffffff 187.5px,#ffffff 352.5px,#fdfdff 353.5px,#f4f4ff 484.5px,#f8f8ff 531.5px)"></div><div style="background:linear-gradient(90deg,#f3f3ff 0.5px,#f0f0ff 33.5px,#f1f1ff 77.5px,#fdfdff 184.5px,#ffffff 185.5px,#ffffff 354.5px,#fdfdff 355.5px,#f4f4ff 484.5px,#f8f8ff 531.5px)"></div><div style="background:linear-gradient(90deg,#f4f4ff 0.5px,#f0f0ff 29.5px,#f1f1ff 63.5px,#f6f6ff 128.5px,#fdfdff 181.5px,#ffffff 182.5px,#ffffff 355.5px,#fdfdff 356.5px,#f5f5ff 484.5px,#f8f8ff 531.5px)"></div><div style="background:linear-gradient(90deg,#f4f4ff 0.5px,#f1f1ff 27.5px,#f1f1ff 57.5px,#fdfdff 179.5px,#ffffff 180.5px,#ffffff 357.5px,#fdfdff 358.5px,#f5f5ff 485.5px,#f9f9ff 531.5px)"></div><div style="background:linear-gradient(90deg,#f4f4ff 0.5px,#f1f1ff 26.5px,#f2f2ff 53.5px,#fdfdff 176.5px,#ffffff 177.5px,#ffffff 359.5px,#fdfdff 360.5px,#f5f5ff 485.5px,#f9f9ff 531.5px)"></div><div style="background:linear-gradient(90deg,#f4f4ff 0.5px,#f2f2ff 50.5px,#fdfdff 174.5px,#ffffff 175.5px,#ffffff 281.5px,#fdfdff 282.5px,#fdfdff 295.5px,#fdfdff 308.5px,#ffffff 309.5px,#ffffff 361.5px,#fdfdff 362.5px,#f6f6ff 485.5px,#f9f9ff 531.5px)"></div><div style="background:linear-gradient(90deg,#f5f5ff 0.5px,#f2f2ff 48.5px,#fdfdff 171.5px,#ffffff 172.5px,#ffffff 275.5px,#fdfdff 276.5px,#fcfcff 294.5px,#fdfdff 314.5px,#ffffff 315.5px,#ffffff 363.5px,#fdfdff 364.5px,#f6f6ff 485.5px,#f9f9ff 531.5px)"></div><div style="background:linear-gradient(90deg,#f5f5ff 0.5px,#f3f3ff 46.5px,#fdfdff 168.5px,#ffffff 169.5px,#ffffff 271.5px,#fdfdff 272.5px,#fcfcff 294.5px,#fdfdff 318.5px,#ffffff 319.5px,#ffffff 365.5px,#fdfdff 366.5px,#f7f7ff 486.5px,#fafaff 531.5px)"></div><div style="background:linear-gradient(90deg,#f5f5ff 0.5px,#f3f3ff 44.5px,#fdfdff 165.5px,#ffffff 166.5px,#ffffff 268.5px,#fdfdff 269.5px,#fcfcff 294.5px,#fdfdff 322.5px,#ffffff 323.5px,#ffffff 367.5px,#fdfdff 368.5px,#f7f7ff 486.5px,#fafaff 531.5px)"></div><div style="background:linear-gradient(90deg,#f5f5ff 0.5px,#f3f3ff 43.5px,#fdfdff 162.5px,#ffffff 163.5px,#ffffff 265.5px,#fdfdff 266.5px,#fcfcff 294.5px,#fdfdff 325.5px,#ffffff 326.5px,#ffffff 369.5px,#fdfdff 370.5px,#f7f7ff 486.5px,#fafaff 531.5px)"></div><div style="background:linear-gradient(90deg,#f6f6ff 0.5px,#f4f4ff 42.5px,#fdfdff 159.5px,#ffffff 160.5px,#ffffff 262.5px,#fdfdff 263.5px,#fcfcff 294.5px,#fdfdff 328.5px,#ffffff 329.5px,#ffffff 372.5px,#fdfdff 373.5px,#f8f8ff 486.5px,#fafaff 531.5px)"></div><div style="background:linear-gradient(90deg,#f6f6ff 0.5px,#f4f4ff 41.5px,#fdfdff 155.5px,#ffffff 156.5px,#ffffff 260.5px,#fdfdff 261.5px,#fcfcff 294.5px,#fdfdff 330.5px,#ffffff 331.5px,#ffffff 375.5px,#fdfdff 376.5px,#f8f8ff 486.5px,#fbfbff 531.5px)"></div><div style="background:linear-gradient(90deg,#f6f6ff 0.5px,#f5f5ff 41.5px,#fdfdff 151.5px,#ffffff 152.5px,#ffffff 258.5px,#fdfdff 259.5px,#fcfcff 293.5px,#fdfdff 332.5px,#ffffff 333.5px,#ffffff 378.5px,#fdfdff 379.5px,#f8f8ff 486.5px,#fbfbff 531.5px)"></div><div style="background:linear-gradient(90deg,#f6f6ff 0.5px,#f5f5ff 40.5px,#fdfdff 147.5px,#ffffff 148.5px,#ffffff 256.5px,#fdfdff 257.5px,#fbfbff 293.5px,#fdfdff 333.5px,#ffffff 334.5px,#ffffff 381.5px,#fdfdff 382.5px,#f9f9ff 486.5px,#fbfbff 531.5px)"></div><div style="background:linear-gradient(90deg,#f7f7ff 0.5px,#f5f5ff 40.5px,#fdfdff 143.5px,#ffffff 144.5px,#ffffff 255.5px,#fdfdff 256.5px,#fbfbff 293.5px,#fdfdff 335.5px,#ffffff 336.5px,#ffffff 384.5px,#fdfdff 385.5px,#f9f9ff 487.5px,#fbfbff 531.5px)"></div><div style="background:linear-gradient(90deg,#f7f7ff 0.5px,#f6f6ff 39.5px,#fdfdff 138.5px,#ffffff 139.5px,#ffffff 253.5px,#fdfdff 254.5px,#fbfbff 290.5px,#fdfdff 336.5px,#ffffff 337.5px,#ffffff 388.5px,#fdfdff 389.5px,#fafaff 482.5px,#fbfbff 531.5px)"></div><div style="background:linear-gradient(90deg,#f7f7ff 0.5px,#f6f6ff 39.5px,#fdfdff 133.5px,#ffffff 134.5px,#ffffff 252.5px,#fdfdff 253.5px,#fbfbff 290.5px,#fdfdff 337.5px,#ffffff 338.5px,#ffffff 392.5px,#fdfdff 393.5px,#fafaff 482.5px,#fcfcff 531.5px)"></div><div style="background:linear-gradient(90deg,#f7f7ff 0.5px,#f6f6ff 39.5px,#fdfdff 127.5px,#ffffff 128.5px,#ffffff 250.5px,#fdfdff 251.5px,#fbfbff 290.5px,#fdfdff 339.5px,#ffffff 340.5px,#ffffff 396.5px,#fdfdff 397.5px,#fafaff 482.5px,#fcfcff 531.5px)"></div><div style="background:linear-gradient(90deg,#f8f8ff 0.5px,#f7f7ff 39.5px,#fdfdff 122.5px,#ffffff 123.5px,#ffffff 249.5px,#fdfdff 250.5px,#fbfbff 291.5px,#fdfdff 339.5px,#ffffff 340.5px,#ffffff 401.5px,#fdfdff 402.5px,#fafaff 482.5px,#fcfcff 531.5px)"></div><div style="background:linear-gradient(90deg,#f8f8ff 0.5px,#f7f7ff 39.5px,#fdfdff 116.5px,#ffffff 117.5px,#ffffff 248.5px,#fdfdff 249.5px,#fbfbff 291.5px,#fdfdff 340.5px,#ffffff 341.5px,#ffffff 407.5px,#fdfdff 408.5px,#fbfbff 482.5px,#fcfcff 531.5px)"></div><div style="background:linear-gradient(90deg,#f8f8ff 0.5px,#f7f7ff 40.5px,#fdfdff 111.5px,#ffffff 112.5px,#ffffff 247.5px,#fdfdff 248.5px,#fafaff 291.5px,#fdfdff 341.5px,#ffffff 342.5px,#ffffff 413.5px,#fdfdff 414.5px,#fbfbff 482.5px,#fcfcff 531.5px)"></div><div style="background:linear-gradient(90deg,#f8f8ff 0.5px,#f8f8ff 40.5px,#fdfdff 105.5px,#ffffff 106.5px,#ffffff 246.5px,#fdfdff 247.5px,#fafaff 291.5px,#fdfdff 342.5px,#ffffff 343.5px,#ffffff 421.5px,#fdfdff 422.5px,#fbfbff 482.5px,#fdfdff 531.5px)"></div><div style="background:linear-gradient(90deg,#f9f9ff 0.5px,#f8f8ff 40.5px,#fdfdff 101.5px,#ffffff 102.5px,#ffffff 246.5px,#fdfdff 247.5px,#fafaff 293.5px,#fdfdff 342.5px,#ffffff 343.5px,#ffffff 430.5px,#fdfdff 431.5px,#fcfcff 491.5px,#fdfdff 529.5px,#ffffff 531.5px)"></div><div style="background:linear-gradient(90deg,#f9f9ff 0.5px,#f8f8ff 41.5px,#fdfdff 97.5px,#ffffff 98.5px,#ffffff 245.5px,#fdfdff 246.5px,#fafaff 293.5px,#fdfdff 343.5px,#ffffff 344.5px,#ffffff 440.5px,#fdfdff 441.5px,#fcfcff 491.5px,#fdfdff 525.5px,#ffffff 526.5px,#ffffff 531.5px)"></div><div style="background:linear-gradient(90deg,#f9f9ff 0.5px,#f9f9ff 41.5px,#fdfdff 93.5px,#ffffff 94.5px,#ffffff 244.5px,#fdfdff 245.5px,#fafaff 293.5px,#fdfdff 343.5px,#ffffff 344.5px,#ffffff 450.5px,#fdfdff 451.5px,#fcfcff 491.5px,#ffffff 531.5px)"></div><div style="background:linear-gradient(90deg,#f9f9ff 0.5px,#f9f9ff 41.5px,#fdfdff 90.5px,#ffffff 91.5px,#ffffff 244.5px,#fdfdff 245.5px,#fafaff 293.5px,#fdfdff 343.5px,#ffffff 344.5px,#ffffff 460.5px,#fdfdff 461.5px,#fcfcff 491.5px,#ffffff 531.5px)"></div><div style="background:linear-gradient(90deg,#fafaff 0.5px,#f9f9ff 42.5px,#fdfdff 87.5px,#ffffff 88.5px,#ffffff 243.5px,#fdfdff 244.5px,#fafaff 293.5px,#fdfdff 344.5px,#ffffff 345.5px,#ffffff 472.5px,#fdfdff 473.5px,#fdfdff 491.5px,#ffffff 531.5px)"></div><div style="background:linear-gradient(90deg,#fafaff 0.5px,#f9f9ff 42.5px,#fdfdff 84.5px,#ffffff 85.5px,#ffffff 243.5px,#fdfdff 244.5px,#fafaff 293.5px,#fdfdff 344.5px,#ffffff 345.5px,#ffffff 531.5px)"></div><div style="background:linear-gradient(90deg,#fafaff 0.5px,#fafaff 42.5px,#fdfdff 82.5px,#ffffff 83.5px,#ffffff 242.5px,#fdfdff 243.5px,#fafaff 293.5px,#fdfdff 344.5px,#ffffff 345.5px,#ffffff 531.5px)"></div><div style="background:linear-gradient(90deg,#fafaff 0.5px,#fafaff 43.5px,#fdfdff 79.5px,#ffffff 80.5px,#ffffff 242.5px,#fdfdff 243.5px,#fafaff 293.5px,#fdfdff 344.5px,#ffffff 345.5px,#ffffff 531.5px)"></div><div style="background:linear-gradient(90deg,#fbfbff 0.5px,#fafaff 43.5px,#fdfdff 77.5px,#ffffff 78.5px,#ffffff 242.5px,#fdfdff 243.5px,#fafaff 293.5px,#fdfdff 344.5px,#ffffff 345.5px,#ffffff 531.5px)"></div><div style="background:linear-gradient(90deg,#fbfbff 0.5px,#fbfbff 44.5px,#fdfdff 75.5px,#ffffff 76.5px,#ffffff 242.5px,#fdfdff 243.5px,#f9f9ff 295.5px,#fdfdff 344.5px,#ffffff 345.5px,#ffffff 531.5px)"></div><div style="background:linear-gradient(90deg,#fbfbff 0.5px,#fbfbff 45.5px,#fdfdff 72.5px,#ffffff 73.5px,#ffffff 242.5px,#fdfdff 243.5px,#f9f9ff 295.5px,#fdfdff 344.5px,#ffffff 345.5px,#ffffff 531.5px)"></div><div style="background:linear-gradient(90deg,#fbfbff 0.5px,#fbfbff 45.5px,#fdfdff 70.5px,#ffffff 71.5px,#ffffff 242.5px,#fdfdff 243.5px,#f9f9ff 295.5px,#fdfdff 344.5px,#ffffff 345.5px,#ffffff 531.5px)"></div><div style="background:linear-gradient(90deg,#fbfbff 0.5px,#fbfbff 47.5px,#fdfdff 67.5px,#ffffff 68.5px,#ffffff 242.5px,#fdfdff 243.5px,#f9f9ff 295.5px,#fdfdff 343.5px,#ffffff 344.5px,#ffffff 531.5px)"></div><div style="background:linear-gradient(90deg,#fcfcff 0.5px,#fcfcff 48.5px,#fdfdff 65.5px,#ffffff 66.5px,#ffffff 242.5px,#fdfdff 243.5px,#fafaff 294.5px,#fdfdff 343.5px,#ffffff 344.5px,#ffffff 531.5px)"></div><div style="background:linear-gradient(90deg,#fcfcff 0.5px,#fcfcff 49.5px,#fdfdff 62.5px,#ffffff 63.5px,#ffffff 242.5px,#fdfdff 243.5px,#fafaff 294.5px,#fdfdff 343.5px,#ffffff 344.5px,#ffffff 531.5px)"></div><div style="background:linear-gradient(90deg,#fcfcff 0.5px,#fcfcff 52.5px,#fdfdff 59.5px,#ffffff 60.5px,#ffffff 243.5px,#fdfdff 244.5px,#fafaff 294.5px,#fdfdff 343.5px,#ffffff 344.5px,#ffffff 531.5px)"></div><div style="background:linear-gradient(90deg,#fcfcff 0.5px,#fdfdff 56.5px,#ffffff 57.5px,#ffffff 243.5px,#fdfdff 244.5px,#fafaff 294.5px,#fdfdff 342.5px,#ffffff 343.5px,#ffffff 531.5px)"></div><div style="background:linear-gradient(90deg,#fcfcff 0.5px,#fdfdff 53.5px,#ffffff 54.5px,#ffffff 243.5px,#fdfdff 244.5px,#fafaff 294.5px,#fdfdff 342.5px,#ffffff 343.5px,#ffffff 531.5px)"></div><div style="background:linear-gradient(90deg,#fdfdff 0.5px,#fdfdff 49.5px,#ffffff 50.5px,#ffffff 244.5px,#fdfdff 245.5px,#fafaff 294.5px,#fdfdff 341.5px,#ffffff 342.5px,#ffffff 531.5px)"></div><div style="background:linear-gradient(90deg,#ffffff 0.5px,#fdfdff 2.5px,#fcfcff 23.5px,#fdfdff 45.5px,#ffffff 46.5px,#ffffff 244.5px,#fdfdff 245.5px,#fafaff 293.5px,#fdfdff 340.5px,#ffffff 341.5px,#ffffff 531.5px)"></div><div style="background:linear-gradient(90deg,#ffffff 0.5px,#fcfcff 23.5px,#fdfdff 40.5px,#ffffff 41.5px,#ffffff 245.5px,#fdfdff 246.5px,#fafaff 293.5px,#fdfdff 340.5px,#ffffff 341.5px,#ffffff 531.5px)"></div><div style="background:linear-gradient(90deg,#ffffff 0.5px,#fdfdff 23.5px,#fdfdff 31.5px,#ffffff 32.5px,#ffffff 246.5px,#fdfdff 247.5px,#fafaff 293.5px,#fdfdff 339.5px,#ffffff 340.5px,#ffffff 531.5px)"></div><div style="background:linear-gradient(90deg,#ffffff 0.5px,#ffffff 247.5px,#fdfdff 248.5px,#fafaff 293.5px,#fdfdff 338.5px,#ffffff 339.5px,#ffffff 531.5px)"></div><div style="background:linear-gradient(90deg,#ffffff 0.5px,#ffffff 248.5px,#fdfdff 249.5px,#fafaff 293.5px,#fdfdff 337.5px,#ffffff 338.5px,#ffffff 531.5px)"></div><div style="background:linear-gradient(90deg,#ffffff 0.5px,#ffffff 249.5px,#fdfdff 250.5px,#fbfbff 293.5px,#fdfdff 336.5px,#ffffff 337.5px,#ffffff 531.5px)"></div><div style="background:linear-gradient(90deg,#ffffff 0.5px,#ffffff 250.5px,#fdfdff 251.5px,#fbfbff 293.5px,#fdfdff 335.5px,#ffffff 336.5px,#ffffff 531.5px)"></div><div style="background:linear-gradient(90deg,#ffffff 0.5px,#ffffff 251.5px,#fdfdff 252.5px,#fbfbff 293.5px,#fdfdff 334.5px,#ffffff 335.5px,#ffffff 531.5px)"></div><div style="background:linear-gradient(90deg,#ffffff 0.5px,#ffffff 252.5px,#fdfdff 253.5px,#fbfbff 293.5px,#fdfdff 332.5px,#ffffff 333.5px,#ffffff 531.5px)"></div><div style="background:linear-gradient(90deg,#ffffff 0.5px,#ffffff 254.5px,#fdfdff 255.5px,#fbfbff 293.5px,#fdfdff 331.5px,#ffffff 332.5px,#ffffff 531.5px)"></div><div style="background:linear-gradient(90deg,#ffffff 0.5px,#ffffff 255.5px,#fdfdff 256.5px,#fbfbff 293.5px,#fdfdff 329.5px,#ffffff 330.5px,#ffffff 531.5px)"></div><div style="background:linear-gradient(90deg,#ffffff 0.5px,#ffffff 257.5px,#fdfdff 258.5px,#fbfbff 293.5px,#fdfdff 327.5px,#ffffff 328.5px,#ffffff 531.5px)"></div><div style="background:linear-gradient(90deg,#ffffff 0.5px,#ffffff 259.5px,#fdfdff 260.5px,#fcfcff 293.5px,#fdfdff 325.5px,#ffffff 326.5px,#ffffff 531.5px)"></div><div style="background:linear-gradient(90deg,#ffffff 0.5px,#ffffff 262.5px,#fdfdff 263.5px,#fcfcff 293.5px,#fdfdff 323.5px,#ffffff 324.5px,#ffffff 531.5px)"></div><div style="background:linear-gradient(90deg,#ffffff 0.5px,#ffffff 264.5px,#fdfdff 265.5px,#fcfcff 293.5px,#fdfdff 320.5px,#ffffff 321.5px,#ffffff 531.5px)"></div><div style="background:linear-gradient(90deg,#ffffff 0.5px,#ffffff 267.5px,#fdfdff 268.5px,#fcfcff 293.5px,#fdfdff 317.5px,#ffffff 318.5px,#ffffff 531.5px)"></div><div style="background:linear-gradient(90deg,#ffffff 0.5px,#ffffff 271.5px,#fdfdff 272.5px,#fcfcff 293.5px,#fdfdff 314.5px,#ffffff 315.5px,#ffffff 531.5px)"></div><div style="background:linear-gradient(90deg,#ffffff 0.5px,#ffffff 275.5px,#fdfdff 276.5px,#fcfcff 293.5px,#fdfdff 309.5px,#ffffff 310.5px,#ffffff 531.5px)"></div><div style="background:linear-gradient(90deg,#ffffff 0.5px,#ffffff 281.5px,#fdfdff 282.5px,#fdfdff 293.5px,#fdfdff 303.5px,#ffffff 304.5px,#ffffff 531.5px)"></div><div style="background:linear-gradient(90deg,#ffffff 0.5px,#ffffff 531.5px)"></div><div style="background:linear-gradient(90deg,#ffffff 0.5px,#ffffff 531.5px)"></div><div style="background:linear-gradient(90deg,#ffffff 0.5px,#ffffff 531.5px)"></div><div style="background:linear-gradient(90deg,#ffffff 0.5px,#ffffff 531.5px)"></div><div style="background:linear-gradient(90deg,#ffffff 0.5px,#ffffff 531.5px)"></div><div style="background:linear-gradient(90deg,#ffffff 0.5px,#ffffff 531.5px)"></div><div style="background:linear-gradient(90deg,#ffffff 0.5px,#ffffff 531.5px)"></div><div style="background:linear-gradient(90deg,#ffffff 0.5px,#ffffff 531.5px)"></div><div style="background:linear-gradient(90deg,#ffffff 0.5px,#ffffff 531.5px)"></div><div style="background:linear-gradient(90deg,#ffffff 0.5px,#ffffff 531.5px)"></div><div style="background:linear-gradient(90deg,#ffffff 0.5px,#ffffff 531.5px)"></div><div style="background:linear-gradient(90deg,#ffffff 0.5px,#ffffff 531.5px)"></div><div style="background:linear-gradient(90deg,#ffffff 0.5px,#ffffff 531.5px)"></div><div style="background:linear-gradient(90deg,#ffffff 0.5px,#ffffff 531.5px)"></div><div style="background:linear-gradient(90deg,#ffffff 0.5px,#ffffff 531.5px)"></div><div style="background:linear-gradient(90deg,#ffffff 0.5px,#ffffff 531.5px)"></div><div style="background:linear-gradient(90deg,#ffffff 0.5px,#ffffff 531.5px)"></div><div style="background:linear-gradient(90deg,#ffffff 0.5px,#ffffff 531.5px)"></div><div style="background:linear-gradient(90deg,#ffffff 0.5px,#ffffff 531.5px)"></div><div style="background:linear-gradient(90deg,#ffffff 0.5px,#ffffff 531.5px)"></div><div style="background:linear-gradient(90deg,#ffffff 0.5px,#ffffff 531.5px)"></div><div style="background:linear-gradient(90deg,#ffffff 0.5px,#ffffff 531.5px)"></div><div style="background:linear-gradient(90deg,#ffffff 0.5px,#ffffff 531.5px)"></div><div style="background:linear-gradient(90deg,#ffffff 0.5px,#ffffff 531.5px)"></div><div style="background:linear-gradient(90deg,#ffffff 0.5px,#ffffff 531.5px)"></div><div style="background:linear-gradient(90deg,#ffffff 0.5px,#ffffff 531.5px)"></div><div style="background:linear-gradient(90deg,#ffffff 0.5px,#ffffff 531.5px)"></div><div style="background:linear-gradient(90deg,#ffffff 0.5px,#ffffff 531.5px)"></div><div style="background:linear-gradient(90deg,#ffffff 0.5px,#ffffff 531.5px)"></div><div style="background:linear-gradient(90deg,#ffffff 0.5px,#ffffff 531.5px)"></div><div style="background:linear-gradient(90deg,#ffffff 0.5px,#ffffff 531.5px)"></div><div style="background:linear-gradient(90deg,#ffffff 0.5px,#ffffff 531.5px)"></div><div style="background:linear-gradient(90deg,#ffffff 0.5px,#ffffff 531.5px)"></div><div style="background:linear-gradient(90deg,#ffffff 0.5px,#ffffff 531.5px)"></div><div style="background:linear-gradient(90deg,#ffffff 0.5px,#ffffff 531.5px)"></div><div style="background:linear-gradient(90deg,#ffffff 0.5px,#ffffff 531.5px)"></div><div style="background:linear-gradient(90deg,#ffffff 0.5px,#ffffff 531.5px)"></div><div style="background:linear-gradient(90deg,#ffffff 0.5px,#ffffff 531.5px)"></div><div style="background:linear-gradient(90deg,#ffffff 0.5px,#ffffff 531.5px)"></div><div style="background:linear-gradient(90deg,#ffffff 0.5px,#ffffff 531.5px)"></div><div style="background:linear-gradient(90deg,#ffffff 0.5px,#ffffff 531.5px)"></div><div style="background:linear-gradient(90deg,#ffffff 0.5px,#ffffff 531.5px)"></div><div style="background:linear-gradient(90deg,#ffffff 0.5px,#ffffff 531.5px)"></div><div style="background:linear-gradient(90deg,#ffffff 0.5px,#ffffff 531.5px)"></div><div style="background:linear-gradient(90deg,#ffffff 0.5px,#ffffff 531.5px)"></div><div style="background:linear-gradient(90deg,#ffffff 0.5px,#ffffff 531.5px)"></div><div style="background:linear-gradient(90deg,#ffffff 0.5px,#ffffff 531.5px)"></div><div style="background:linear-gradient(90deg,#ffffff 0.5px,#ffffff 531.5px)"></div><div style="background:linear-gradient(90deg,#ffffff 0.5px,#ffffff 531.5px)"></div><div style="background:linear-gradient(90deg,#ffffff 0.5px,#ffffff 531.5px)"></div><div style="background:linear-gradient(90deg,#ffffff 0.5px,#ffffff 531.5px)"></div><div style="background:linear-gradient(90deg,#ffffff 0.5px,#ffffff 531.5px)"></div><div style="background:linear-gradient(90deg,#ffffff 0.5px,#ffffff 531.5px)"></div><div style="background:linear-gradient(90deg,#fdfdff 0.5px,#fdfdff 15.5px,#ffffff 16.5px,#ffffff 531.5px)"></div><div style="background:linear-gradient(90deg,#fcfcff 0.5px,#fdfdff 22.5px,#ffffff 23.5px,#ffffff 531.5px)"></div><div style="background:linear-gradient(90deg,#fcfcff 0.5px,#fdfdff 26.5px,#ffffff 27.5px,#ffffff 531.5px)"></div><div style="background:linear-gradient(90deg,#fcfcff 0.5px,#fdfdff 30.5px,#ffffff 31.5px,#ffffff 531.5px)"></div><div style="background:linear-gradient(90deg,#fcfcff 0.5px,#fdfdff 33.5px,#ffffff 34.5px,#ffffff 531.5px)"></div><div style="background:linear-gradient(90deg,#fcfcff 0.5px,#fdfdff 36.5px,#ffffff 37.5px,#ffffff 531.5px)"></div><div style="background:linear-gradient(90deg,#fcfcff 0.5px,#fdfdff 38.5px,#ffffff 39.5px,#ffffff 531.5px)"></div><div style="background:linear-gradient(90deg,#fcfcff 0.5px,#fdfdff 40.5px,#ffffff 41.5px,#ffffff 531.5px)"></div><div style="background:linear-gradient(90deg,#fbfbff 0.5px,#fdfdff 42.5px,#ffffff 43.5px,#ffffff 531.5px)"></div><div style="background:linear-gradient(90deg,#fbfbff 0.5px,#fdfdff 43.5px,#ffffff 44.5px,#ffffff 531.5px)"></div><div style="background:linear-gradient(90deg,#fbfbff 0.5px,#fdfdff 45.5px,#ffffff 46.5px,#ffffff 531.5px)"></div><div style="background:linear-gradient(90deg,#fbfbff 0.5px,#fdfdff 46.5px,#ffffff 47.5px,#ffffff 531.5px)"></div><div style="background:linear-gradient(90deg,#fbfbff 0.5px,#fdfdff 48.5px,#ffffff 49.5px,#ffffff 531.5px)"></div><div style="background:linear-gradient(90deg,#fbfbff 0.5px,#fdfdff 49.5px,#ffffff 50.5px,#ffffff 531.5px)"></div><div style="background:linear-gradient(90deg,#fafaff 0.5px,#fdfdff 50.5px,#ffffff 51.5px,#ffffff 531.5px)"></div><div style="background:linear-gradient(90deg,#fafaff 0.5px,#fdfdff 51.5px,#ffffff 52.5px,#ffffff 531.5px)"></div><div style="background:linear-gradient(90deg,#fafaff 0.5px,#fdfdff 51.5px,#ffffff 52.5px,#ffffff 531.5px)"></div><div style="background:linear-gradient(90deg,#fafaff 0.5px,#fdfdff 52.5px,#ffffff 53.5px,#ffffff 531.5px)"></div><div style="background:linear-gradient(90deg,#fafaff 0.5px,#fdfdff 53.5px,#ffffff 54.5px,#ffffff 531.5px)"></div><div style="background:linear-gradient(90deg,#fafaff 0.5px,#fdfdff 53.5px,#ffffff 54.5px,#ffffff 531.5px)"></div><div style="background:linear-gradient(90deg,#fafaff 0.5px,#fdfdff 54.5px,#ffffff 55.5px,#ffffff 531.5px)"></div><div style="background:linear-gradient(90deg,#fafaff 0.5px,#fdfdff 54.5px,#ffffff 55.5px,#ffffff 531.5px)"></div><div style="background:linear-gradient(90deg,#fafaff 0.5px,#fdfdff 55.5px,#ffffff 56.5px,#ffffff 531.5px)"></div><div style="background:linear-gradient(90deg,#fafaff 0.5px,#fdfdff 55.5px,#ffffff 56.5px,#ffffff 531.5px)"></div><div style="background:linear-gradient(90deg,#fafaff 0.5px,#fdfdff 55.5px,#ffffff 56.5px,#ffffff 531.5px)"></div><div style="background:linear-gradient(90deg,#fafaff 0.5px,#fdfdff 55.5px,#ffffff 56.5px,#ffffff 531.5px)"></div><div style="background:linear-gradient(90deg,#fafaff 0.5px,#fdfdff 55.5px,#ffffff 56.5px,#ffffff 531.5px)"></div></div><svg width="1280" height="1280" viewBox="0 0 1280 1280">
<path d="M83.85 559.34h1.9v1.5h-1.9zM350.24 460.16h1.9v1.5h-1.9zM100.25 443.63h1.9v1.5h-1.9zM94.64 420.49h1.9v1.5h-1.9zM468.03 420.49h1.9v1.5h-1.9zM535.03 420.49h1.9v1.5h-1.9zM546.06 420.49h1.9v1.5h-1.9zM186.04 410.57h1.9v1.5h-1.9zM143.05 407.27h1.9v1.5h-1.9zM81.47 403.96h1.9v1.5h-1.9zM126.05 403.96h1.9v1.5h-1.9zM167.65 403.96h1.9v1.5h-1.9zM203.63 397.35h1.9v1.5h-1.9zM142.65 390.74h1.9v1.5h-1.9zM159.45 390.74h1.9v1.5h-1.9zM163.07 390.74h1.9v1.5h-1.9zM200.65 390.74h1.9v1.5h-1.9zM222.07 390.74h1.9v1.5h-1.9zM433.44 390.74h1.9v1.5h-1.9zM458.64 390.74h1.9v1.5h-1.9zM520.67 387.43h1.9v1.5h-1.9zM343.44 380.82h1.9v1.5h-1.9zM525.04 380.82h1.9v1.5h-1.9zM125.05 374.21h1.9v1.5h-1.9zM477.03 374.21h1.9v1.5h-1.9zM490.05 374.21h1.9v1.5h-1.9zM410.03 367.6h1.9v1.5h-1.9zM190.66 360.98h1.9v1.5h-1.9zM207.06 360.98h1.9v1.5h-1.9zM244.04 360.98h1.9v1.5h-1.9zM275.05 360.98h1.9v1.5h-1.9zM278.63 360.98h1.9v1.5h-1.9zM280.66 360.98h1.9v1.5h-1.9zM312.03 360.98h1.9v1.5h-1.9zM430.46 360.98h1.9v1.5h-1.9zM479.07 360.98h1.9v1.5h-1.9zM155.07 357.68h1.9v1.5h-1.9zM218.04 357.68h1.9v1.5h-1.9zM288.47 357.68h1.9v1.5h-1.9zM431.45 357.68h1.9v1.5h-1.9zM440.05 357.68h1.9v1.5h-1.9zM509.04 357.68h1.9v1.5h-1.9zM515.05 357.68h1.9v1.5h-1.9zM412.47 354.37h1.9v1.5h-1.9zM138.03 351.07h1.9v1.5h-1.9zM179.03 351.07h1.9v1.5h-1.9zM327.04 351.07h1.9v1.5h-1.9zM349.05 351.07h1.9v1.5h-1.9zM470.67 351.07h1.9v1.5h-1.9zM145.03 344.45h1.9v1.5h-1.9zM313.47 344.45h1.9v1.5h-1.9zM377.43 344.45h1.9v1.5h-1.9zM408.64 344.45h1.9v1.5h-1.9zM109.05 341.15h1.9v1.5h-1.9zM526.03 341.15h1.9v1.5h-1.9zM127.44 334.54h1.9v1.5h-1.9zM462.07 334.54h1.9v1.5h-1.9zM312.03 331.23h1.9v1.5h-1.9zM105.07 327.92h1.9v1.5h-1.9zM204.67 327.92h1.9v1.5h-1.9zM311.03 327.92h1.9v1.5h-1.9zM340.06 327.92h1.9v1.5h-1.9zM349.45 327.92h1.9v1.5h-1.9zM388.07 327.92h1.9v1.5h-1.9zM539.06 327.92h1.9v1.5h-1.9zM568.03 327.92h1.9v1.5h-1.9zM195.03 324.62h1.9v1.5h-1.9zM230.67 324.62h1.9v1.5h-1.9zM479.07 324.62h1.9v1.5h-1.9zM501.43 324.62h1.9v1.5h-1.9zM236.63 321.31h1.9v1.5h-1.9zM88.03 314.7h1.9v1.5h-1.9zM95.63 314.7h1.9v1.5h-1.9zM233.45 314.7h1.9v1.5h-1.9zM287.03 314.7h1.9v1.5h-1.9zM293.04 314.7h1.9v1.5h-1.9zM440.05 314.7h1.9v1.5h-1.9zM92.95 311.39h1.9v1.5h-1.9zM109.95 311.39h1.9v1.5h-1.9zM115.11 311.39h1.9v1.5h-1.9zM237.72 311.39h1.9v1.5h-1.9zM268.94 311.39h1.9v1.5h-1.9zM270.28 311.39h1.9v1.5h-1.9zM301.49 311.39h1.9v1.5h-1.9zM325.1 311.39h1.9v1.5h-1.9zM385.78 311.39h1.9v1.5h-1.9zM429.91 311.39h1.9v1.5h-1.9zM436.03 311.39h1.9v1.5h-1.9zM440.25 311.39h1.9v1.5h-1.9zM441.35 311.39h1.9v1.5h-1.9zM475.04 311.39h1.9v1.5h-1.9zM491.64 311.39h1.9v1.5h-1.9zM553.52 311.39h1.9v1.5h-1.9zM89.92 304.78h1.9v1.5h-1.9zM540.55 304.78h1.9v1.5h-1.9zM134.5 301.48h1.9v1.5h-1.9zM507.99 301.48h1.9v1.5h-1.9zM337.07 298.17h1.9v1.5h-1.9zM424.99 298.17h1.9v1.5h-1.9zM539.2 298.17h1.9v1.5h-1.9zM134.1 294.86h1.9v1.5h-1.9zM216.85 294.86h1.9v1.5h-1.9zM233.75 294.86h1.9v1.5h-1.9zM252.73 294.86h1.9v1.5h-1.9zM475.04 294.86h1.9v1.5h-1.9zM527.23 294.86h1.9v1.5h-1.9zM553.12 294.86h1.9v1.5h-1.9zM266 288.25h1.9v1.5h-1.9zM315.8 288.25h1.9v1.5h-1.9zM345.57 288.25h1.9v1.5h-1.9zM564.45 288.25h1.9v1.5h-1.9zM218.44 284.95h1.9v1.5h-1.9zM358.99 284.95h1.9v1.5h-1.9zM455.81 284.95h1.9v1.5h-1.9zM463.11 284.95h1.9v1.5h-1.9zM500.94 284.95h1.9v1.5h-1.9zM265.61 281.64h1.9v1.5h-1.9zM305.86 281.64h1.9v1.5h-1.9zM351.93 281.64h1.9v1.5h-1.9zM383.79 281.64h1.9v1.5h-1.9zM424.05 281.64h1.9v1.5h-1.9zM428.97 281.64h1.9v1.5h-1.9zM455.81 281.64h1.9v1.5h-1.9zM514.35 281.64h1.9v1.5h-1.9zM544.12 281.64h1.9v1.5h-1.9zM548.75 281.64h1.9v1.5h-1.9zM108.9 278.33h1.9v1.5h-1.9zM186.98 278.33h1.9v1.5h-1.9zM225.1 278.33h1.9v1.5h-1.9zM284.59 278.33h1.9v1.5h-1.9zM487.67 275.03h1.9v1.5h-1.9zM117.1 271.72h1.9v1.5h-1.9zM308.1 271.72h1.9v1.5h-1.9zM333.1 271.72h1.9v1.5h-1.9zM358.59 271.72h1.9v1.5h-1.9zM368.93 271.72h1.9v1.5h-1.9zM388.17 271.72h1.9v1.5h-1.9zM443.83 271.72h1.9v1.5h-1.9zM512.37 271.72h1.9v1.5h-1.9zM486.07 268.42h1.9v1.5h-1.9zM86.98 265.11h1.9v1.5h-1.9zM112.88 265.11h1.9v1.5h-1.9zM156.02 265.11h1.9v1.5h-1.9zM168 265.11h1.9v1.5h-1.9zM247.66 265.11h1.9v1.5h-1.9zM299.85 265.11h1.9v1.5h-1.9zM355.91 265.11h1.9v1.5h-1.9zM387.12 265.11h1.9v1.5h-1.9zM425.39 265.11h1.9v1.5h-1.9zM524.84 265.11h1.9v1.5h-1.9zM530.95 265.11h1.9v1.5h-1.9zM540.15 265.11h1.9v1.5h-1.9zM550.09 265.11h1.9v1.5h-1.9zM551.13 265.11h1.9v1.5h-1.9zM96.92 261.8h1.9v1.5h-1.9zM163.72 261.8h1.9v1.5h-1.9zM284.19 261.8h1.9v1.5h-1.9zM295.48 261.8h1.9v1.5h-1.9zM308.8 261.8h1.9v1.5h-1.9zM324.05 261.8h1.9v1.5h-1.9zM494.03 261.8h1.9v1.5h-1.9zM529.21 261.8h1.9v1.5h-1.9zM179.67 258.5h1.9v1.5h-1.9zM183.9 258.5h1.9v1.5h-1.9zM253.68 258.5h1.9v1.5h-1.9zM270.92 258.5h1.9v1.5h-1.9zM294.58 258.5h1.9v1.5h-1.9zM304.77 258.5h1.9v1.5h-1.9zM312.08 258.5h1.9v1.5h-1.9zM335.98 258.5h1.9v1.5h-1.9zM337.57 258.5h1.9v1.5h-1.9zM340.9 258.5h1.9v1.5h-1.9zM366.3 258.5h1.9v1.5h-1.9zM372.91 258.5h1.9v1.5h-1.9zM375.84 258.5h1.9v1.5h-1.9zM406.65 258.5h1.9v1.5h-1.9zM409.74 258.5h1.9v1.5h-1.9zM412.37 258.5h1.9v1.5h-1.9zM415.7 258.5h1.9v1.5h-1.9zM443.33 258.5h1.9v1.5h-1.9zM448.9 258.5h1.9v1.5h-1.9zM476.78 258.5h1.9v1.5h-1.9zM505.61 258.5h1.9v1.5h-1.9zM517.29 258.5h1.9v1.5h-1.9zM108.9 251.89h1.9v1.5h-1.9zM215.51 251.89h1.9v1.5h-1.9zM296.42 251.89h1.9v1.5h-1.9zM389.11 251.89h1.9v1.5h-1.9zM399.75 251.89h1.9v1.5h-1.9zM86.98 248.58h1.9v1.5h-1.9zM269.98 248.58h1.9v1.5h-1.9zM346.37 248.58h1.9v1.5h-1.9zM415 248.58h1.9v1.5h-1.9zM438.02 248.58h1.9v1.5h-1.9zM569.47 248.58h1.9v1.5h-1.9zM113.13 245.27h1.9v1.5h-1.9zM130.52 245.27h1.9v1.5h-1.9zM188.82 245.27h1.9v1.5h-1.9zM423.01 245.27h1.9v1.5h-1.9zM487.12 245.27h1.9v1.5h-1.9zM537.61 245.27h1.9v1.5h-1.9zM556.45 245.27h1.9v1.5h-1.9zM152.04 241.97h1.9v1.5h-1.9zM208.9 241.97h1.9v1.5h-1.9zM230.82 241.97h1.9v1.5h-1.9zM255.67 241.97h1.9v1.5h-1.9zM289.26 241.97h1.9v1.5h-1.9zM292.2 241.97h1.9v1.5h-1.9zM294.18 241.97h1.9v1.5h-1.9zM326.69 241.97h1.9v1.5h-1.9zM352.58 241.97h1.9v1.5h-1.9zM397.76 241.97h1.9v1.5h-1.9zM399.1 241.97h1.9v1.5h-1.9zM467.74 241.97h1.9v1.5h-1.9zM512.91 241.97h1.9v1.5h-1.9zM93.89 232.05h1.9v1.5h-1.9zM110.89 232.05h1.9v1.5h-1.9zM134.5 232.05h1.9v1.5h-1.9zM164.27 232.05h1.9v1.5h-1.9zM173.31 232.05h1.9v1.5h-1.9zM216.05 232.05h1.9v1.5h-1.9zM246.37 232.05h1.9v1.5h-1.9zM252.73 232.05h1.9v1.5h-1.9zM271.57 232.05h1.9v1.5h-1.9zM335.98 232.05h1.9v1.5h-1.9zM326.69 222.13h1.9v1.5h-1.9zM83.9 218.83h1.9v1.5h-1.9zM153.78 218.83h1.9v1.5h-1.9zM204.13 218.83h1.9v1.5h-1.9zM231.31 218.83h1.9v1.5h-1.9zM306.76 218.83h1.9v1.5h-1.9zM338.66 218.83h1.9v1.5h-1.9zM421.91 218.83h1.9v1.5h-1.9zM424.99 218.83h1.9v1.5h-1.9zM432 218.83h1.9v1.5h-1.9zM465.1 218.83h1.9v1.5h-1.9zM489.4 218.83h1.9v1.5h-1.9zM517.93 218.83h1.9v1.5h-1.9zM567.48 218.83h1.9v1.5h-1.9zM126.55 215.52h1.9v1.5h-1.9zM201.84 215.52h1.9v1.5h-1.9zM341.6 212.21h1.9v1.5h-1.9zM393.09 212.21h1.9v1.5h-1.9zM565.5 212.21h1.9v1.5h-1.9zM133.45 208.91h1.9v1.5h-1.9zM135.04 208.91h1.9v1.5h-1.9zM140.11 208.91h1.9v1.5h-1.9zM232.11 208.91h1.9v1.5h-1.9zM341.6 208.91h1.9v1.5h-1.9zM498 208.91h1.9v1.5h-1.9zM503.07 208.91h1.9v1.5h-1.9zM526.18 208.91h1.9v1.5h-1.9zM158.95 205.6h1.9v1.5h-1.9zM226.04 205.6h1.9v1.5h-1.9zM234.79 205.6h1.9v1.5h-1.9zM362.82 205.6h1.9v1.5h-1.9zM380.21 205.6h1.9v1.5h-1.9zM385.13 205.6h1.9v1.5h-1.9zM414.61 205.6h1.9v1.5h-1.9zM481.01 205.6h1.9v1.5h-1.9zM144.09 198.99h1.9v1.5h-1.9zM220.83 198.99h1.9v1.5h-1.9zM273.56 198.99h1.9v1.5h-1.9zM328.03 198.99h1.9v1.5h-1.9zM376.88 198.99h1.9v1.5h-1.9zM465.1 198.99h1.9v1.5h-1.9zM540.79 198.99h1.9v1.5h-1.9zM148.46 195.68h1.9v1.5h-1.9zM261.88 195.68h1.9v1.5h-1.9zM273.96 195.68h1.9v1.5h-1.9zM332.65 195.68h1.9v1.5h-1.9zM333.99 195.68h1.9v1.5h-1.9zM353.53 195.68h1.9v1.5h-1.9zM408.39 195.68h1.9v1.5h-1.9zM409.74 195.68h1.9v1.5h-1.9zM436.92 195.68h1.9v1.5h-1.9zM465.1 195.68h1.9v1.5h-1.9zM526.98 195.68h1.9v1.5h-1.9zM104.93 189.07h1.9v1.5h-1.9zM306.11 189.07h1.9v1.5h-1.9zM406.11 189.07h1.9v1.5h-1.9zM193.64 185.77h1.9v1.5h-1.9zM352.98 185.77h1.9v1.5h-1.9zM481.8 185.77h1.9v1.5h-1.9zM504.41 185.77h1.9v1.5h-1.9zM519.92 185.77h1.9v1.5h-1.9zM549.14 185.77h1.9v1.5h-1.9zM165.31 179.15h1.9v1.5h-1.9zM282.85 179.15h1.9v1.5h-1.9zM291.9 179.15h1.9v1.5h-1.9zM392.04 179.15h1.9v1.5h-1.9zM404.77 179.15h1.9v1.5h-1.9zM129.73 175.85h1.9v1.5h-1.9zM172.22 175.85h1.9v1.5h-1.9zM329.07 175.85h1.9v1.5h-1.9zM398.16 175.85h1.9v1.5h-1.9zM454.22 175.85h1.9v1.5h-1.9zM492.44 175.85h1.9v1.5h-1.9zM513.96 175.85h1.9v1.5h-1.9zM545.57 175.85h1.9v1.5h-1.9zM141.41 172.54h1.9v1.5h-1.9zM149.41 172.54h1.9v1.5h-1.9zM204.92 172.54h1.9v1.5h-1.9zM241.05 172.54h1.9v1.5h-1.9zM256.06 172.54h1.9v1.5h-1.9zM264.66 172.54h1.9v1.5h-1.9zM274.25 172.54h1.9v1.5h-1.9zM275.55 172.54h1.9v1.5h-1.9zM291.5 172.54h1.9v1.5h-1.9zM308.1 172.54h1.9v1.5h-1.9zM338.37 172.54h1.9v1.5h-1.9zM402.13 172.54h1.9v1.5h-1.9zM420.62 172.54h1.9v1.5h-1.9zM444.23 172.54h1.9v1.5h-1.9zM492.98 172.54h1.9v1.5h-1.9zM548.25 172.54h1.9v1.5h-1.9zM559.13 172.54h1.9v1.5h-1.9zM128.14 169.24h1.9v1.5h-1.9zM145.03 169.24h1.9v1.5h-1.9zM194.14 169.24h1.9v1.5h-1.9zM218.04 169.24h1.9v1.5h-1.9zM284.89 169.24h1.9v1.5h-1.9zM377.83 169.24h1.9v1.5h-1.9zM382.2 169.24h1.9v1.5h-1.9zM483.69 169.24h1.9v1.5h-1.9zM494.03 169.24h1.9v1.5h-1.9zM185.64 165.93h1.9v1.5h-1.9zM200.55 165.93h1.9v1.5h-1.9zM240.11 165.93h1.9v1.5h-1.9zM256.96 165.93h1.9v1.5h-1.9zM462.17 165.93h1.9v1.5h-1.9zM463.51 165.93h1.9v1.5h-1.9zM559.13 165.93h1.9v1.5h-1.9zM109.95 162.62h1.9v1.5h-1.9zM169.98 162.62h1.9v1.5h-1.9zM194.93 162.62h1.9v1.5h-1.9zM205.57 162.62h1.9v1.5h-1.9zM248.06 162.62h1.9v1.5h-1.9zM249.65 162.62h1.9v1.5h-1.9zM274.65 162.62h1.9v1.5h-1.9zM335.98 162.62h1.9v1.5h-1.9zM350.89 162.62h1.9v1.5h-1.9zM362.27 162.62h1.9v1.5h-1.9zM381.8 162.62h1.9v1.5h-1.9zM472.11 162.62h1.9v1.5h-1.9zM544.77 162.62h1.9v1.5h-1.9zM552.47 162.62h1.9v1.5h-1.9zM555.8 162.62h1.9v1.5h-1.9zM105.82 159.32h1.9v1.5h-1.9zM269.88 159.32h1.9v1.5h-1.9zM285.78 159.32h1.9v1.5h-1.9zM317.39 159.32h1.9v1.5h-1.9zM336.68 159.32h1.9v1.5h-1.9zM352.58 159.32h1.9v1.5h-1.9zM376.88 159.32h1.9v1.5h-1.9zM401.73 159.32h1.9v1.5h-1.9zM471.71 159.32h1.9v1.5h-1.9zM484.48 159.32h1.9v1.5h-1.9zM486.72 159.32h1.9v1.5h-1.9zM96.03 156.01h1.9v1.5h-1.9zM106.22 156.01h1.9v1.5h-1.9zM109.95 156.01h1.9v1.5h-1.9zM131.47 156.01h1.9v1.5h-1.9zM141.41 156.01h1.9v1.5h-1.9zM188.57 156.01h1.9v1.5h-1.9zM194.93 156.01h1.9v1.5h-1.9zM227.34 156.01h1.9v1.5h-1.9zM252.09 156.01h1.9v1.5h-1.9zM267.59 156.01h1.9v1.5h-1.9zM278.88 156.01h1.9v1.5h-1.9zM312.08 156.01h1.9v1.5h-1.9zM342.89 156.01h1.9v1.5h-1.9zM355.91 156.01h1.9v1.5h-1.9zM365.9 156.01h1.9v1.5h-1.9zM372.26 156.01h1.9v1.5h-1.9zM422.71 156.01h1.9v1.5h-1.9zM433.34 156.01h1.9v1.5h-1.9zM447.81 156.01h1.9v1.5h-1.9zM472.81 156.01h1.9v1.5h-1.9zM494.03 156.01h1.9v1.5h-1.9zM506.4 156.01h1.9v1.5h-1.9zM118.84 152.71h1.9v1.5h-1.9zM143.69 152.71h1.9v1.5h-1.9zM170.63 152.71h1.9v1.5h-1.9zM173.31 152.71h1.9v1.5h-1.9zM189.22 152.71h1.9v1.5h-1.9zM200.95 152.71h1.9v1.5h-1.9zM204.13 152.71h1.9v1.5h-1.9zM218.44 152.71h1.9v1.5h-1.9zM229.08 152.71h1.9v1.5h-1.9zM243.04 152.71h1.9v1.5h-1.9zM245.68 152.71h1.9v1.5h-1.9zM253.68 152.71h1.9v1.5h-1.9zM262.67 152.71h1.9v1.5h-1.9zM278.63 152.71h1.9v1.5h-1.9zM284.19 152.71h1.9v1.5h-1.9zM311.83 152.71h1.9v1.5h-1.9zM353.53 152.71h1.9v1.5h-1.9zM385.78 152.71h1.9v1.5h-1.9zM401.73 152.71h1.9v1.5h-1.9zM430.01 152.71h1.9v1.5h-1.9zM535.87 152.71h1.9v1.5h-1.9zM540.79 152.71h1.9v1.5h-1.9zM542.93 152.71h1.9v1.5h-1.9zM93.89 149.4h1.9v1.5h-1.9zM154.97 149.4h1.9v1.5h-1.9zM204.77 149.4h1.9v1.5h-1.9zM251.69 149.4h1.9v1.5h-1.9zM323.75 149.4h1.9v1.5h-1.9zM415.7 149.4h1.9v1.5h-1.9zM452.88 149.4h1.9v1.5h-1.9zM465.1 149.4h1.9v1.5h-1.9zM508.39 149.4h1.9v1.5h-1.9zM539.85 149.4h1.9v1.5h-1.9zM85.94 142.79h1.9v1.5h-1.9zM97.22 142.79h1.9v1.5h-1.9zM110.49 142.79h1.9v1.5h-1.9zM119.24 142.79h1.9v1.5h-1.9zM121.23 142.79h1.9v1.5h-1.9zM136.78 142.79h1.9v1.5h-1.9zM156.96 142.79h1.9v1.5h-1.9zM173.01 142.79h1.9v1.5h-1.9zM196.82 142.79h1.9v1.5h-1.9zM204.23 142.79h1.9v1.5h-1.9zM221.12 142.79h1.9v1.5h-1.9zM232.41 142.79h1.9v1.5h-1.9zM243.69 142.79h1.9v1.5h-1.9zM250.99 142.79h1.9v1.5h-1.9zM261.63 142.79h1.9v1.5h-1.9zM278.88 142.79h1.9v1.5h-1.9zM283.55 142.79h1.9v1.5h-1.9zM285.54 142.79h1.9v1.5h-1.9zM291.5 142.79h1.9v1.5h-1.9zM304.77 142.79h1.9v1.5h-1.9zM306.76 142.79h1.9v1.5h-1.9zM316.05 142.79h1.9v1.5h-1.9zM332.65 142.79h1.9v1.5h-1.9zM337.32 142.79h1.9v1.5h-1.9zM340.65 142.79h1.9v1.5h-1.9zM344.63 142.79h1.9v1.5h-1.9zM349.3 142.79h1.9v1.5h-1.9zM358.59 142.79h1.9v1.5h-1.9zM360.58 142.79h1.9v1.5h-1.9zM363.22 142.79h1.9v1.5h-1.9zM367.19 142.79h1.9v1.5h-1.9zM371.17 142.79h1.9v1.5h-1.9zM373.85 142.79h1.9v1.5h-1.9zM379.17 142.79h1.9v1.5h-1.9zM381.8 142.79h1.9v1.5h-1.9zM383.79 142.79h1.9v1.5h-1.9zM388.46 142.79h1.9v1.5h-1.9zM391.79 142.79h1.9v1.5h-1.9zM393.78 142.79h1.9v1.5h-1.9zM395.77 142.79h1.9v1.5h-1.9zM398.4 142.79h1.9v1.5h-1.9zM408.44 142.79h1.9v1.5h-1.9zM411.03 142.79h1.9v1.5h-1.9zM415.4 142.79h1.9v1.5h-1.9zM427.63 142.79h1.9v1.5h-1.9zM436.28 142.79h1.9v1.5h-1.9zM446.91 142.79h1.9v1.5h-1.9zM448.9 142.79h1.9v1.5h-1.9zM477.43 142.79h1.9v1.5h-1.9zM512.61 142.79h1.9v1.5h-1.9zM533.64 142.79h1.9v1.5h-1.9zM553.82 142.79h1.9v1.5h-1.9zM93.35 136.18h1.9v1.5h-1.9zM113.82 136.18h1.9v1.5h-1.9zM148.46 136.18h1.9v1.5h-1.9zM155.62 136.18h1.9v1.5h-1.9zM204.52 136.18h1.9v1.5h-1.9zM238.77 136.18h1.9v1.5h-1.9zM240.36 136.18h1.9v1.5h-1.9zM243.69 136.18h1.9v1.5h-1.9zM250.35 136.18h1.9v1.5h-1.9zM259.64 136.18h1.9v1.5h-1.9zM364.56 136.18h1.9v1.5h-1.9zM381.16 136.18h1.9v1.5h-1.9zM385.13 136.18h1.9v1.5h-1.9zM423.01 136.18h1.9v1.5h-1.9zM459.78 136.18h1.9v1.5h-1.9zM463.76 136.18h1.9v1.5h-1.9zM464.8 136.18h1.9v1.5h-1.9zM511.97 136.18h1.9v1.5h-1.9zM516.34 136.18h1.9v1.5h-1.9zM80.32 132.87h1.9v1.5h-1.9zM82.31 132.87h1.9v1.5h-1.9zM104.93 132.87h1.9v1.5h-1.9zM114.87 132.87h1.9v1.5h-1.9zM123.51 132.87h1.9v1.5h-1.9zM196.52 132.87h1.9v1.5h-1.9zM201.84 132.87h1.9v1.5h-1.9zM205.82 132.87h1.9v1.5h-1.9zM210.49 132.87h1.9v1.5h-1.9zM212.23 132.87h1.9v1.5h-1.9zM241.7 132.87h1.9v1.5h-1.9zM246.37 132.87h1.9v1.5h-1.9zM252.98 132.87h1.9v1.5h-1.9zM283.55 132.87h1.9v1.5h-1.9zM304.12 132.87h1.9v1.5h-1.9zM309.44 132.87h1.9v1.5h-1.9zM320.08 132.87h1.9v1.5h-1.9zM326.04 132.87h1.9v1.5h-1.9zM341.99 132.87h1.9v1.5h-1.9zM344.63 132.87h1.9v1.5h-1.9zM349.95 132.87h1.9v1.5h-1.9zM365.9 132.87h1.9v1.5h-1.9zM367.89 132.87h1.9v1.5h-1.9zM369.88 132.87h1.9v1.5h-1.9zM381.8 132.87h1.9v1.5h-1.9zM402.38 132.87h1.9v1.5h-1.9zM418.63 132.87h1.9v1.5h-1.9zM433.24 132.87h1.9v1.5h-1.9zM437.62 132.87h1.9v1.5h-1.9zM463.76 132.87h1.9v1.5h-1.9zM472.51 132.87h1.9v1.5h-1.9zM530.95 132.87h1.9v1.5h-1.9zM559.78 132.87h1.9v1.5h-1.9zM96.28 129.56h1.9v1.5h-1.9zM134.1 129.56h1.9v1.5h-1.9zM144.09 129.56h1.9v1.5h-1.9zM148.46 129.56h1.9v1.5h-1.9zM152.99 129.56h1.9v1.5h-1.9zM166.9 129.56h1.9v1.5h-1.9zM175.95 129.56h1.9v1.5h-1.9zM244.38 129.56h1.9v1.5h-1.9zM252.09 129.56h1.9v1.5h-1.9zM256.31 129.56h1.9v1.5h-1.9zM265.61 129.56h1.9v1.5h-1.9zM276.89 129.56h1.9v1.5h-1.9zM298.16 129.56h1.9v1.5h-1.9zM309.44 129.56h1.9v1.5h-1.9zM320.72 129.56h1.9v1.5h-1.9zM327.38 129.56h1.9v1.5h-1.9zM339.31 129.56h1.9v1.5h-1.9zM348.6 129.56h1.9v1.5h-1.9zM353.28 129.56h1.9v1.5h-1.9zM359.24 129.56h1.9v1.5h-1.9zM368.53 129.56h1.9v1.5h-1.9zM378.47 129.56h1.9v1.5h-1.9zM386.48 129.56h1.9v1.5h-1.9zM399.1 129.56h1.9v1.5h-1.9zM468.13 129.56h1.9v1.5h-1.9zM470.82 129.56h1.9v1.5h-1.9zM474.79 129.56h1.9v1.5h-1.9zM491.39 129.56h1.9v1.5h-1.9zM500.44 129.56h1.9v1.5h-1.9zM507.05 129.56h1.9v1.5h-1.9zM511.02 129.56h1.9v1.5h-1.9zM534.53 129.56h1.9v1.5h-1.9zM570.02 129.56h1.9v1.5h-1.9zM81.02 126.26h1.9v1.5h-1.9zM82.06 126.26h1.9v1.5h-1.9zM88.33 126.26h1.9v1.5h-1.9zM97.62 126.26h1.9v1.5h-1.9zM99.61 126.26h1.9v1.5h-1.9zM101.6 126.26h1.9v1.5h-1.9zM103.83 126.26h1.9v1.5h-1.9zM111.54 126.26h1.9v1.5h-1.9zM113.52 126.26h1.9v1.5h-1.9zM116.85 126.26h1.9v1.5h-1.9zM118.44 126.26h1.9v1.5h-1.9zM127.49 126.26h1.9v1.5h-1.9zM146.47 126.26h1.9v1.5h-1.9zM150.3 126.26h1.9v1.5h-1.9zM152.44 126.26h1.9v1.5h-1.9zM154.73 126.26h1.9v1.5h-1.9zM156.02 126.26h1.9v1.5h-1.9zM162.03 126.26h1.9v1.5h-1.9zM163.62 126.26h1.9v1.5h-1.9zM173.71 126.26h1.9v1.5h-1.9zM175.3 126.26h1.9v1.5h-1.9zM178.63 126.26h1.9v1.5h-1.9zM190.96 126.26h1.9v1.5h-1.9zM195.23 126.26h1.9v1.5h-1.9zM218.84 126.26h1.9v1.5h-1.9zM228.43 126.26h1.9v1.5h-1.9zM230.42 126.26h1.9v1.5h-1.9zM233.05 126.26h1.9v1.5h-1.9zM235.04 126.26h1.9v1.5h-1.9zM237.72 126.26h1.9v1.5h-1.9zM239.07 126.26h1.9v1.5h-1.9zM241.05 126.26h1.9v1.5h-1.9zM246.37 126.26h1.9v1.5h-1.9zM254.32 126.26h1.9v1.5h-1.9zM260.29 126.26h1.9v1.5h-1.9zM266.25 126.26h1.9v1.5h-1.9zM271.57 126.26h1.9v1.5h-1.9zM273.56 126.26h1.9v1.5h-1.9zM278.23 126.26h1.9v1.5h-1.9zM279.57 126.26h1.9v1.5h-1.9zM281.56 126.26h1.9v1.5h-1.9zM283.55 126.26h1.9v1.5h-1.9zM285.54 126.26h1.9v1.5h-1.9zM287.52 126.26h1.9v1.5h-1.9zM289.51 126.26h1.9v1.5h-1.9zM291.5 126.26h1.9v1.5h-1.9zM296.82 126.26h1.9v1.5h-1.9zM304.12 126.26h1.9v1.5h-1.9zM314.06 126.26h1.9v1.5h-1.9zM315.41 126.26h1.9v1.5h-1.9zM322.06 126.26h1.9v1.5h-1.9zM324.05 126.26h1.9v1.5h-1.9zM331.36 126.26h1.9v1.5h-1.9zM339.96 126.26h1.9v1.5h-1.9zM341.99 126.26h1.9v1.5h-1.9zM344.63 126.26h1.9v1.5h-1.9zM346.37 126.26h1.9v1.5h-1.9zM349 126.26h1.9v1.5h-1.9zM354.57 126.26h1.9v1.5h-1.9zM359.89 126.26h1.9v1.5h-1.9zM364.56 126.26h1.9v1.5h-1.9zM370.52 126.26h1.9v1.5h-1.9zM377.83 126.26h1.9v1.5h-1.9zM383.15 126.26h1.9v1.5h-1.9zM390.45 126.26h1.9v1.5h-1.9zM396.42 126.26h1.9v1.5h-1.9zM398.4 126.26h1.9v1.5h-1.9zM400.39 126.26h1.9v1.5h-1.9zM407.7 126.26h1.9v1.5h-1.9zM409.74 126.26h1.9v1.5h-1.9zM411.03 126.26h1.9v1.5h-1.9zM415.4 126.26h1.9v1.5h-1.9zM426.98 126.26h1.9v1.5h-1.9zM439.31 126.26h1.9v1.5h-1.9zM443.33 126.26h1.9v1.5h-1.9zM453.52 126.26h1.9v1.5h-1.9zM467.49 126.26h1.9v1.5h-1.9zM468.83 126.26h1.9v1.5h-1.9zM474.15 126.26h1.9v1.5h-1.9zM491.64 126.26h1.9v1.5h-1.9zM493.38 126.26h1.9v1.5h-1.9zM508.39 126.26h1.9v1.5h-1.9zM521.26 126.26h1.9v1.5h-1.9zM528.57 126.26h1.9v1.5h-1.9zM533.24 126.26h1.9v1.5h-1.9zM547.85 126.26h1.9v1.5h-1.9zM558.44 126.26h1.9v1.5h-1.9zM79.93 122.95h1.9v1.5h-1.9zM128.14 122.95h1.9v1.5h-1.9zM160.04 122.95h1.9v1.5h-1.9zM166.4 122.95h1.9v1.5h-1.9zM169.98 122.95h1.9v1.5h-1.9zM192.15 122.95h1.9v1.5h-1.9zM196.27 122.95h1.9v1.5h-1.9zM198.51 122.95h1.9v1.5h-1.9zM204.13 122.95h1.9v1.5h-1.9zM221.12 122.95h1.9v1.5h-1.9zM228.43 122.95h1.9v1.5h-1.9zM234.39 122.95h1.9v1.5h-1.9zM243.69 122.95h1.9v1.5h-1.9zM247.66 122.95h1.9v1.5h-1.9zM249.65 122.95h1.9v1.5h-1.9zM269.58 122.95h1.9v1.5h-1.9zM271.57 122.95h1.9v1.5h-1.9zM280.86 122.95h1.9v1.5h-1.9zM282.85 122.95h1.9v1.5h-1.9zM284.89 122.95h1.9v1.5h-1.9zM288.87 122.95h1.9v1.5h-1.9zM310.78 122.95h1.9v1.5h-1.9zM326.04 122.95h1.9v1.5h-1.9zM336.68 122.95h1.9v1.5h-1.9zM351.29 122.95h1.9v1.5h-1.9zM364.56 122.95h1.9v1.5h-1.9zM366.55 122.95h1.9v1.5h-1.9zM389.11 122.95h1.9v1.5h-1.9zM395.07 122.95h1.9v1.5h-1.9zM397.76 122.95h1.9v1.5h-1.9zM411.72 122.95h1.9v1.5h-1.9zM417.04 122.95h1.9v1.5h-1.9zM423.9 122.95h1.9v1.5h-1.9zM451.29 122.95h1.9v1.5h-1.9zM458.19 122.95h1.9v1.5h-1.9zM466.15 122.95h1.9v1.5h-1.9zM475.44 122.95h1.9v1.5h-1.9zM482.35 122.95h1.9v1.5h-1.9zM496.71 122.95h1.9v1.5h-1.9zM501.33 122.95h1.9v1.5h-1.9zM515.94 122.95h1.9v1.5h-1.9zM525.24 122.95h1.9v1.5h-1.9zM547.16 122.95h1.9v1.5h-1.9zM551.13 122.95h1.9v1.5h-1.9zM564.45 122.95h1.9v1.5h-1.9zM80.32 113.03h1.9v1.5h-1.9zM89.92 113.03h1.9v1.5h-1.9zM93.59 113.03h1.9v1.5h-1.9zM99.86 113.03h1.9v1.5h-1.9zM114.22 113.03h1.9v1.5h-1.9zM133.06 113.03h1.9v1.5h-1.9zM143.05 113.03h1.9v1.5h-1.9zM155.37 113.03h1.9v1.5h-1.9zM159.35 113.03h1.9v1.5h-1.9zM163.72 113.03h1.9v1.5h-1.9zM199.85 113.03h1.9v1.5h-1.9zM204.52 113.03h1.9v1.5h-1.9zM223.36 113.03h1.9v1.5h-1.9zM232.41 113.03h1.9v1.5h-1.9zM239.07 113.03h1.9v1.5h-1.9zM247.66 113.03h1.9v1.5h-1.9zM275.55 113.03h1.9v1.5h-1.9zM277.58 113.03h1.9v1.5h-1.9zM280.22 113.03h1.9v1.5h-1.9zM286.18 113.03h1.9v1.5h-1.9zM288.17 113.03h1.9v1.5h-1.9zM307.45 113.03h1.9v1.5h-1.9zM310.78 113.03h1.9v1.5h-1.9zM317.39 113.03h1.9v1.5h-1.9zM322.71 113.03h1.9v1.5h-1.9zM333.1 113.03h1.9v1.5h-1.9zM342.64 113.03h1.9v1.5h-1.9zM346.62 113.03h1.9v1.5h-1.9zM350.34 113.03h1.9v1.5h-1.9zM356.56 113.03h1.9v1.5h-1.9zM359.24 113.03h1.9v1.5h-1.9zM362.57 113.03h1.9v1.5h-1.9zM373.16 113.03h1.9v1.5h-1.9zM374.5 113.03h1.9v1.5h-1.9zM385.13 113.03h1.9v1.5h-1.9zM396.42 113.03h1.9v1.5h-1.9zM425.39 113.03h1.9v1.5h-1.9zM439.31 113.03h1.9v1.5h-1.9zM440.9 113.03h1.9v1.5h-1.9zM442.94 113.03h1.9v1.5h-1.9zM445.97 113.03h1.9v1.5h-1.9zM448.2 113.03h1.9v1.5h-1.9zM450.24 113.03h1.9v1.5h-1.9zM451.53 113.03h1.9v1.5h-1.9zM455.51 113.03h1.9v1.5h-1.9zM462.82 113.03h1.9v1.5h-1.9zM475.44 113.03h1.9v1.5h-1.9zM477.43 113.03h1.9v1.5h-1.9zM483.44 113.03h1.9v1.5h-1.9zM485.43 113.03h1.9v1.5h-1.9zM487.42 113.03h1.9v1.5h-1.9zM497.36 113.03h1.9v1.5h-1.9zM524.59 113.03h1.9v1.5h-1.9zM555.41 113.03h1.9v1.5h-1.9zM559.13 113.03h1.9v1.5h-1.9zM565.1 113.03h1.9v1.5h-1.9zM569.72 113.03h1.9v1.5h-1.9zM571.71 113.03h1.9v1.5h-1.9zM79.43 109.73h1.9v1.5h-1.9zM120.18 109.73h1.9v1.5h-1.9zM122.82 109.73h1.9v1.5h-1.9zM127.09 109.73h1.9v1.5h-1.9zM149.8 109.73h1.9v1.5h-1.9zM175 109.73h1.9v1.5h-1.9zM196.82 109.73h1.9v1.5h-1.9zM198.51 109.73h1.9v1.5h-1.9zM200.55 109.73h1.9v1.5h-1.9zM203.18 109.73h1.9v1.5h-1.9zM207.16 109.73h1.9v1.5h-1.9zM218.84 109.73h1.9v1.5h-1.9zM257.65 109.73h1.9v1.5h-1.9zM260.98 109.73h1.9v1.5h-1.9zM270.28 109.73h1.9v1.5h-1.9zM271.97 109.73h1.9v1.5h-1.9zM273.86 109.73h1.9v1.5h-1.9zM275.99 109.73h1.9v1.5h-1.9zM280.47 109.73h1.9v1.5h-1.9zM289.76 109.73h1.9v1.5h-1.9zM293.24 109.73h1.9v1.5h-1.9zM296.17 109.73h1.9v1.5h-1.9zM301.49 109.73h1.9v1.5h-1.9zM309.44 109.73h1.9v1.5h-1.9zM311.43 109.73h1.9v1.5h-1.9zM316.75 109.73h1.9v1.5h-1.9zM325.39 109.73h1.9v1.5h-1.9zM326.69 109.73h1.9v1.5h-1.9zM328.28 109.73h1.9v1.5h-1.9zM333.6 109.73h1.9v1.5h-1.9zM339.31 109.73h1.9v1.5h-1.9zM347.26 109.73h1.9v1.5h-1.9zM353.92 109.73h1.9v1.5h-1.9zM387.12 109.73h1.9v1.5h-1.9zM401.09 109.73h1.9v1.5h-1.9zM423.65 109.73h1.9v1.5h-1.9zM430.56 109.73h1.9v1.5h-1.9zM432.3 109.73h1.9v1.5h-1.9zM435.63 109.73h1.9v1.5h-1.9zM437.62 109.73h1.9v1.5h-1.9zM448.9 109.73h1.9v1.5h-1.9zM454.86 109.73h1.9v1.5h-1.9zM458.44 109.73h1.9v1.5h-1.9zM459.78 109.73h1.9v1.5h-1.9zM470.12 109.73h1.9v1.5h-1.9zM477.82 109.73h1.9v1.5h-1.9zM483.69 109.73h1.9v1.5h-1.9zM491.14 109.73h1.9v1.5h-1.9zM527.23 109.73h1.9v1.5h-1.9zM531.9 109.73h1.9v1.5h-1.9zM533.89 109.73h1.9v1.5h-1.9zM555.11 109.73h1.9v1.5h-1.9zM570.42 109.73h1.9v1.5h-1.9zM78.34 96.5h1.9v1.5h-1.9zM82.31 96.5h1.9v1.5h-1.9zM94.29 96.5h1.9v1.5h-1.9zM127.49 96.5h1.9v1.5h-1.9zM137.03 96.5h1.9v1.5h-1.9zM166.9 96.5h1.9v1.5h-1.9zM218.44 96.5h1.9v1.5h-1.9zM235.98 96.5h1.9v1.5h-1.9zM300.79 96.5h1.9v1.5h-1.9zM302.78 96.5h1.9v1.5h-1.9zM304.77 96.5h1.9v1.5h-1.9zM306.76 96.5h1.9v1.5h-1.9zM314.76 96.5h1.9v1.5h-1.9zM329.37 96.5h1.9v1.5h-1.9zM390.45 96.5h1.9v1.5h-1.9zM398.16 96.5h1.9v1.5h-1.9zM460.18 96.5h1.9v1.5h-1.9zM491.39 96.5h1.9v1.5h-1.9zM506 96.5h1.9v1.5h-1.9zM539.85 96.5h1.9v1.5h-1.9zM567.09 96.5h1.9v1.5h-1.9zM569.07 96.5h1.9v1.5h-1.9zM81.42 79.97h1.9v1.5h-1.9zM86.34 79.97h1.9v1.5h-1.9zM90.96 79.97h1.9v1.5h-1.9zM93.59 79.97h1.9v1.5h-1.9zM96.28 79.97h1.9v1.5h-1.9zM117.9 79.97h1.9v1.5h-1.9zM119.24 79.97h1.9v1.5h-1.9zM136.14 79.97h1.9v1.5h-1.9zM138.77 79.97h1.9v1.5h-1.9zM147.42 79.97h1.9v1.5h-1.9zM156.02 79.97h1.9v1.5h-1.9zM158.7 79.97h1.9v1.5h-1.9zM162.03 79.97h1.9v1.5h-1.9zM168 79.97h1.9v1.5h-1.9zM172.62 79.97h1.9v1.5h-1.9zM175 79.97h1.9v1.5h-1.9zM181.91 79.97h1.9v1.5h-1.9zM190.16 79.97h1.9v1.5h-1.9zM198.91 79.97h1.9v1.5h-1.9zM201.59 79.97h1.9v1.5h-1.9zM226.84 79.97h1.9v1.5h-1.9zM234.39 79.97h1.9v1.5h-1.9zM235.74 79.97h1.9v1.5h-1.9zM241.95 79.97h1.9v1.5h-1.9zM243.69 79.97h1.9v1.5h-1.9zM245.68 79.97h1.9v1.5h-1.9zM252.98 79.97h1.9v1.5h-1.9zM253.93 79.97h1.9v1.5h-1.9zM259.64 79.97h1.9v1.5h-1.9zM262.67 79.97h1.9v1.5h-1.9zM264.02 79.97h1.9v1.5h-1.9zM282.21 79.97h1.9v1.5h-1.9zM284.89 79.97h1.9v1.5h-1.9zM287.52 79.97h1.9v1.5h-1.9zM289.51 79.97h1.9v1.5h-1.9zM294.58 79.97h1.9v1.5h-1.9zM305.47 79.97h1.9v1.5h-1.9zM314.76 79.97h1.9v1.5h-1.9zM316.75 79.97h1.9v1.5h-1.9zM318.74 79.97h1.9v1.5h-1.9zM320.72 79.97h1.9v1.5h-1.9zM322.71 79.97h1.9v1.5h-1.9zM324.7 79.97h1.9v1.5h-1.9zM330.66 79.97h1.9v1.5h-1.9zM332 79.97h1.9v1.5h-1.9zM333.35 79.97h1.9v1.5h-1.9zM338.66 79.97h1.9v1.5h-1.9zM340.65 79.97h1.9v1.5h-1.9zM342.64 79.97h1.9v1.5h-1.9zM344.63 79.97h1.9v1.5h-1.9zM350.59 79.97h1.9v1.5h-1.9zM352.58 79.97h1.9v1.5h-1.9zM354.57 79.97h1.9v1.5h-1.9zM359.89 79.97h1.9v1.5h-1.9zM362.57 79.97h1.9v1.5h-1.9zM364.56 79.97h1.9v1.5h-1.9zM366.55 79.97h1.9v1.5h-1.9zM371.17 79.97h1.9v1.5h-1.9zM373.16 79.97h1.9v1.5h-1.9zM375.84 79.97h1.9v1.5h-1.9zM377.83 79.97h1.9v1.5h-1.9zM379.82 79.97h1.9v1.5h-1.9zM381.8 79.97h1.9v1.5h-1.9zM388.86 79.97h1.9v1.5h-1.9zM398.16 79.97h1.9v1.5h-1.9zM407.45 79.97h1.9v1.5h-1.9zM413.71 79.97h1.9v1.5h-1.9zM427.38 79.97h1.9v1.5h-1.9zM440.25 79.97h1.9v1.5h-1.9zM446.91 79.97h1.9v1.5h-1.9zM448.2 79.97h1.9v1.5h-1.9zM455.51 79.97h1.9v1.5h-1.9zM461.92 79.97h1.9v1.5h-1.9zM471.71 79.97h1.9v1.5h-1.9zM479.42 79.97h1.9v1.5h-1.9zM490.75 79.97h1.9v1.5h-1.9zM492.73 79.97h1.9v1.5h-1.9zM503.62 79.97h1.9v1.5h-1.9zM515.94 79.97h1.9v1.5h-1.9zM529.61 79.97h1.9v1.5h-1.9zM541.84 79.97h1.9v1.5h-1.9zM543.43 79.97h1.9v1.5h-1.9zM559.38 79.97h1.9v1.5h-1.9zM561.12 79.97h1.9v1.5h-1.9zM569.47 79.97h1.9v1.5h-1.9zM81.67 66.75h1.9v1.5h-1.9zM83.01 66.75h1.9v1.5h-1.9zM92.95 66.75h1.9v1.5h-1.9zM97.22 66.75h1.9v1.5h-1.9zM104.63 66.75h1.9v1.5h-1.9zM108.9 66.75h1.9v1.5h-1.9zM112.88 66.75h1.9v1.5h-1.9zM129.08 66.75h1.9v1.5h-1.9zM158.7 66.75h1.9v1.5h-1.9zM174.21 66.75h1.9v1.5h-1.9zM181.91 66.75h1.9v1.5h-1.9zM200.95 66.75h1.9v1.5h-1.9zM221.37 66.75h1.9v1.5h-1.9zM231.31 66.75h1.9v1.5h-1.9zM259.64 66.75h1.9v1.5h-1.9zM266.95 66.75h1.9v1.5h-1.9zM280.47 66.75h1.9v1.5h-1.9zM293.79 66.75h1.9v1.5h-1.9zM306.11 66.75h1.9v1.5h-1.9zM308.1 66.75h1.9v1.5h-1.9zM310.78 66.75h1.9v1.5h-1.9zM312.77 66.75h1.9v1.5h-1.9zM325.39 66.75h1.9v1.5h-1.9zM337.32 66.75h1.9v1.5h-1.9zM345.27 66.75h1.9v1.5h-1.9zM347.26 66.75h1.9v1.5h-1.9zM351.93 66.75h1.9v1.5h-1.9zM363.22 66.75h1.9v1.5h-1.9zM365.2 66.75h1.9v1.5h-1.9zM366.55 66.75h1.9v1.5h-1.9zM394.68 66.75h1.9v1.5h-1.9zM406.11 66.75h1.9v1.5h-1.9zM411.72 66.75h1.9v1.5h-1.9zM413.02 66.75h1.9v1.5h-1.9zM416.35 66.75h1.9v1.5h-1.9zM427.63 66.75h1.9v1.5h-1.9zM434.29 66.75h1.9v1.5h-1.9zM443.83 66.75h1.9v1.5h-1.9zM445.57 66.75h1.9v1.5h-1.9zM450.89 66.75h1.9v1.5h-1.9zM454.86 66.75h1.9v1.5h-1.9zM463.21 66.75h1.9v1.5h-1.9zM464.8 66.75h1.9v1.5h-1.9zM467.24 66.75h1.9v1.5h-1.9zM480.11 66.75h1.9v1.5h-1.9zM484.09 66.75h1.9v1.5h-1.9zM497.36 66.75h1.9v1.5h-1.9zM498.7 66.75h1.9v1.5h-1.9zM503.62 66.75h1.9v1.5h-1.9zM518.63 66.75h1.9v1.5h-1.9zM523.95 66.75h1.9v1.5h-1.9zM539.85 66.75h1.9v1.5h-1.9zM548.5 66.75h1.9v1.5h-1.9zM550.49 66.75h1.9v1.5h-1.9zM552.23 66.75h1.9v1.5h-1.9zM556.75 66.75h1.9v1.5h-1.9zM558.44 66.75h1.9v1.5h-1.9zM560.18 66.75h1.9v1.5h-1.9zM407.4 122.95h1.9v1.5h-1.9zM408.1 129.56h1.9v1.5h-1.9z" fill="#000"/>
<rect x="59.8" y="47.8" width="532.4" height="532.4" fill="none" stroke="#000" stroke-width="0.75"/>
<path d="M126.7 580.2H524.3M126.7 580.2v6M226.1 580.2v6M325.5 580.2v6M424.9 580.2v6M524.3 580.2v6" stroke="#000" stroke-width="0.75" fill="none" stroke-linecap="round"/>
<text x="116.2 119.2 125.2 131.2" y="601.7" font-size="10.67">-400</text>
<text x="215.6 218.6 224.6 230.6" y="601.7" font-size="10.67">-200</text>
<text x="322.5" y="601.7" font-size="10.67">0</text>
<text x="415.9 421.9 427.9" y="601.7" font-size="10.67">200</text>
<text x="515.3 521.3 527.3" y="601.7" font-size="10.67">400</text>
<path d="M59.8 563.4V67.5M59.8 563.4h-6M59.8 398.1h-6M59.8 232.8h-6M59.8 67.5h-6" stroke="#000" stroke-width="0.75" fill="none" stroke-linecap="round"/>
<text transform="translate(45.3 563.4) rotate(-90) scale(1 1.04)" x="-6 0" font-size="10.67">85</text>
<text transform="translate(45.3 398.1) rotate(-90) scale(1 1.04)" x="-6 0" font-size="10.67">90</text>
<text transform="translate(45.3 232.8) rotate(-90) scale(1 1.04)" x="-6 0" font-size="10.67">95</text>
<text transform="translate(45.3 67.5) rotate(-90) scale(1 1.04)" x="-9 -3 3" font-size="10.67">100</text>
<text transform="translate(323.7 31.75) scale(1 1.06)" text-anchor="middle" font-size="21.6" font-weight="bold">Top hit for each peak</text>
<text x="326" y="625.6" text-anchor="middle" font-size="16">Distance to peak summit</text>
<text transform="translate(21.9 314.6) rotate(-90) scale(0.985 1.085)" text-anchor="middle" font-size="16">Motif score</text>
<clipPath id="c1"><rect x="59.8" y="47.8" width="532.4" height="532.4"/></clipPath>
<line x1="59.8" y1="269.17" x2="592.2" y2="269.17" stroke="#cd2626" stroke-width="2.2" stroke-dasharray="9 9" stroke-linecap="round" clip-path="url(#c1)"/>
<line x1="320.28" y1="580.2" x2="320.28" y2="47.8" stroke="#006400" stroke-width="2.2" stroke-dasharray="9 9" stroke-linecap="round" clip-path="url(#c1)"/>
<line x1="330.72" y1="580.2" x2="330.72" y2="47.8" stroke="#006400" stroke-width="2.2" stroke-dasharray="9 9" stroke-linecap="round" clip-path="url(#c1)"/>
<rect x="699.8" y="47.8" width="532.4" height="532.4" fill="none" stroke="#000" stroke-width="0.75"/>
<path d="M751.3 580.2H1179.7M751.3 580.2v6M858.4 580.2v6M965.5 580.2v6M1072.6 580.2v6M1179.7 580.2v6" stroke="#000" stroke-width="0.75" fill="none" stroke-linecap="round"/>
<text x="740.8 743.8 749.8 755.8" y="601.7" font-size="10.67">-400</text>
<text x="847.9 850.9 856.9 862.9" y="601.7" font-size="10.67">-200</text>
<text x="962.5" y="601.7" font-size="10.67">0</text>
<text x="1063.6 1069.6 1075.6" y="601.7" font-size="10.67">200</text>
<text x="1170.7 1176.7 1182.7" y="601.7" font-size="10.67">400</text>
<path d="M699.8 548V47.5M699.8 548h-6M699.8 476.5h-6M699.8 405h-6M699.8 333.5h-6M699.8 262h-6M699.8 190.5h-6M699.8 119h-6M699.8 47.5h-6" stroke="#000" stroke-width="0.75" fill="none" stroke-linecap="round"/>
<text transform="translate(685.3 548) rotate(-90) scale(1 1.04)" x="-6 0" font-size="10.67">86</text>
<text transform="translate(685.3 476.5) rotate(-90) scale(1 1.04)" x="-6 0" font-size="10.67">88</text>
<text transform="translate(685.3 405) rotate(-90) scale(1 1.04)" x="-6 0" font-size="10.67">90</text>
<text transform="translate(685.3 333.5) rotate(-90) scale(1 1.04)" x="-6 0" font-size="10.67">92</text>
<text transform="translate(685.3 262) rotate(-90) scale(1 1.04)" x="-6 0" font-size="10.67">94</text>
<text transform="translate(685.3 190.5) rotate(-90) scale(1 1.04)" x="-6 0" font-size="10.67">96</text>
<text transform="translate(685.3 119) rotate(-90) scale(1 1.04)" x="-6 0" font-size="10.67">98</text>
<text transform="translate(685.3 47.5) rotate(-90) scale(1 1.04)" x="-9 -3 3" font-size="10.67">100</text>
<text transform="translate(966.65 31.75) scale(1 1.06)" text-anchor="middle" font-size="21.6" font-weight="bold">Density heat map for the top hits</text>
<text x="966" y="625.6" text-anchor="middle" font-size="16">Distance to peak summit</text>
<text transform="translate(661.9 314.6) rotate(-90) scale(0.985 1.085)" text-anchor="middle" font-size="16">Motif score</text>
<line x1="851.3" y1="48.3" x2="851.3" y2="579.7" stroke="#fff" stroke-width="1"/>
<line x1="1048.5" y1="48.3" x2="1048.5" y2="579.7" stroke="#fff" stroke-width="1"/>
<clipPath id="c2"><rect x="699.8" y="47.8" width="532.4" height="532.4"/></clipPath>
<line x1="699.8" y1="265.57" x2="1232.2" y2="265.57" stroke="#cd2626" stroke-width="1.5" stroke-dasharray="6 6" stroke-linecap="round" clip-path="url(#c2)"/>
<line x1="959.88" y1="580.2" x2="959.88" y2="47.8" stroke="#006400" stroke-width="1.5" stroke-dasharray="6 6" stroke-linecap="round" clip-path="url(#c2)"/>
<line x1="971.12" y1="580.2" x2="971.12" y2="47.8" stroke="#006400" stroke-width="1.5" stroke-dasharray="6 6" stroke-linecap="round" clip-path="url(#c2)"/>
<rect x="59.8" y="687.8" width="532.4" height="532.4" fill="none" stroke="#000" stroke-width="0.75"/>
<path d="M117.2 1220.2H531.95M117.2 1220.2v6M255.45 1220.2v6M393.7 1220.2v6M531.95 1220.2v6" stroke="#000" stroke-width="0.75" fill="none" stroke-linecap="round"/>
<text x="111.2 117.2" y="1241.7" font-size="10.67">85</text>
<text x="249.45 255.45" y="1241.7" font-size="10.67">90</text>
<text x="387.7 393.7" y="1241.7" font-size="10.67">95</text>
<text x="522.95 528.95 534.95" y="1241.7" font-size="10.67">100</text>
<path d="M59.8 1200.2V763.4M59.8 1200.2h-6M59.8 1112.84h-6M59.8 1025.48h-6M59.8 938.12h-6M59.8 850.76h-6M59.8 763.4h-6" stroke="#000" stroke-width="0.75" fill="none" stroke-linecap="round"/>
<text transform="translate(45.3 1200.2) rotate(-90) scale(1 1.04)" x="-10.5 -4.5 -1.5 4.5" font-size="10.67">0.00</text>
<text transform="translate(45.3 1112.84) rotate(-90) scale(1 1.04)" x="-10.5 -4.5 -1.5 4.5" font-size="10.67">0.05</text>
<text transform="translate(45.3 1025.48) rotate(-90) scale(1 1.04)" x="-10.5 -4.5 -1.5 4.5" font-size="10.67">0.10</text>
<text transform="translate(45.3 938.12) rotate(-90) scale(1 1.04)" x="-10.5 -4.5 -1.5 4.5" font-size="10.67">0.15</text>
<text transform="translate(45.3 850.76) rotate(-90) scale(1 1.04)" x="-10.5 -4.5 -1.5 4.5" font-size="10.67">0.20</text>
<text transform="translate(45.3 763.4) rotate(-90) scale(1 1.04)" x="-10.5 -4.5 -1.5 4.5" font-size="10.67">0.25</text>
<text transform="translate(326.4 671.75) scale(1 1.06)" text-anchor="middle" font-size="21.6" font-weight="bold">Motif score threshold: 93.900</text>
<text x="326" y="1265.6" text-anchor="middle" font-size="16">Motif score</text>
<text transform="translate(21.9 954.6) rotate(-90) scale(0.985 1.085)" text-anchor="middle" font-size="16">Density</text>
<path d="M79.3 1200.2L80.3 1200.2L81.3 1200.2L82.2 1200.2L83.2 1200.2L84.1 1200.2L85.1 1200.1L86.1 1200.1L87.0 1200.1L88.0 1200.1L89.0 1200.1L89.9 1200.1L90.9 1200.1L91.9 1200.0L92.8 1200.0L93.8 1200.0L94.8 1200.0L95.7 1199.9L96.7 1199.9L97.7 1199.8L98.6 1199.8L99.6 1199.7L100.6 1199.7L101.5 1199.6L102.5 1199.6L103.5 1199.5L104.4 1199.5L105.4 1199.4L106.3 1199.4L107.3 1199.3L108.3 1199.2L109.2 1199.2L110.2 1199.1L111.2 1199.1L112.1 1199.0L113.1 1199.0L114.1 1198.9L115.0 1198.9L116.0 1198.9L117.0 1198.8L117.9 1198.8L118.9 1198.8L119.9 1198.8L120.8 1198.8L121.8 1198.8L122.8 1198.8L123.7 1198.8L124.7 1198.9L125.7 1198.9L126.6 1199.0L127.6 1199.0L128.6 1199.0L129.5 1199.1L130.5 1199.2L131.4 1199.2L132.4 1199.3L133.4 1199.3L134.3 1199.4L135.3 1199.5L136.3 1199.5L137.2 1199.6L138.2 1199.6L139.2 1199.7L140.1 1199.7L141.1 1199.8L142.1 1199.8L143.0 1199.9L144.0 1199.9L145.0 1199.9L145.9 1200.0L146.9 1200.0L147.9 1200.0L148.8 1200.1L149.8 1200.1L150.8 1200.1L151.7 1200.1L152.7 1200.1L153.6 1200.1L154.6 1200.1L155.6 1200.2L156.5 1200.2L157.5 1200.2L158.5 1200.2L159.4 1200.2L160.4 1200.2L161.4 1200.2L162.3 1200.2L163.3 1200.2L164.3 1200.2L165.2 1200.2L166.2 1200.2L167.2 1200.2L168.1 1200.1L169.1 1200.1L170.1 1200.1L171.0 1200.1L172.0 1200.1L173.0 1200.1L173.9 1200.0L174.9 1200.0L175.9 1200.0L176.8 1200.0L177.8 1199.9L178.7 1199.9L179.7 1199.8L180.7 1199.8L181.6 1199.7L182.6 1199.7L183.6 1199.6L184.5 1199.6L185.5 1199.5L186.5 1199.4L187.4 1199.3L188.4 1199.2L189.4 1199.1L190.3 1199.1L191.3 1199.0L192.3 1198.9L193.2 1198.8L194.2 1198.7L195.2 1198.5L196.1 1198.4L197.1 1198.3L198.1 1198.2L199.0 1198.1L200.0 1198.0L200.9 1197.9L201.9 1197.8L202.9 1197.6L203.8 1197.5L204.8 1197.4L205.8 1197.3L206.7 1197.2L207.7 1197.0L208.7 1196.9L209.6 1196.7L210.6 1196.6L211.6 1196.4L212.5 1196.3L213.5 1196.1L214.5 1195.9L215.4 1195.7L216.4 1195.4L217.4 1195.2L218.3 1194.9L219.3 1194.6L220.3 1194.3L221.2 1194.0L222.2 1193.6L223.2 1193.3L224.1 1192.9L225.1 1192.5L226.0 1192.0L227.0 1191.6L228.0 1191.1L228.9 1190.6L229.9 1190.0L230.9 1189.5L231.8 1188.9L232.8 1188.4L233.8 1187.8L234.7 1187.2L235.7 1186.6L236.7 1185.9L237.6 1185.3L238.6 1184.7L239.6 1184.0L240.5 1183.4L241.5 1182.7L242.5 1182.1L243.4 1181.4L244.4 1180.8L245.4 1180.1L246.3 1179.5L247.3 1178.9L248.2 1178.2L249.2 1177.6L250.2 1177.0L251.1 1176.4L252.1 1175.9L253.1 1175.3L254.0 1174.8L255.0 1174.2L256.0 1173.7L256.9 1173.2L257.9 1172.7L258.9 1172.2L259.8 1171.7L260.8 1171.3L261.8 1170.8L262.7 1170.3L263.7 1169.8L264.7 1169.3L265.6 1168.8L266.6 1168.3L267.6 1167.7L268.5 1167.1L269.5 1166.5L270.5 1165.9L271.4 1165.2L272.4 1164.6L273.3 1163.9L274.3 1163.1L275.3 1162.4L276.2 1161.6L277.2 1160.8L278.2 1160.1L279.1 1159.3L280.1 1158.5L281.1 1157.8L282.0 1157.0L283.0 1156.3L284.0 1155.6L284.9 1155.0L285.9 1154.4L286.9 1153.8L287.8 1153.3L288.8 1152.8L289.8 1152.4L290.7 1152.0L291.7 1151.7L292.7 1151.4L293.6 1151.1L294.6 1150.8L295.6 1150.6L296.5 1150.4L297.5 1150.1L298.4 1149.9L299.4 1149.7L300.4 1149.4L301.3 1149.1L302.3 1148.8L303.3 1148.4L304.2 1148.0L305.2 1147.5L306.2 1146.9L307.1 1146.4L308.1 1145.7L309.1 1145.0L310.0 1144.3L311.0 1143.5L312.0 1142.7L312.9 1141.8L313.9 1141.0L314.9 1140.1L315.8 1139.2L316.8 1138.3L317.8 1137.4L318.7 1136.5L319.7 1135.7L320.6 1134.9L321.6 1134.1L322.6 1133.3L323.5 1132.6L324.5 1132.0L325.5 1131.3L326.4 1130.8L327.4 1130.2L328.4 1129.7L329.3 1129.2L330.3 1128.8L331.3 1128.3L332.2 1127.9L333.2 1127.5L334.2 1127.0L335.1 1126.5L336.1 1126.0L337.1 1125.5L338.0 1124.9L339.0 1124.2L340.0 1123.5L340.9 1122.6L341.9 1121.7L342.9 1120.8L343.8 1119.7L344.8 1118.5L345.7 1117.2L346.7 1115.9L347.7 1114.4L348.6 1112.9L349.6 1111.3L350.6 1109.6L351.5 1107.8L352.5 1106.0L353.5 1104.1L354.4 1102.2L355.4 1100.3L356.4 1098.4L357.3 1096.5L358.3 1094.6L359.3 1092.7L360.2 1091.0L361.2 1089.3L362.2 1087.7L363.1 1086.2L364.1 1084.9L365.1 1083.7L366.0 1082.7L367.0 1081.8L367.9 1081.1L368.9 1080.7L369.9 1080.4L370.8 1080.3L371.8 1080.4L372.8 1080.7L373.7 1081.3L374.7 1082.0L375.7 1082.9L376.6 1084.0L377.6 1085.2L378.6 1086.6L379.5 1088.2L380.5 1089.8L381.5 1091.5L382.4 1093.3L383.4 1095.2L384.4 1097.1L385.3 1099.0L386.3 1100.9L387.3 1102.8L388.2 1104.6L389.2 1106.4L390.2 1108.1L391.1 1109.7L392.1 1111.2L393.0 1112.5L394.0 1113.8L395.0 1114.9L395.9 1115.9L396.9 1116.7L397.9 1117.4L398.8 1118.0L399.8 1118.4L400.8 1118.8L401.7 1119.0L402.7 1119.0L403.7 1119.0L404.6 1118.9L405.6 1118.7L406.6 1118.4L407.5 1118.1L408.5 1117.7L409.5 1117.2L410.4 1116.7L411.4 1116.2L412.4 1115.6L413.3 1115.0L414.3 1114.4L415.2 1113.7L416.2 1112.9L417.2 1112.1L418.1 1111.3L419.1 1110.4L420.1 1109.3L421.0 1108.2L422.0 1107.0L423.0 1105.7L423.9 1104.2L424.9 1102.5L425.9 1100.7L426.8 1098.7L427.8 1096.5L428.8 1094.1L429.7 1091.4L430.7 1088.5L431.7 1085.4L432.6 1081.9L433.6 1078.2L434.6 1074.3L435.5 1070.0L436.5 1065.5L437.5 1060.7L438.4 1055.7L439.4 1050.3L440.3 1044.7L441.3 1038.8L442.3 1032.7L443.2 1026.3L444.2 1019.7L445.2 1012.8L446.1 1005.7L447.1 998.3L448.1 990.7L449.0 982.9L450.0 974.8L451.0 966.6L451.9 958.1L452.9 949.4L453.9 940.4L454.8 931.3L455.8 921.9L456.8 912.3L457.7 902.6L458.7 892.6L459.7 882.5L460.6 872.2L461.6 861.8L462.5 851.3L463.5 840.8L464.5 830.2L465.4 819.7L466.4 809.2L467.4 798.9L468.3 788.8L469.3 778.9L470.3 769.4L471.2 760.3L472.2 751.7L473.2 743.6L474.1 736.2L475.1 729.5L476.1 723.6L477.0 718.6L478.0 714.4L479.0 711.2L479.9 709.0L480.9 707.9L481.9 707.8L482.8 708.8L483.8 710.8L484.8 713.9L485.7 718.1L486.7 723.2L487.6 729.3L488.6 736.2L489.6 744.0L490.5 752.4L491.5 761.5L492.5 771.1L493.4 781.2L494.4 791.5L495.4 802.0L496.3 812.6L497.3 823.2L498.3 833.7L499.2 843.9L500.2 853.8L501.2 863.3L502.1 872.2L503.1 880.6L504.1 888.4L505.0 895.5L506.0 901.9L507.0 907.7L507.9 912.7L508.9 917.0L509.9 920.7L510.8 923.8L511.8 926.3L512.7 928.3L513.7 929.9L514.7 931.2L515.6 932.2L516.6 933.1L517.6 933.9L518.5 934.7L519.5 935.7L520.5 936.8L521.4 938.3L522.4 940.1L523.4 942.4L524.3 945.1L525.3 948.4L526.3 952.2L527.2 956.7L528.2 961.7L529.2 967.3L530.1 973.5L531.1 980.2L532.1 987.5L533.0 995.2L534.0 1003.3L534.9 1011.8L535.9 1020.7L536.9 1029.7L537.8 1038.9L538.8 1048.2L539.8 1057.6L540.7 1066.9L541.7 1076.1L542.7 1085.1L543.6 1093.9L544.6 1102.5L545.6 1110.7L546.5 1118.6L547.5 1126.1L548.5 1133.2L549.4 1139.9L550.4 1146.2L551.4 1152.0L552.3 1157.4L553.3 1162.3L554.3 1166.8L555.2 1171.0L556.2 1174.7L557.2 1178.0L558.1 1181.0L559.1 1183.7L560.0 1186.1L561.0 1188.1L562.0 1190.0L562.9 1191.5L563.9 1192.9L564.9 1194.1L565.8 1195.1L566.8 1196.0L567.8 1196.7L568.7 1197.3L569.7 1197.9L570.7 1198.3L571.6 1198.7L572.6 1199.0Z" fill="#f5deb3" stroke="#000" stroke-width="1.1" stroke-linejoin="round"/>
<clipPath id="c3"><rect x="59.8" y="687.8" width="532.4" height="532.9"/></clipPath>
<line x1="363.29" y1="1220.2" x2="363.29" y2="687.8" stroke="#cd2626" stroke-width="1.5" stroke-dasharray="6 6" stroke-linecap="round" clip-path="url(#c3)"/>
<rect x="699.8" y="687.8" width="532.4" height="532.4" fill="none" stroke="#000" stroke-width="0.75"/>
<path d="M747.3 1220.2H1183.5M747.3 1220.2v6M820 1220.2v6M892.7 1220.2v6M965.4 1220.2v6M1038.1 1220.2v6M1110.8 1220.2v6M1183.5 1220.2v6" stroke="#000" stroke-width="0.75" fill="none" stroke-linecap="round"/>
<text x="736.8 739.8 745.8 751.8" y="1241.7" font-size="10.67">-600</text>
<text x="809.5 812.5 818.5 824.5" y="1241.7" font-size="10.67">-400</text>
<text x="882.2 885.2 891.2 897.2" y="1241.7" font-size="10.67">-200</text>
<text x="962.4" y="1241.7" font-size="10.67">0</text>
<text x="1029.1 1035.1 1041.1" y="1241.7" font-size="10.67">200</text>
<text x="1101.8 1107.8 1113.8" y="1241.7" font-size="10.67">400</text>
<text x="1174.5 1180.5 1186.5" y="1241.7" font-size="10.67">600</text>
<path d="M699.8 1200.2V755.5M699.8 1200.2h-6M699.8 1126.08h-6M699.8 1051.97h-6M699.8 977.85h-6M699.8 903.73h-6M699.8 829.62h-6M699.8 755.5h-6" stroke="#000" stroke-width="0.75" fill="none" stroke-linecap="round"/>
<text transform="translate(685.3 1200.2) rotate(-90) scale(1 1.04)" x="-16.5 -10.5 -7.5 -1.5 4.5 10.5" font-size="10.67">0.0000</text>
<text transform="translate(685.3 1126.08) rotate(-90) scale(1 1.04)" x="-16.5 -10.5 -7.5 -1.5 4.5 10.5" font-size="10.67">0.0002</text>
<text transform="translate(685.3 1051.97) rotate(-90) scale(1 1.04)" x="-16.5 -10.5 -7.5 -1.5 4.5 10.5" font-size="10.67">0.0004</text>
<text transform="translate(685.3 977.85) rotate(-90) scale(1 1.04)" x="-16.5 -10.5 -7.5 -1.5 4.5 10.5" font-size="10.67">0.0006</text>
<text transform="translate(685.3 903.73) rotate(-90) scale(1 1.04)" x="-16.5 -10.5 -7.5 -1.5 4.5 10.5" font-size="10.67">0.0008</text>
<text transform="translate(685.3 829.62) rotate(-90) scale(1 1.04)" x="-16.5 -10.5 -7.5 -1.5 4.5 10.5" font-size="10.67">0.0010</text>
<text transform="translate(685.3 755.5) rotate(-90) scale(1 1.04)" x="-16.5 -10.5 -7.5 -1.5 4.5 10.5" font-size="10.67">0.0012</text>
<text transform="translate(966.6 671.75) scale(1 1.06)" text-anchor="middle" font-size="21.6" font-weight="bold">Enrichment zone: 10.50</text>
<text x="966" y="1265.6" text-anchor="middle" font-size="16">Distance to peak summit</text>
<text transform="translate(661.9 954.6) rotate(-90) scale(0.985 1.085)" text-anchor="middle" font-size="16">Density</text>
<path d="M719.3 1199.7L720.3 1199.6L721.3 1199.5L722.2 1199.4L723.2 1199.3L724.2 1199.2L725.1 1199.0L726.1 1198.9L727.1 1198.7L728.0 1198.5L729.0 1198.2L730.0 1198.0L730.9 1197.7L731.9 1197.4L732.8 1197.0L733.8 1196.6L734.8 1196.2L735.7 1195.7L736.7 1195.1L737.7 1194.5L738.6 1193.9L739.6 1193.2L740.6 1192.4L741.5 1191.5L742.5 1190.6L743.5 1189.6L744.4 1188.5L745.4 1187.3L746.3 1186.0L747.3 1184.6L748.3 1183.0L749.2 1181.4L750.2 1179.7L751.2 1177.8L752.1 1175.8L753.1 1173.7L754.1 1171.4L755.0 1169.0L756.0 1166.4L757.0 1163.7L757.9 1160.8L758.9 1157.8L759.9 1154.6L760.8 1151.3L761.8 1147.8L762.7 1144.1L763.7 1140.2L764.7 1136.2L765.6 1132.1L766.6 1127.7L767.6 1123.3L768.5 1118.6L769.5 1113.9L770.5 1108.9L771.4 1103.9L772.4 1098.7L773.4 1093.3L774.3 1087.9L775.3 1082.4L776.2 1076.7L777.2 1071.0L778.2 1065.2L779.1 1059.3L780.1 1053.4L781.1 1047.5L782.0 1041.5L783.0 1035.5L784.0 1029.5L784.9 1023.4L785.9 1017.5L786.9 1011.5L787.8 1005.6L788.8 999.8L789.7 994.0L790.7 988.3L791.7 982.7L792.6 977.3L793.6 971.9L794.6 966.7L795.5 961.5L796.5 956.6L797.5 951.8L798.4 947.1L799.4 942.7L800.4 938.3L801.3 934.2L802.3 930.2L803.2 926.5L804.2 922.9L805.2 919.5L806.1 916.2L807.1 913.2L808.1 910.3L809.0 907.7L810.0 905.2L811.0 902.8L811.9 900.7L812.9 898.7L813.9 896.9L814.8 895.2L815.8 893.7L816.7 892.4L817.7 891.1L818.7 890.0L819.6 889.1L820.6 888.2L821.6 887.5L822.5 886.9L823.5 886.3L824.5 885.9L825.4 885.6L826.4 885.3L827.4 885.1L828.3 885.0L829.3 884.9L830.3 884.9L831.2 884.9L832.2 885.0L833.1 885.1L834.1 885.2L835.1 885.3L836.0 885.5L837.0 885.7L838.0 885.9L838.9 886.1L839.9 886.3L840.9 886.5L841.8 886.7L842.8 886.9L843.8 887.1L844.7 887.2L845.7 887.3L846.6 887.5L847.6 887.5L848.6 887.6L849.5 887.6L850.5 887.6L851.5 887.6L852.4 887.5L853.4 887.4L854.4 887.3L855.3 887.1L856.3 886.9L857.3 886.6L858.2 886.3L859.2 885.9L860.1 885.5L861.1 885.1L862.1 884.6L863.0 884.0L864.0 883.4L865.0 882.8L865.9 882.1L866.9 881.3L867.9 880.5L868.8 879.7L869.8 878.8L870.8 877.8L871.7 876.9L872.7 875.8L873.6 874.7L874.6 873.6L875.6 872.4L876.5 871.1L877.5 869.8L878.5 868.5L879.4 867.1L880.4 865.6L881.4 864.1L882.3 862.6L883.3 861.0L884.3 859.4L885.2 857.7L886.2 855.9L887.1 854.2L888.1 852.4L889.1 850.5L890.0 848.6L891.0 846.7L892.0 844.7L892.9 842.7L893.9 840.7L894.9 838.6L895.8 836.5L896.8 834.4L897.8 832.2L898.7 830.0L899.7 827.8L900.6 825.6L901.6 823.3L902.6 821.1L903.5 818.8L904.5 816.5L905.5 814.2L906.4 811.9L907.4 809.5L908.4 807.2L909.3 804.9L910.3 802.6L911.3 800.2L912.2 797.9L913.2 795.6L914.2 793.3L915.1 790.9L916.1 788.6L917.0 786.3L918.0 784.1L919.0 781.8L919.9 779.5L920.9 777.3L921.9 775.1L922.8 772.8L923.8 770.6L924.8 768.5L925.7 766.3L926.7 764.2L927.7 762.0L928.6 759.9L929.6 757.8L930.5 755.8L931.5 753.7L932.5 751.7L933.4 749.7L934.4 747.8L935.4 745.8L936.3 743.9L937.3 742.0L938.3 740.2L939.2 738.4L940.2 736.6L941.2 734.8L942.1 733.1L943.1 731.4L944.0 729.8L945.0 728.2L946.0 726.6L946.9 725.1L947.9 723.6L948.9 722.2L949.8 720.8L950.8 719.5L951.8 718.2L952.7 717.0L953.7 715.9L954.7 714.8L955.6 713.8L956.6 712.9L957.5 712.1L958.5 711.3L959.5 710.6L960.4 710.0L961.4 709.4L962.4 709.0L963.3 708.6L964.3 708.3L965.3 708.2L966.2 708.1L967.2 708.1L968.2 708.2L969.1 708.4L970.1 708.7L971.0 709.2L972.0 709.7L973.0 710.3L973.9 711.0L974.9 711.8L975.9 712.7L976.8 713.7L977.8 714.8L978.8 716.0L979.7 717.3L980.7 718.7L981.7 720.2L982.6 721.8L983.6 723.4L984.6 725.1L985.5 726.9L986.5 728.8L987.4 730.7L988.4 732.7L989.4 734.8L990.3 736.9L991.3 739.1L992.3 741.3L993.2 743.5L994.2 745.8L995.2 748.2L996.1 750.5L997.1 752.9L998.1 755.3L999.0 757.7L1000.0 760.1L1000.9 762.5L1001.9 764.9L1002.9 767.4L1003.8 769.8L1004.8 772.2L1005.8 774.6L1006.7 776.9L1007.7 779.3L1008.7 781.6L1009.6 783.9L1010.6 786.2L1011.6 788.4L1012.5 790.6L1013.5 792.7L1014.4 794.8L1015.4 796.9L1016.4 798.9L1017.3 800.9L1018.3 802.8L1019.3 804.7L1020.2 806.5L1021.2 808.3L1022.2 810.0L1023.1 811.6L1024.1 813.2L1025.1 814.7L1026.0 816.2L1027.0 817.6L1027.9 819.0L1028.9 820.3L1029.9 821.5L1030.8 822.7L1031.8 823.8L1032.8 824.9L1033.7 825.9L1034.7 826.8L1035.7 827.7L1036.6 828.5L1037.6 829.3L1038.6 830.0L1039.5 830.7L1040.5 831.4L1041.4 832.0L1042.4 832.5L1043.4 833.0L1044.3 833.5L1045.3 834.0L1046.3 834.4L1047.2 834.8L1048.2 835.1L1049.2 835.5L1050.1 835.8L1051.1 836.1L1052.1 836.4L1053.0 836.8L1054.0 837.1L1055.0 837.4L1055.9 837.7L1056.9 838.0L1057.8 838.4L1058.8 838.7L1059.8 839.1L1060.7 839.5L1061.7 839.9L1062.7 840.4L1063.6 840.9L1064.6 841.4L1065.6 842.0L1066.5 842.6L1067.5 843.3L1068.5 844.0L1069.4 844.8L1070.4 845.6L1071.3 846.4L1072.3 847.3L1073.3 848.2L1074.2 849.2L1075.2 850.3L1076.2 851.4L1077.1 852.5L1078.1 853.7L1079.1 854.9L1080.0 856.2L1081.0 857.5L1082.0 858.9L1082.9 860.2L1083.9 861.7L1084.8 863.1L1085.8 864.6L1086.8 866.1L1087.7 867.7L1088.7 869.3L1089.7 870.9L1090.6 872.5L1091.6 874.1L1092.6 875.8L1093.5 877.4L1094.5 879.1L1095.5 880.8L1096.4 882.5L1097.4 884.2L1098.3 886.0L1099.3 887.7L1100.3 889.5L1101.2 891.2L1102.2 893.0L1103.2 894.9L1104.1 896.7L1105.1 898.6L1106.1 900.5L1107.0 902.4L1108.0 904.3L1109.0 906.3L1109.9 908.4L1110.9 910.5L1111.8 912.6L1112.8 914.8L1113.8 917.1L1114.7 919.4L1115.7 921.8L1116.7 924.3L1117.6 926.9L1118.6 929.5L1119.6 932.3L1120.5 935.1L1121.5 938.1L1122.5 941.2L1123.4 944.3L1124.4 947.6L1125.3 951.0L1126.3 954.5L1127.3 958.1L1128.2 961.9L1129.2 965.8L1130.2 969.8L1131.1 973.9L1132.1 978.1L1133.1 982.4L1134.0 986.8L1135.0 991.4L1136.0 996.0L1136.9 1000.7L1137.9 1005.6L1138.9 1010.5L1139.8 1015.4L1140.8 1020.5L1141.7 1025.5L1142.7 1030.7L1143.7 1035.9L1144.6 1041.1L1145.6 1046.3L1146.6 1051.5L1147.5 1056.8L1148.5 1062.0L1149.5 1067.2L1150.4 1072.4L1151.4 1077.5L1152.4 1082.6L1153.3 1087.6L1154.3 1092.5L1155.2 1097.4L1156.2 1102.2L1157.2 1106.9L1158.1 1111.5L1159.1 1116.0L1160.1 1120.4L1161.0 1124.7L1162.0 1128.8L1163.0 1132.8L1163.9 1136.7L1164.9 1140.4L1165.9 1144.1L1166.8 1147.5L1167.8 1150.9L1168.7 1154.1L1169.7 1157.1L1170.7 1160.0L1171.6 1162.8L1172.6 1165.5L1173.6 1168.0L1174.5 1170.3L1175.5 1172.6L1176.5 1174.7L1177.4 1176.7L1178.4 1178.5L1179.4 1180.3L1180.3 1181.9L1181.3 1183.5L1182.2 1184.9L1183.2 1186.2L1184.2 1187.5L1185.1 1188.6L1186.1 1189.7L1187.1 1190.7L1188.0 1191.6L1189.0 1192.4L1190.0 1193.2L1190.9 1193.9L1191.9 1194.5L1192.9 1195.1L1193.8 1195.6L1194.8 1196.1L1195.7 1196.5L1196.7 1196.9L1197.7 1197.3L1198.6 1197.6L1199.6 1197.9L1200.6 1198.2L1201.5 1198.4L1202.5 1198.6L1203.5 1198.8L1204.4 1199.0L1205.4 1199.1L1206.4 1199.3L1207.3 1199.4L1208.3 1199.5L1209.3 1199.6L1210.2 1199.7L1211.2 1199.7L1212.1 1199.8Z" fill="#f5deb3" stroke="#000" stroke-width="1.1" stroke-linejoin="round"/>
<clipPath id="c4"><rect x="699.8" y="687.3" width="532.4" height="533.4"/></clipPath>
<line x1="961.58" y1="1220.2" x2="961.58" y2="687.8" stroke="#006400" stroke-width="1.5" stroke-dasharray="6 6" stroke-linecap="round" clip-path="url(#c4)"/>
<line x1="969.22" y1="1220.2" x2="969.22" y2="687.8" stroke="#006400" stroke-width="1.5" stroke-dasharray="6 6" stroke-linecap="round" clip-path="url(#c4)"/>
<line x1="1017.6" y1="703.4" x2="1042" y2="703.4" stroke="#006400" stroke-width="1.15" stroke-dasharray="1.1 3.4" stroke-linecap="round"/>
<text x="1052.3" y="708.2" font-size="12.9">enrichment zone = 10.5</text>
<line x1="1017.6" y1="718.9" x2="1042" y2="718.9" stroke="#cd2626" stroke-width="1.15" stroke-dasharray="1.1 3.4" stroke-linecap="round"/>
<text x="1052.3" y="723.9" font-size="12.9">motif score threshold = 93.900</text>
<ellipse cx="1029" cy="734.4" rx="3" ry="2.7" fill="#0000ff"/>
<text x="1052.3" y="739.6" font-size="12.9">centrality p-val = NS</text>
</svg></body></html>
